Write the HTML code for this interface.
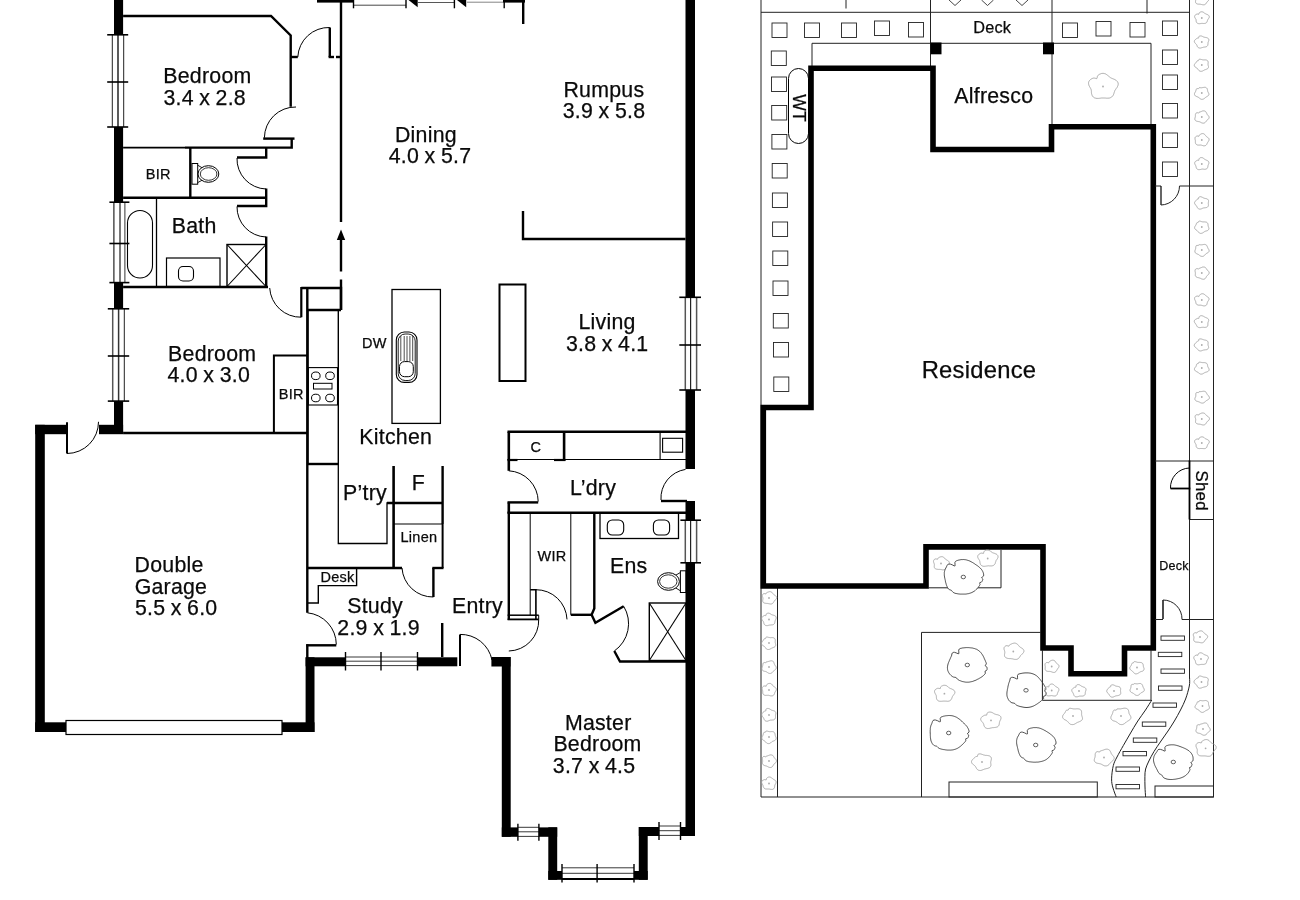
<!DOCTYPE html>
<html lang="en">
<head>
<meta charset="utf-8">
<title>Floor Plan</title>
<style>
html,body{margin:0;padding:0;background:#fff;}
body{width:1300px;height:900px;overflow:hidden;}
svg{display:block;filter:grayscale(1);}
svg text{font-family:"Liberation Sans",Arial,Helvetica,sans-serif;fill:#0a0a0a;stroke:#0a0a0a;stroke-width:0.25px;letter-spacing:0.25px;word-spacing:-0.7px;}
</style>
</head>
<body>
<svg width="1300" height="900" viewBox="0 0 1300 900">
<rect x="0" y="0" width="1300" height="900" fill="#fff"/>
<g id="floorplan">
<rect x="114.0" y="0.0" width="9.1" height="34.8" fill="#000"/>
<rect x="114.0" y="127.0" width="9.1" height="75.2" fill="#000"/>
<rect x="114.0" y="282.6" width="9.1" height="26.2" fill="#000"/>
<rect x="114.0" y="401.1" width="9.1" height="31.9" fill="#000"/>
<rect x="99.0" y="424.8" width="24.1" height="9.4" fill="#000"/>
<rect x="685.5" y="0.0" width="9.5" height="297.3" fill="#000"/>
<rect x="685.5" y="390.0" width="9.5" height="79.0" fill="#000"/>
<rect x="685.5" y="501.0" width="9.5" height="19.5" fill="#000"/>
<rect x="685.5" y="563.0" width="9.5" height="273.0" fill="#000"/>
<rect x="317.0" y="0.0" width="36.0" height="2.6" fill="#000"/>
<rect x="503.0" y="0.0" width="22.0" height="2.6" fill="#000"/>
<rect x="35.2" y="424.8" width="9.6" height="307.2" fill="#000"/>
<rect x="35.2" y="424.8" width="32.3" height="9.4" fill="#000"/>
<rect x="35.2" y="722.3" width="30.8" height="9.7" fill="#000"/>
<rect x="282.0" y="722.3" width="32.5" height="9.7" fill="#000"/>
<rect x="305.6" y="657.3" width="8.9" height="74.7" fill="#000"/>
<rect x="305.6" y="657.3" width="39.7" height="9.0" fill="#000"/>
<rect x="417.5" y="657.3" width="39.8" height="9.0" fill="#000"/>
<rect x="491.4" y="657.0" width="19.1" height="9.5" fill="#000"/>
<rect x="501.8" y="657.0" width="8.9" height="179.8" fill="#000"/>
<rect x="501.8" y="827.4" width="16.2" height="9.4" fill="#000"/>
<rect x="539.0" y="827.4" width="18.2" height="9.4" fill="#000"/>
<rect x="548.3" y="827.3" width="8.9" height="52.5" fill="#000"/>
<rect x="548.3" y="871.0" width="13.7" height="8.8" fill="#000"/>
<rect x="634.0" y="871.0" width="13.7" height="8.8" fill="#000"/>
<rect x="638.8" y="827.0" width="8.9" height="52.8" fill="#000"/>
<rect x="638.8" y="827.0" width="20.2" height="9.0" fill="#000"/>
<rect x="680.5" y="827.0" width="14.5" height="9.0" fill="#000"/>
<line x1="112.3" y1="34.8" x2="112.3" y2="127.0" stroke="#222" stroke-width="1.0"/>
<line x1="118.0" y1="34.8" x2="118.0" y2="127.0" stroke="#333" stroke-width="1.6"/>
<line x1="123.7" y1="34.8" x2="123.7" y2="127.0" stroke="#222" stroke-width="1.0"/>
<line x1="107.2" y1="34.8" x2="128.2" y2="34.8" stroke="#000" stroke-width="1.6"/>
<line x1="107.2" y1="82.0" x2="128.2" y2="82.0" stroke="#000" stroke-width="1.6"/>
<line x1="107.2" y1="127.0" x2="128.2" y2="127.0" stroke="#000" stroke-width="1.6"/>
<line x1="113.9" y1="202.2" x2="113.9" y2="282.6" stroke="#111" stroke-width="1.1"/>
<line x1="120.0" y1="202.2" x2="120.0" y2="282.6" stroke="#555" stroke-width="1.6"/>
<line x1="124.9" y1="202.2" x2="124.9" y2="282.6" stroke="#333" stroke-width="1.0"/>
<line x1="109.4" y1="202.2" x2="129.4" y2="202.2" stroke="#000" stroke-width="1.6"/>
<line x1="109.4" y1="243.5" x2="129.4" y2="243.5" stroke="#000" stroke-width="1.6"/>
<line x1="109.4" y1="282.6" x2="129.4" y2="282.6" stroke="#000" stroke-width="1.6"/>
<line x1="112.7" y1="308.8" x2="112.7" y2="401.1" stroke="#555" stroke-width="1.5"/>
<line x1="118.6" y1="308.8" x2="118.6" y2="401.1" stroke="#333" stroke-width="1.5"/>
<line x1="124.3" y1="308.8" x2="124.3" y2="401.1" stroke="#222" stroke-width="1.0"/>
<line x1="107.8" y1="308.8" x2="129.2" y2="308.8" stroke="#000" stroke-width="1.6"/>
<line x1="107.8" y1="356.0" x2="129.2" y2="356.0" stroke="#000" stroke-width="1.6"/>
<line x1="107.8" y1="401.1" x2="129.2" y2="401.1" stroke="#000" stroke-width="1.6"/>
<line x1="685.3" y1="297.3" x2="685.3" y2="390.0" stroke="#555" stroke-width="1.5"/>
<line x1="690.6" y1="297.3" x2="690.6" y2="390.0" stroke="#222" stroke-width="1.2"/>
<line x1="696.6" y1="297.3" x2="696.6" y2="390.0" stroke="#555" stroke-width="1.5"/>
<line x1="679.3" y1="297.3" x2="701.0" y2="297.3" stroke="#000" stroke-width="1.6"/>
<line x1="679.3" y1="345.0" x2="701.0" y2="345.0" stroke="#000" stroke-width="1.6"/>
<line x1="679.3" y1="390.0" x2="701.0" y2="390.0" stroke="#000" stroke-width="1.6"/>
<line x1="685.3" y1="520.5" x2="685.3" y2="563.0" stroke="#555" stroke-width="1.5"/>
<line x1="690.6" y1="520.5" x2="690.6" y2="563.0" stroke="#222" stroke-width="1.2"/>
<line x1="696.6" y1="520.5" x2="696.6" y2="563.0" stroke="#555" stroke-width="1.5"/>
<line x1="680.4" y1="520.2" x2="701.0" y2="520.2" stroke="#000" stroke-width="1.6"/>
<line x1="680.4" y1="562.8" x2="701.0" y2="562.8" stroke="#000" stroke-width="1.6"/>
<line x1="345.3" y1="657.0" x2="417.5" y2="657.0" stroke="#222" stroke-width="0.9"/>
<line x1="345.3" y1="661.2" x2="417.5" y2="661.2" stroke="#222" stroke-width="0.9"/>
<line x1="345.3" y1="665.6" x2="417.5" y2="665.6" stroke="#222" stroke-width="0.9"/>
<line x1="345.5" y1="652.0" x2="345.5" y2="670.5" stroke="#000" stroke-width="1.4"/>
<line x1="381.0" y1="652.0" x2="381.0" y2="670.5" stroke="#000" stroke-width="1.4"/>
<line x1="417.5" y1="652.0" x2="417.5" y2="670.5" stroke="#000" stroke-width="1.4"/>
<line x1="518.0" y1="827.3" x2="539.0" y2="827.3" stroke="#222" stroke-width="0.9"/>
<line x1="518.0" y1="831.8" x2="539.0" y2="831.8" stroke="#222" stroke-width="0.9"/>
<line x1="518.0" y1="836.4" x2="539.0" y2="836.4" stroke="#222" stroke-width="0.9"/>
<line x1="517.9" y1="823.7" x2="517.9" y2="840.7" stroke="#000" stroke-width="1.4"/>
<line x1="538.9" y1="823.7" x2="538.9" y2="840.7" stroke="#000" stroke-width="1.4"/>
<line x1="659.0" y1="826.0" x2="680.5" y2="826.0" stroke="#222" stroke-width="0.9"/>
<line x1="659.0" y1="830.7" x2="680.5" y2="830.7" stroke="#222" stroke-width="0.9"/>
<line x1="659.0" y1="835.4" x2="680.5" y2="835.4" stroke="#222" stroke-width="0.9"/>
<line x1="659.0" y1="822.0" x2="659.0" y2="840.0" stroke="#000" stroke-width="1.4"/>
<line x1="680.5" y1="822.0" x2="680.5" y2="840.0" stroke="#000" stroke-width="1.4"/>
<line x1="562.0" y1="867.8" x2="634.0" y2="867.8" stroke="#222" stroke-width="0.9"/>
<line x1="562.0" y1="873.3" x2="634.0" y2="873.3" stroke="#222" stroke-width="0.9"/>
<line x1="562.0" y1="864.0" x2="562.0" y2="882.4" stroke="#000" stroke-width="1.4"/>
<line x1="597.1" y1="864.0" x2="597.1" y2="882.4" stroke="#000" stroke-width="1.4"/>
<line x1="634.0" y1="864.0" x2="634.0" y2="882.4" stroke="#000" stroke-width="1.4"/>
<line x1="562.0" y1="879.0" x2="634.0" y2="879.0" stroke="#000" stroke-width="1.8"/>
<rect x="66.0" y="720.5" width="216.0" height="14.0" fill="#fff" stroke="#000" stroke-width="1.2"/>
<line x1="353.5" y1="5.2" x2="406.0" y2="5.2" stroke="#333" stroke-width="0.9"/>
<line x1="418.0" y1="2.5" x2="454.0" y2="2.5" stroke="#444" stroke-width="0.9"/>
<line x1="467.0" y1="2.2" x2="503.0" y2="2.2" stroke="#777" stroke-width="0.9"/>
<line x1="353.5" y1="0.0" x2="353.5" y2="8.3" stroke="#000" stroke-width="1.4"/>
<line x1="406.0" y1="0.0" x2="406.0" y2="8.3" stroke="#000" stroke-width="1.4"/>
<line x1="454.4" y1="0.0" x2="454.4" y2="8.3" stroke="#000" stroke-width="1.4"/>
<line x1="504.2" y1="0.0" x2="504.2" y2="8.3" stroke="#000" stroke-width="1.4"/>
<path d="M408.5,0.0 L417.7,0.0 L417.7,7.3 Z" fill="#000" stroke="#000" stroke-width="0" stroke-linejoin="miter"/>
<path d="M457.0,0.0 L466.2,0.0 L466.2,7.3 Z" fill="#000" stroke="#000" stroke-width="0" stroke-linejoin="miter"/>
<line x1="523.2" y1="0.0" x2="523.2" y2="24.0" stroke="#000" stroke-width="2.4"/>
<path d="M123.1,16.0 L271.0,16.0 L290.7,35.5 L290.7,106.7" fill="none" stroke="#000" stroke-width="2.4" stroke-linejoin="miter"/>
<line x1="290.7" y1="57.0" x2="297.8" y2="57.0" stroke="#000" stroke-width="2.4"/>
<path d="M297.8,57.0 A31,31 0 0 1 329.8,27.5" fill="none" stroke="#000" stroke-width="1.0"/>
<line x1="329.8" y1="27.5" x2="329.8" y2="57.0" stroke="#000" stroke-width="2.4"/>
<line x1="328.6" y1="57.0" x2="334.0" y2="57.0" stroke="#000" stroke-width="2.4"/>
<line x1="336.0" y1="57.0" x2="341.0" y2="57.0" stroke="#000" stroke-width="2.4"/>
<line x1="341.0" y1="0.0" x2="341.0" y2="222.0" stroke="#000" stroke-width="2.4"/>
<path d="M341.0,229.5 L336.8,240.0 L345.2,240.0 Z" fill="#000" stroke="#000" stroke-width="0" stroke-linejoin="miter"/>
<line x1="341.0" y1="239.5" x2="341.0" y2="271.5" stroke="#000" stroke-width="2.4"/>
<line x1="341.0" y1="279.5" x2="341.0" y2="310.0" stroke="#000" stroke-width="2.4"/>
<path d="M296.0,107.0 A31,31 0 0 0 264.4,137.8" fill="none" stroke="#000" stroke-width="1.0"/>
<line x1="263.2" y1="138.6" x2="294.5" y2="138.6" stroke="#000" stroke-width="2.4"/>
<path d="M291.7,138.6 L291.7,147.6 L185.0,147.6" fill="none" stroke="#000" stroke-width="2.4" stroke-linejoin="miter"/>
<line x1="123.1" y1="147.6" x2="185.0" y2="147.6" stroke="#000" stroke-width="1.6"/>
<path d="M266.2,147.6 L266.2,157.5 L237.0,157.5" fill="none" stroke="#000" stroke-width="2.4" stroke-linejoin="miter"/>
<line x1="190.3" y1="147.6" x2="190.3" y2="197.7" stroke="#000" stroke-width="2.4"/>
<line x1="123.1" y1="197.7" x2="266.2" y2="197.7" stroke="#000" stroke-width="2.4"/>
<path d="M237.0,158.0 A30,30 0 0 0 266.0,189.0" fill="none" stroke="#000" stroke-width="1.0"/>
<path d="M266.2,188.5 L266.2,206.0 L237.0,206.0" fill="none" stroke="#000" stroke-width="2.4" stroke-linejoin="miter"/>
<path d="M237.0,206.5 A30,30 0 0 0 266.0,237.0" fill="none" stroke="#000" stroke-width="1.0"/>
<line x1="266.2" y1="236.5" x2="266.2" y2="288.0" stroke="#000" stroke-width="2.4"/>
<line x1="123.1" y1="287.0" x2="268.0" y2="287.0" stroke="#000" stroke-width="2.4"/>
<line x1="156.5" y1="198.0" x2="156.5" y2="287.0" stroke="#000" stroke-width="1.3"/>
<rect x="127.5" y="210.5" width="25.0" height="67.5" rx="12.5" fill="none" stroke="#000" stroke-width="1.1"/>
<rect x="166.5" y="258.0" width="53.5" height="28.5" fill="none" stroke="#000" stroke-width="1.2"/>
<rect x="178.5" y="266.5" width="15.0" height="14.5" rx="4.5" fill="none" stroke="#000" stroke-width="1.1"/>
<rect x="227.0" y="244.5" width="39.0" height="42.0" fill="none" stroke="#000" stroke-width="1.4"/>
<line x1="227.0" y1="244.5" x2="266.0" y2="286.5" stroke="#000" stroke-width="1.1"/>
<line x1="227.0" y1="286.5" x2="266.0" y2="244.5" stroke="#000" stroke-width="1.1"/>
<rect x="192.0" y="163.5" width="5.7" height="20.7" fill="none" stroke="#000" stroke-width="1.0"/>
<path d="M197.7,165.2 L202.5,168 M197.7,182.6 L202.5,180" fill="none" stroke="#000" stroke-width="0.9"/>
<ellipse cx="208.4" cy="174" rx="10.4" ry="8.3" fill="#fff" stroke="#000" stroke-width="1"/>
<ellipse cx="208.6" cy="174" rx="8.3" ry="6.3" fill="none" stroke="#000" stroke-width="0.8"/>
<path d="M269.7,288.0 A31,31 0 0 0 301.3,317.2" fill="none" stroke="#000" stroke-width="1.0"/>
<line x1="301.3" y1="287.0" x2="301.3" y2="317.2" stroke="#000" stroke-width="2.2"/>
<line x1="123.1" y1="433.0" x2="307.0" y2="433.0" stroke="#000" stroke-width="2.4"/>
<path d="M307.0,355.4 L273.9,355.4 L273.9,433.0" fill="none" stroke="#000" stroke-width="2.0" stroke-linejoin="miter"/>
<line x1="307.3" y1="288.0" x2="307.3" y2="612.8" stroke="#000" stroke-width="2.4"/>
<line x1="307.3" y1="644.3" x2="307.3" y2="658.0" stroke="#000" stroke-width="2.4"/>
<path d="M301.3,288.0 L341.0,288.0 L341.0,310.0" fill="none" stroke="#000" stroke-width="2.4" stroke-linejoin="miter"/>
<rect x="308.0" y="310.0" width="30.3" height="154.0" fill="none" stroke="#000" stroke-width="1.4"/>
<line x1="307.0" y1="310.0" x2="341.0" y2="310.0" stroke="#000" stroke-width="2.4"/>
<line x1="307.0" y1="464.0" x2="338.3" y2="464.0" stroke="#000" stroke-width="2.4"/>
<rect x="308.3" y="367.6" width="29.2" height="37.4" fill="none" stroke="#000" stroke-width="1.1"/>
<ellipse cx="315.8" cy="375.8" rx="4.3" ry="3.8" fill="none" stroke="#000" stroke-width="1"/>
<ellipse cx="330" cy="375.8" rx="4.3" ry="3.8" fill="none" stroke="#000" stroke-width="1"/>
<ellipse cx="315.8" cy="398" rx="4.3" ry="3.8" fill="none" stroke="#000" stroke-width="1"/>
<ellipse cx="330" cy="398" rx="4.3" ry="3.8" fill="none" stroke="#000" stroke-width="1"/>
<rect x="313.5" y="383.3" width="18.5" height="5.7" fill="none" stroke="#000" stroke-width="1.0"/>
<rect x="392.0" y="289.5" width="48.4" height="133.9" fill="none" stroke="#000" stroke-width="1.3"/>
<rect x="396.3" y="332.0" width="20.7" height="50.4" rx="8" fill="none" stroke="#000" stroke-width="1.1"/>
<rect x="398.2" y="334.0" width="17.0" height="46.5" rx="7" fill="none" stroke="#000" stroke-width="0.9"/>
<line x1="400.8" y1="336.0" x2="400.8" y2="361.0" stroke="#222" stroke-width="0.8"/>
<line x1="404.2" y1="336.0" x2="404.2" y2="361.0" stroke="#222" stroke-width="0.8"/>
<line x1="407.0" y1="336.0" x2="407.0" y2="361.0" stroke="#222" stroke-width="0.8"/>
<line x1="409.9" y1="336.0" x2="409.9" y2="361.0" stroke="#222" stroke-width="0.8"/>
<line x1="412.7" y1="336.0" x2="412.7" y2="361.0" stroke="#222" stroke-width="0.8"/>
<rect x="399.5" y="361.6" width="13.8" height="15.1" rx="5" fill="none" stroke="#000" stroke-width="1.0"/>
<rect x="499.5" y="284.5" width="26.0" height="96.5" fill="none" stroke="#000" stroke-width="2.0"/>
<path d="M523.0,211.0 L523.0,239.0 L685.5,239.0" fill="none" stroke="#000" stroke-width="2.4" stroke-linejoin="miter"/>
<path d="M338.3,464.0 L338.3,543.5 L387.0,543.5 L387.0,503.0 L394.0,503.0" fill="none" stroke="#000" stroke-width="1.3" stroke-linejoin="miter"/>
<line x1="393.6" y1="466.0" x2="393.6" y2="568.0" stroke="#000" stroke-width="2.6"/>
<line x1="442.6" y1="466.0" x2="442.6" y2="524.0" stroke="#000" stroke-width="2.4"/>
<line x1="442.6" y1="524.0" x2="442.6" y2="568.0" stroke="#000" stroke-width="2.0"/>
<line x1="387.0" y1="503.0" x2="443.0" y2="503.0" stroke="#000" stroke-width="2.4"/>
<line x1="394.0" y1="524.0" x2="443.0" y2="524.0" stroke="#000" stroke-width="1.2"/>
<line x1="307.0" y1="568.0" x2="402.0" y2="568.0" stroke="#000" stroke-width="2.6"/>
<line x1="432.3" y1="568.0" x2="443.5" y2="568.0" stroke="#000" stroke-width="2.4"/>
<path d="M402.0,568.0 A31,31 0 0 0 433.4,597.0" fill="none" stroke="#000" stroke-width="1.0"/>
<line x1="433.4" y1="568.0" x2="433.4" y2="597.0" stroke="#000" stroke-width="2.4"/>
<path d="M356.6,568.0 L356.6,585.6 L318.3,585.6 L318.3,603.0 L307.4,603.0" fill="none" stroke="#000" stroke-width="1.4" stroke-linejoin="miter"/>
<path d="M307.4,612.8 A32,32 0 0 1 336.3,644.5" fill="none" stroke="#000" stroke-width="1.0"/>
<line x1="306.2" y1="645.3" x2="336.3" y2="645.3" stroke="#000" stroke-width="2.4"/>
<line x1="442.2" y1="623.0" x2="442.2" y2="657.0" stroke="#000" stroke-width="2.4"/>
<line x1="460.0" y1="634.4" x2="460.0" y2="666.0" stroke="#000" stroke-width="2.0"/>
<path d="M460.0,634.4 A32,32 0 0 1 492.0,660.0" fill="none" stroke="#000" stroke-width="1.0"/>
<line x1="67.0" y1="422.3" x2="67.0" y2="453.5" stroke="#000" stroke-width="2.0"/>
<path d="M67.0,453.5 A31.6,31.6 0 0 0 98.5,421.8" fill="none" stroke="#000" stroke-width="1.0"/>
<line x1="507.5" y1="431.7" x2="686.0" y2="431.7" stroke="#000" stroke-width="2.4"/>
<line x1="508.8" y1="431.7" x2="508.8" y2="470.8" stroke="#000" stroke-width="2.6"/>
<line x1="564.1" y1="431.7" x2="564.1" y2="461.0" stroke="#000" stroke-width="2.6"/>
<line x1="507.5" y1="459.5" x2="686.0" y2="459.5" stroke="#000" stroke-width="1.2"/>
<line x1="507.5" y1="460.0" x2="517.5" y2="460.0" stroke="#000" stroke-width="2.2"/>
<line x1="554.0" y1="460.0" x2="565.4" y2="460.0" stroke="#000" stroke-width="2.2"/>
<line x1="660.1" y1="431.7" x2="660.1" y2="459.5" stroke="#000" stroke-width="1.1"/>
<rect x="662.6" y="438.3" width="20.0" height="13.9" fill="none" stroke="#000" stroke-width="1.1"/>
<path d="M508.8,470.8 A31,31 0 0 1 538.2,501.5" fill="none" stroke="#000" stroke-width="1.0"/>
<line x1="507.5" y1="502.4" x2="538.2" y2="502.4" stroke="#000" stroke-width="2.4"/>
<path d="M685.5,469.4 A29,29 0 0 0 661.0,500.0" fill="none" stroke="#000" stroke-width="1.0"/>
<line x1="661.0" y1="501.0" x2="687.0" y2="501.0" stroke="#000" stroke-width="2.4"/>
<line x1="508.8" y1="502.4" x2="508.8" y2="512.7" stroke="#000" stroke-width="2.6"/>
<line x1="507.5" y1="512.7" x2="687.0" y2="512.7" stroke="#000" stroke-width="2.6"/>
<line x1="508.8" y1="512.0" x2="508.8" y2="620.0" stroke="#000" stroke-width="2.4"/>
<line x1="530.2" y1="512.0" x2="530.2" y2="615.2" stroke="#000" stroke-width="1.0"/>
<path d="M530.2,589.7 L535.9,589.7 L535.9,619.4" fill="none" stroke="#000" stroke-width="1.6" stroke-linejoin="miter"/>
<path d="M535.9,589.7 A31,31 0 0 1 567.0,619.4" fill="none" stroke="#000" stroke-width="1.0"/>
<line x1="507.6" y1="615.2" x2="538.7" y2="615.2" stroke="#000" stroke-width="1.5"/>
<line x1="507.6" y1="619.4" x2="538.7" y2="619.4" stroke="#000" stroke-width="1.8"/>
<line x1="538.7" y1="615.2" x2="538.7" y2="619.4" stroke="#000" stroke-width="1.0"/>
<path d="M538.7,619.4 A30.5,30.5 0 0 1 508.8,651.0" fill="none" stroke="#000" stroke-width="1.0"/>
<line x1="570.8" y1="512.0" x2="570.8" y2="614.8" stroke="#000" stroke-width="1.0"/>
<line x1="570.8" y1="614.8" x2="591.6" y2="614.8" stroke="#000" stroke-width="2.4"/>
<path d="M594.3,512.0 L594.3,608.6 L591.6,614.8 L595.4,622.8 L623.7,606.3" fill="none" stroke="#000" stroke-width="2.4" stroke-linejoin="miter"/>
<path d="M623.7,606.3 A33.3,33.3 0 0 1 614.3,651.0" fill="none" stroke="#000" stroke-width="1.0"/>
<path d="M614.3,651.0 L620.0,661.5 L686.0,661.5" fill="none" stroke="#000" stroke-width="2.4" stroke-linejoin="miter"/>
<rect x="600.0" y="513.0" width="78.5" height="25.5" fill="none" stroke="#000" stroke-width="1.3"/>
<rect x="607.3" y="520.0" width="16.4" height="15.0" rx="5" fill="none" stroke="#000" stroke-width="1.1"/>
<rect x="653.4" y="520.0" width="16.2" height="15.0" rx="5" fill="none" stroke="#000" stroke-width="1.1"/>
<rect x="680.4" y="570.8" width="5.6" height="21.7" fill="none" stroke="#000" stroke-width="1.0"/>
<path d="M680.4,572.5 L675.5,575.3 M680.4,590.8 L675.5,587.8" fill="none" stroke="#000" stroke-width="0.9"/>
<ellipse cx="668.5" cy="581.5" rx="10.9" ry="8.8" fill="#fff" stroke="#000" stroke-width="1"/>
<ellipse cx="668.3" cy="581.5" rx="8.7" ry="6.7" fill="none" stroke="#000" stroke-width="0.8"/>
<rect x="649.3" y="603.0" width="36.7" height="57.5" fill="none" stroke="#000" stroke-width="1.4"/>
<line x1="649.3" y1="603.0" x2="686.0" y2="660.5" stroke="#000" stroke-width="1.1"/>
<line x1="649.3" y1="660.5" x2="686.0" y2="603.0" stroke="#000" stroke-width="1.1"/>
<text x="207.4" y="83.1" font-size="21.3" text-anchor="middle">Bedroom</text>
<text x="204.7" y="104.7" font-size="21.3" text-anchor="middle">3.4 x 2.8</text>
<text x="158.2" y="179.4" font-size="14.5" text-anchor="middle">BIR</text>
<text x="194.2" y="233.4" font-size="21.3" text-anchor="middle">Bath</text>
<text x="425.9" y="142.3" font-size="21.3" text-anchor="middle">Dining</text>
<text x="430.0" y="163.4" font-size="21.3" text-anchor="middle">4.0 x 5.7</text>
<text x="603.9" y="96.6" font-size="21.3" text-anchor="middle">Rumpus</text>
<text x="604.0" y="117.8" font-size="21.3" text-anchor="middle">3.9 x 5.8</text>
<text x="607.1" y="329.4" font-size="21.3" text-anchor="middle">Living</text>
<text x="607.2" y="350.6" font-size="21.3" text-anchor="middle">3.8 x 4.1</text>
<text x="212.2" y="360.6" font-size="21.3" text-anchor="middle">Bedroom</text>
<text x="208.8" y="381.9" font-size="21.3" text-anchor="middle">4.0 x 3.0</text>
<text x="291.2" y="399.4" font-size="14.5" text-anchor="middle">BIR</text>
<text x="374.3" y="348.0" font-size="14.5" text-anchor="middle">DW</text>
<text x="395.7" y="443.9" font-size="21.3" text-anchor="middle">Kitchen</text>
<text x="365.0" y="499.6" font-size="21.3" text-anchor="middle">P’try</text>
<text x="418.4" y="489.6" font-size="21.3" text-anchor="middle">F</text>
<text x="418.9" y="542.3" font-size="14.5" text-anchor="middle">Linen</text>
<text x="337.6" y="581.8" font-size="14.5" text-anchor="middle">Desk</text>
<text x="375.1" y="613.4" font-size="21.3" text-anchor="middle">Study</text>
<text x="378.6" y="635.2" font-size="21.3" text-anchor="middle">2.9 x 1.9</text>
<text x="477.5" y="612.9" font-size="21.3" text-anchor="middle">Entry</text>
<text x="535.9" y="451.9" font-size="14.5" text-anchor="middle">C</text>
<text x="593.0" y="495.1" font-size="21.3" text-anchor="middle">L’dry</text>
<text x="552.0" y="561.0" font-size="14.5" text-anchor="middle">WIR</text>
<text x="628.7" y="572.7" font-size="21.3" text-anchor="middle">Ens</text>
<text x="169.1" y="572.3" font-size="21.3" text-anchor="middle">Double</text>
<text x="170.9" y="593.6" font-size="21.3" text-anchor="middle">Garage</text>
<text x="176.2" y="614.9" font-size="21.3" text-anchor="middle">5.5 x 6.0</text>
<text x="598.2" y="729.9" font-size="21.3" text-anchor="middle">Master</text>
<text x="597.5" y="751.3" font-size="21.3" text-anchor="middle">Bedroom</text>
<text x="594.1" y="772.6" font-size="21.3" text-anchor="middle">3.7 x 4.5</text>
</g>
<g id="siteplan">
<line x1="761.0" y1="0.0" x2="761.0" y2="797.0" stroke="#222" stroke-width="1.0"/>
<line x1="761.0" y1="12.3" x2="1189.5" y2="12.3" stroke="#222" stroke-width="1.0"/>
<line x1="846.0" y1="0.0" x2="846.0" y2="8.5" stroke="#222" stroke-width="1.0"/>
<line x1="930.5" y1="0.0" x2="930.5" y2="66.0" stroke="#222" stroke-width="1.0"/>
<line x1="1052.0" y1="0.0" x2="1052.0" y2="124.0" stroke="#222" stroke-width="1.0"/>
<line x1="1147.0" y1="0.0" x2="1147.0" y2="13.5" stroke="#222" stroke-width="1.0"/>
<line x1="1189.5" y1="0.0" x2="1189.5" y2="678.5" stroke="#222" stroke-width="1.0"/>
<line x1="1213.5" y1="0.0" x2="1213.5" y2="797.0" stroke="#222" stroke-width="1.0"/>
<line x1="761.0" y1="797.0" x2="1213.5" y2="797.0" stroke="#222" stroke-width="1.2"/>
<line x1="777.5" y1="588.0" x2="777.5" y2="797.0" stroke="#222" stroke-width="1.0"/>
<path d="M812.0,66.0 L812.0,43.3 L1151.0,43.3 L1151.0,125.0" fill="none" stroke="#222" stroke-width="1.0" stroke-linejoin="miter"/>
<path d="M949.0,0.0 L955.0,5.5 L961.0,0.0" fill="none" stroke="#333" stroke-width="0.9" stroke-linejoin="miter"/>
<path d="M981.5,0.0 L987.5,5.5 L993.5,0.0" fill="none" stroke="#333" stroke-width="0.9" stroke-linejoin="miter"/>
<path d="M1016.0,0.0 L1022.0,5.5 L1028.0,0.0" fill="none" stroke="#333" stroke-width="0.9" stroke-linejoin="miter"/>
<rect x="930.5" y="42.5" width="11.0" height="11.8" fill="#000"/>
<rect x="1043.0" y="42.5" width="11.0" height="11.8" fill="#000"/>
<rect x="772.0" y="23.0" width="15.0" height="14.5" fill="none" stroke="#222" stroke-width="0.9"/>
<rect x="804.5" y="23.0" width="15.0" height="14.5" fill="none" stroke="#222" stroke-width="0.9"/>
<rect x="841.5" y="23.0" width="15.0" height="14.5" fill="none" stroke="#222" stroke-width="0.9"/>
<rect x="874.5" y="21.0" width="15.0" height="14.5" fill="none" stroke="#222" stroke-width="0.9"/>
<rect x="908.5" y="22.5" width="15.0" height="14.5" fill="none" stroke="#222" stroke-width="0.9"/>
<rect x="1062.5" y="23.0" width="15.0" height="14.5" fill="none" stroke="#222" stroke-width="0.9"/>
<rect x="1096.0" y="21.5" width="15.0" height="14.5" fill="none" stroke="#222" stroke-width="0.9"/>
<rect x="1130.0" y="22.5" width="15.0" height="14.5" fill="none" stroke="#222" stroke-width="0.9"/>
<rect x="1162.5" y="21.0" width="15.0" height="14.5" fill="none" stroke="#222" stroke-width="0.9"/>
<rect x="771.3" y="51.0" width="15.0" height="14.5" fill="none" stroke="#222" stroke-width="0.9"/>
<rect x="771.5" y="77.0" width="15.0" height="14.5" fill="none" stroke="#222" stroke-width="0.9"/>
<rect x="771.7" y="105.5" width="15.0" height="14.5" fill="none" stroke="#222" stroke-width="0.9"/>
<rect x="771.9" y="134.5" width="15.0" height="14.5" fill="none" stroke="#222" stroke-width="0.9"/>
<rect x="772.2" y="163.5" width="15.0" height="14.5" fill="none" stroke="#222" stroke-width="0.9"/>
<rect x="772.4" y="193.0" width="15.0" height="14.5" fill="none" stroke="#222" stroke-width="0.9"/>
<rect x="772.6" y="222.0" width="15.0" height="14.5" fill="none" stroke="#222" stroke-width="0.9"/>
<rect x="772.8" y="251.0" width="15.0" height="14.5" fill="none" stroke="#222" stroke-width="0.9"/>
<rect x="773.0" y="281.0" width="15.0" height="14.5" fill="none" stroke="#222" stroke-width="0.9"/>
<rect x="773.3" y="313.5" width="15.0" height="14.5" fill="none" stroke="#222" stroke-width="0.9"/>
<rect x="773.5" y="342.5" width="15.0" height="14.5" fill="none" stroke="#222" stroke-width="0.9"/>
<rect x="773.8" y="377.0" width="15.0" height="14.5" fill="none" stroke="#222" stroke-width="0.9"/>
<rect x="1162.5" y="50.0" width="15.0" height="14.5" fill="none" stroke="#222" stroke-width="0.9"/>
<rect x="1162.5" y="75.0" width="15.0" height="14.5" fill="none" stroke="#222" stroke-width="0.9"/>
<rect x="1162.5" y="103.5" width="15.0" height="14.5" fill="none" stroke="#222" stroke-width="0.9"/>
<rect x="1162.5" y="133.0" width="15.0" height="14.5" fill="none" stroke="#222" stroke-width="0.9"/>
<rect x="1162.5" y="162.0" width="15.0" height="14.5" fill="none" stroke="#222" stroke-width="0.9"/>
<rect x="788.5" y="68.5" width="20.0" height="75.0" rx="10" fill="none" stroke="#000" stroke-width="1.0"/>
<text x="799" y="108" font-size="17.5" text-anchor="middle" transform="rotate(90 799 108)" dy="6">WT</text>
<path d="M811.0,68.3 L933.0,68.3 L933.0,149.5 L1051.5,149.5 L1051.5,126.7 L1153.3,126.7 L1153.3,648.0 L1124.5,648.0 L1124.5,673.7 L1071.0,673.7 L1071.0,648.0 L1043.0,648.0 L1043.0,546.9 L926.0,546.9 L926.0,586.0 L763.3,586.0 L763.3,407.5 L811.0,407.5 Z" fill="none" stroke="#000" stroke-width="5.6" stroke-linejoin="miter"/>
<line x1="1155.0" y1="186.0" x2="1161.0" y2="186.0" stroke="#222" stroke-width="1.0"/>
<line x1="1179.5" y1="186.0" x2="1213.5" y2="186.0" stroke="#222" stroke-width="1.0"/>
<line x1="1161.0" y1="186.0" x2="1161.0" y2="205.0" stroke="#000" stroke-width="1.2"/>
<path d="M1161.0,205.0 A19,19 0 0 0 1179.5,186.0" fill="none" stroke="#222" stroke-width="1.0"/>
<line x1="1155.0" y1="461.0" x2="1213.5" y2="461.0" stroke="#222" stroke-width="1.0"/>
<line x1="1189.5" y1="519.5" x2="1213.5" y2="519.5" stroke="#222" stroke-width="1.0"/>
<line x1="1189.5" y1="460.5" x2="1189.5" y2="519.5" stroke="#000" stroke-width="1.8"/>
<line x1="1170.5" y1="488.5" x2="1190.3" y2="488.5" stroke="#000" stroke-width="1.8"/>
<path d="M1170.5,488.5 A19.5,19.5 0 0 1 1189.5,468.0" fill="none" stroke="#000" stroke-width="1.0"/>
<text x="1201.5" y="490.7" font-size="16.8" text-anchor="middle" transform="rotate(90 1201.5 490.7)" dy="5.7">Shed</text>
<text x="1174.0" y="569.5" font-size="12.5" text-anchor="middle">Deck</text>
<line x1="1155.0" y1="619.5" x2="1163.0" y2="619.5" stroke="#222" stroke-width="1.0"/>
<line x1="1182.0" y1="619.5" x2="1213.5" y2="619.5" stroke="#222" stroke-width="1.0"/>
<line x1="1163.0" y1="600.0" x2="1163.0" y2="619.0" stroke="#000" stroke-width="1.4"/>
<path d="M1163.0,600.0 A19,19 0 0 1 1182.0,619.5" fill="none" stroke="#222" stroke-width="1.0"/>
<path d="M1117.5,86.5 L1117.2,87.2 L1116.8,87.8 L1116.3,88.4 L1115.9,88.9 L1115.6,89.5 L1115.2,90.0 L1114.9,90.5 L1114.7,91.1 L1114.5,91.6 L1114.3,92.2 L1114.1,92.8 L1113.9,93.5 L1113.7,94.1 L1113.4,94.8 L1113.1,95.4 L1112.7,96.0 L1112.2,96.5 L1111.7,97.0 L1111.1,97.4 L1110.4,97.7 L1109.6,98.0 L1108.9,98.1 L1108.1,98.2 L1107.3,98.2 L1106.6,98.2 L1105.8,98.1 L1105.1,98.0 L1104.4,98.0 L1103.7,98.0 L1103.0,98.0 L1102.3,98.0 L1101.6,98.0 L1100.9,98.1 L1100.2,98.2 L1099.4,98.3 L1098.6,98.4 L1097.8,98.4 L1097.0,98.4 L1096.1,98.3 L1095.4,98.1 L1094.6,97.9 L1093.9,97.5 L1093.3,97.0 L1092.8,96.5 L1092.4,95.9 L1092.0,95.2 L1091.8,94.5 L1091.6,93.8 L1091.5,93.1 L1091.4,92.4 L1091.4,91.7 L1091.4,91.1 L1091.3,90.5 L1091.2,89.9 L1091.0,89.3 L1090.8,88.8 L1090.5,88.2 L1090.2,87.7 L1089.9,87.1 L1089.5,86.5 L1089.2,85.9 L1088.9,85.2 L1088.7,84.5 L1088.6,83.8 L1088.5,83.1 L1088.6,82.4 L1088.8,81.7 L1089.1,81.1 L1089.5,80.5 L1090.1,79.9 L1090.6,79.5 L1091.3,79.0 L1092.0,78.6 L1092.7,78.3 L1093.4,78.1 L1094.4,78.1 L1095.4,78.3 L1096.4,78.6 L1097.0,78.4 L1097.2,77.6 L1097.3,76.7 L1097.6,75.8 L1098.1,75.3 L1098.7,74.8 L1099.3,74.4 L1100.0,74.1 L1100.7,73.8 L1101.4,73.5 L1102.2,73.4 L1103.0,73.4 L1103.8,73.4 L1104.5,73.6 L1105.3,73.8 L1106.0,74.2 L1106.6,74.6 L1107.2,75.0 L1107.8,75.5 L1108.3,75.9 L1108.9,76.4 L1109.4,76.8 L1109.9,77.2 L1110.4,77.6 L1110.9,77.9 L1111.5,78.2 L1112.2,78.5 L1112.8,78.7 L1113.5,79.0 L1114.3,79.3 L1115.0,79.7 L1115.7,80.1 L1116.3,80.5 L1116.9,81.1 L1117.4,81.6 L1117.8,82.3 L1118.1,83.0 L1118.2,83.7 L1118.2,84.4 L1118.1,85.1 L1117.8,85.8 Z" fill="none" stroke="#a2a2a2" stroke-width="0.9" stroke-linejoin="round"/>
<circle cx="1103.0" cy="86.5" r="0.9" fill="#aaa"/>
<path d="M928.0,587.8 L1001.0,587.8 L1001.0,550.0" fill="none" stroke="#222" stroke-width="1.0" stroke-linejoin="miter"/>
<path d="M949.3,563.5 L949.2,563.9 L949.0,564.2 L948.7,564.5 L948.5,564.8 L948.2,565.1 L947.9,565.4 L947.7,565.7 L947.4,565.9 L947.2,566.2 L947.0,566.4 L946.9,566.7 L946.7,567.0 L946.5,567.3 L946.4,567.6 L946.2,567.9 L946.0,568.2 L945.8,568.5 L945.6,568.8 L945.3,569.1 L945.0,569.3 L944.6,569.5 L944.3,569.7 L943.9,569.8 L943.4,569.8 L943.0,569.8 L942.6,569.8 L942.2,569.8 L941.8,569.7 L941.4,569.6 L941.0,569.5 L940.6,569.5 L940.3,569.4 L939.9,569.4 L939.5,569.4 L939.1,569.3 L938.7,569.4 L938.3,569.4 L937.9,569.4 L937.5,569.3 L937.0,569.3 L936.6,569.2 L936.2,569.1 L935.8,569.0 L935.4,568.8 L935.1,568.5 L934.8,568.2 L934.6,567.9 L934.4,567.5 L934.3,567.2 L934.3,566.8 L934.2,566.4 L934.2,566.0 L934.3,565.7 L934.3,565.3 L934.3,565.0 L934.4,564.7 L934.3,564.4 L934.3,564.1 L934.2,563.8 L934.1,563.5 L934.0,563.2 L933.9,562.9 L933.7,562.5 L933.6,562.2 L933.5,561.8 L933.5,561.4 L933.5,561.1 L933.6,560.7 L933.7,560.4 L933.9,560.0 L934.1,559.7 L934.4,559.5 L934.7,559.2 L935.1,559.0 L935.5,558.9 L936.1,558.9 L936.7,559.1 L937.3,559.2 L937.7,559.2 L937.8,558.9 L937.9,558.4 L938.1,558.1 L938.4,557.8 L938.7,557.7 L939.1,557.5 L939.4,557.3 L939.8,557.1 L940.2,557.0 L940.6,556.8 L941.0,556.7 L941.4,556.7 L941.9,556.7 L942.3,556.7 L942.7,556.8 L943.1,557.0 L943.4,557.2 L943.8,557.4 L944.1,557.7 L944.4,557.9 L944.6,558.2 L944.9,558.5 L945.1,558.8 L945.3,559.0 L945.6,559.2 L945.8,559.5 L946.1,559.6 L946.4,559.8 L946.7,560.0 L947.1,560.2 L947.4,560.4 L947.8,560.6 L948.1,560.8 L948.5,561.1 L948.8,561.4 L949.0,561.7 L949.2,562.0 L949.3,562.4 L949.4,562.8 L949.4,563.1 Z" fill="none" stroke="#a2a2a2" stroke-width="0.9" stroke-linejoin="round"/>
<circle cx="941.0" cy="563.5" r="0.9" fill="#aaa"/>
<path d="M997.5,558.5 L997.2,558.9 L997.0,559.3 L996.7,559.7 L996.5,560.0 L996.2,560.4 L996.0,560.7 L995.9,561.1 L995.8,561.5 L995.6,561.8 L995.5,562.2 L995.4,562.6 L995.3,563.1 L995.2,563.5 L995.0,563.9 L994.7,564.3 L994.4,564.6 L994.1,565.0 L993.7,565.3 L993.2,565.5 L992.7,565.7 L992.2,565.8 L991.7,565.9 L991.2,565.9 L990.6,565.9 L990.1,565.9 L989.6,565.9 L989.1,565.9 L988.6,565.8 L988.2,565.8 L987.7,565.9 L987.2,565.9 L986.7,566.0 L986.2,566.1 L985.7,566.2 L985.2,566.2 L984.6,566.3 L984.1,566.3 L983.5,566.3 L983.0,566.2 L982.4,566.0 L981.9,565.8 L981.5,565.5 L981.1,565.2 L980.8,564.8 L980.5,564.4 L980.3,564.0 L980.2,563.5 L980.1,563.1 L980.0,562.6 L979.9,562.2 L979.9,561.8 L979.8,561.4 L979.7,561.0 L979.6,560.7 L979.5,560.3 L979.3,560.0 L979.0,559.6 L978.8,559.3 L978.5,558.9 L978.3,558.5 L978.1,558.1 L977.9,557.6 L977.7,557.2 L977.7,556.7 L977.7,556.3 L977.8,555.8 L978.0,555.4 L978.2,555.0 L978.5,554.7 L978.9,554.3 L979.3,554.0 L979.8,553.8 L980.2,553.5 L980.7,553.3 L981.2,553.2 L981.8,553.1 L982.6,553.3 L983.2,553.4 L983.6,553.3 L983.7,552.8 L983.7,552.1 L984.0,551.6 L984.3,551.2 L984.7,550.9 L985.1,550.6 L985.6,550.4 L986.1,550.2 L986.6,550.1 L987.2,550.1 L987.7,550.1 L988.2,550.1 L988.7,550.3 L989.2,550.5 L989.7,550.7 L990.2,551.0 L990.6,551.2 L990.9,551.5 L991.3,551.8 L991.7,552.1 L992.0,552.3 L992.4,552.6 L992.8,552.8 L993.2,552.9 L993.6,553.1 L994.1,553.2 L994.6,553.4 L995.1,553.6 L995.6,553.8 L996.1,554.0 L996.6,554.3 L997.0,554.6 L997.4,555.0 L997.7,555.4 L997.9,555.8 L998.0,556.2 L998.0,556.7 L998.0,557.2 L997.9,557.6 L997.7,558.1 Z" fill="none" stroke="#a2a2a2" stroke-width="0.9" stroke-linejoin="round"/>
<circle cx="987.7" cy="558.5" r="0.9" fill="#aaa"/>
<path d="M982.2,577.0 L981.6,577.9 L982.6,578.8 L982.8,579.7 L982.4,580.6 L982.0,581.4 L981.3,582.2 L979.8,582.6 L979.7,583.5 L980.0,584.6 L979.6,585.4 L979.1,586.1 L978.6,586.8 L978.0,587.6 L977.4,588.3 L976.8,589.0 L976.1,589.6 L975.4,590.3 L974.7,590.9 L973.9,591.4 L973.0,591.9 L972.1,592.4 L971.2,592.8 L970.3,593.1 L969.3,593.4 L968.3,593.7 L967.3,593.8 L966.3,594.0 L965.3,594.1 L964.3,594.1 L963.3,594.1 L962.3,594.1 L961.3,594.1 L960.3,594.1 L959.2,594.0 L958.2,593.9 L957.2,593.7 L956.2,593.5 L955.1,593.3 L954.2,592.9 L953.2,592.4 L952.5,591.7 L951.9,590.9 L951.2,590.2 L950.2,589.9 L949.2,589.5 L948.4,588.9 L947.9,588.1 L947.4,587.3 L947.0,586.4 L946.6,585.5 L946.3,584.7 L946.1,583.8 L945.8,582.9 L945.6,582.1 L945.4,581.2 L945.3,580.4 L945.1,579.6 L944.9,578.7 L944.7,577.9 L944.6,577.0 L944.4,576.1 L944.3,575.2 L944.3,574.3 L944.3,573.4 L944.3,572.5 L944.5,571.6 L944.7,570.7 L945.0,569.8 L945.4,568.9 L945.8,568.0 L946.3,567.2 L946.7,566.3 L947.1,565.4 L947.7,564.5 L948.8,564.1 L950.3,564.1 L952.2,564.8 L954.2,565.9 L955.1,565.8 L955.0,564.2 L954.9,562.4 L955.5,561.4 L956.3,560.9 L957.3,560.5 L958.2,560.2 L959.2,560.0 L960.2,559.8 L961.2,559.6 L962.3,559.6 L963.3,559.5 L964.3,559.6 L965.3,559.7 L966.4,559.9 L967.3,560.2 L968.3,560.5 L969.2,560.8 L970.1,561.2 L971.0,561.7 L971.8,562.1 L972.7,562.6 L973.5,563.1 L974.3,563.6 L975.0,564.1 L975.8,564.7 L976.6,565.2 L977.4,565.7 L978.2,566.3 L978.9,566.9 L979.7,567.6 L980.4,568.2 L981.1,569.0 L981.7,569.7 L982.2,570.5 L982.7,571.4 L983.1,572.3 L983.4,573.2 L983.6,574.1 L983.7,575.1 L983.5,576.1 Z" fill="#fff" stroke="#3a3a3a" stroke-width="0.9" stroke-linejoin="round"/>
<ellipse cx="963.3" cy="577.0" rx="2.2" ry="1.8" fill="none" stroke="#3a3a3a" stroke-width="0.8"/>
<path d="M1041.0,632.4 L921.5,632.4 L921.5,797.0" fill="none" stroke="#222" stroke-width="1.0" stroke-linejoin="miter"/>
<rect x="949.0" y="782.0" width="148.3" height="15.0" fill="none" stroke="#222" stroke-width="1.0"/>
<rect x="1155.0" y="786.0" width="58.5" height="11.0" fill="none" stroke="#222" stroke-width="1.0"/>
<path d="M1042.4,650.0 L1042.4,700.3 L1151.0,700.3" fill="none" stroke="#222" stroke-width="1.0" stroke-linejoin="miter"/>
<line x1="1151.0" y1="650.0" x2="1151.0" y2="700.3" stroke="#222" stroke-width="1.0"/>
<path d="M1151.8,700.0 C1150.8,701.7 1147.8,706.5 1145.5,710.0 C1143.2,713.5 1140.4,717.0 1137.8,721.0 C1135.2,725.0 1132.4,729.9 1130.0,734.0 C1127.6,738.1 1125.5,741.8 1123.3,745.6 C1121.1,749.4 1118.7,753.7 1117.0,757.0 C1115.3,760.3 1114.2,762.0 1113.3,765.6 C1112.4,769.2 1111.6,775.2 1111.6,778.9 C1111.5,782.6 1112.2,785.0 1113.0,788.0 C1113.8,791.0 1115.7,795.5 1116.2,797.0" fill="none" stroke="#222" stroke-width="1.0"/>
<path d="M1189.6,678.0 C1189.5,679.3 1190.0,682.5 1189.3,686.0 C1188.6,689.5 1187.1,695.0 1185.6,699.0 C1184.1,703.0 1182.4,706.3 1180.5,710.0 C1178.6,713.7 1176.5,717.5 1174.4,721.0 C1172.3,724.5 1170.2,727.7 1168.0,731.0 C1165.8,734.3 1163.3,737.6 1161.0,741.0 C1158.7,744.4 1156.0,748.2 1154.0,751.5 C1152.0,754.8 1150.3,758.1 1148.9,761.0 C1147.5,763.9 1146.3,766.4 1145.6,769.0 C1144.9,771.6 1145.0,773.7 1144.9,776.7 C1144.8,779.7 1144.9,783.6 1145.0,787.0 C1145.1,790.4 1145.5,795.3 1145.6,797.0" fill="none" stroke="#222" stroke-width="1.0"/>
<rect x="1161.0" y="636.0" width="23.5" height="4.3" fill="none" stroke="#222" stroke-width="0.9"/>
<rect x="1158.3" y="652.3" width="23.5" height="4.3" fill="none" stroke="#222" stroke-width="0.9"/>
<rect x="1161.0" y="669.0" width="23.5" height="4.3" fill="none" stroke="#222" stroke-width="0.9"/>
<rect x="1158.5" y="686.0" width="23.5" height="4.3" fill="none" stroke="#222" stroke-width="0.9"/>
<rect x="1153.0" y="703.0" width="23.5" height="4.3" fill="none" stroke="#222" stroke-width="0.9"/>
<rect x="1142.3" y="722.0" width="23.5" height="4.3" fill="none" stroke="#222" stroke-width="0.9"/>
<rect x="1133.3" y="738.0" width="23.5" height="4.3" fill="none" stroke="#222" stroke-width="0.9"/>
<rect x="1123.0" y="751.5" width="23.5" height="4.3" fill="none" stroke="#222" stroke-width="0.9"/>
<rect x="1116.0" y="767.0" width="23.5" height="4.3" fill="none" stroke="#222" stroke-width="0.9"/>
<rect x="1116.0" y="784.5" width="23.5" height="4.3" fill="none" stroke="#222" stroke-width="0.9"/>
<path d="M985.4,665.0 L985.2,665.8 L986.6,666.8 L987.1,667.8 L987.1,668.7 L987.0,669.7 L986.5,670.5 L985.1,671.1 L985.1,672.0 L985.4,673.2 L984.9,674.0 L984.2,674.8 L983.5,675.5 L982.8,676.1 L982.0,676.7 L981.1,677.3 L980.3,677.8 L979.4,678.3 L978.6,678.8 L977.7,679.2 L976.8,679.7 L976.0,680.1 L975.1,680.5 L974.1,680.8 L973.2,681.2 L972.3,681.5 L971.3,681.7 L970.3,681.9 L969.3,682.1 L968.3,682.2 L967.3,682.2 L966.3,682.2 L965.3,682.1 L964.3,681.9 L963.3,681.7 L962.3,681.5 L961.4,681.2 L960.5,680.8 L959.5,680.5 L958.7,680.0 L957.8,679.5 L957.2,678.8 L956.6,678.0 L955.9,677.5 L954.8,677.3 L953.6,677.1 L952.7,676.7 L951.8,676.1 L951.1,675.5 L950.4,674.8 L949.7,674.0 L949.1,673.2 L948.6,672.4 L948.2,671.5 L947.8,670.6 L947.6,669.7 L947.5,668.7 L947.4,667.8 L947.5,666.8 L947.6,665.9 L947.8,665.0 L948.0,664.1 L948.3,663.2 L948.6,662.4 L949.0,661.5 L949.3,660.7 L949.7,659.9 L950.0,659.1 L950.4,658.3 L950.7,657.5 L951.1,656.7 L951.5,655.9 L951.7,655.0 L951.9,653.9 L952.3,653.0 L953.1,652.4 L954.4,652.3 L956.2,652.9 L958.1,653.7 L958.9,653.6 L958.8,651.9 L958.7,650.1 L959.3,649.0 L960.2,648.5 L961.2,648.3 L962.2,648.0 L963.2,647.9 L964.2,647.8 L965.2,647.7 L966.3,647.6 L967.3,647.6 L968.3,647.6 L969.4,647.7 L970.4,647.8 L971.4,647.9 L972.4,648.0 L973.4,648.3 L974.4,648.5 L975.4,648.9 L976.4,649.2 L977.3,649.7 L978.1,650.2 L978.9,650.8 L979.7,651.4 L980.4,652.1 L981.0,652.8 L981.6,653.6 L982.1,654.3 L982.6,655.1 L983.1,655.9 L983.5,656.7 L983.9,657.5 L984.2,658.3 L984.6,659.1 L984.9,659.9 L985.3,660.7 L985.6,661.5 L986.0,662.4 L986.3,663.2 L986.3,664.1 Z" fill="none" stroke="#3a3a3a" stroke-width="0.9" stroke-linejoin="round"/>
<ellipse cx="967.3" cy="665.0" rx="2.2" ry="1.8" fill="none" stroke="#3a3a3a" stroke-width="0.8"/>
<path d="M1044.9,690.3 L1044.6,691.2 L1045.9,692.2 L1046.2,693.1 L1046.1,694.1 L1045.8,695.0 L1045.2,695.8 L1043.6,696.3 L1043.5,697.2 L1043.7,698.3 L1043.1,699.1 L1042.4,699.8 L1041.7,700.4 L1041.0,701.1 L1040.2,701.7 L1039.5,702.3 L1038.7,702.8 L1037.9,703.4 L1037.2,703.9 L1036.4,704.4 L1035.5,704.9 L1034.7,705.4 L1033.8,705.9 L1032.9,706.2 L1032.0,706.6 L1031.0,706.9 L1030.0,707.1 L1029.0,707.3 L1028.0,707.4 L1027.0,707.5 L1026.0,707.5 L1025.0,707.4 L1024.0,707.3 L1023.0,707.1 L1022.0,706.9 L1021.0,706.7 L1020.1,706.5 L1019.1,706.2 L1018.2,705.9 L1017.2,705.5 L1016.4,705.1 L1015.6,704.4 L1015.0,703.7 L1014.2,703.2 L1013.1,703.0 L1011.9,702.8 L1011.0,702.3 L1010.2,701.7 L1009.5,701.0 L1008.8,700.2 L1008.3,699.4 L1007.9,698.5 L1007.5,697.6 L1007.2,696.7 L1007.0,695.8 L1006.9,694.8 L1006.9,693.9 L1006.9,693.0 L1007.0,692.1 L1007.1,691.2 L1007.3,690.3 L1007.4,689.4 L1007.6,688.6 L1007.8,687.7 L1007.9,686.9 L1008.1,686.0 L1008.3,685.2 L1008.5,684.3 L1008.7,683.5 L1009.0,682.6 L1009.3,681.8 L1009.7,680.9 L1009.9,679.9 L1010.1,678.9 L1010.5,677.9 L1011.5,677.4 L1012.8,677.3 L1014.7,677.9 L1016.7,678.9 L1017.6,678.8 L1017.5,677.2 L1017.5,675.4 L1018.0,674.4 L1018.9,674.0 L1019.9,673.7 L1020.9,673.5 L1021.9,673.3 L1022.9,673.1 L1024.0,673.0 L1025.0,672.9 L1026.0,672.9 L1027.0,672.9 L1028.1,672.9 L1029.1,673.0 L1030.1,673.1 L1031.1,673.3 L1032.1,673.6 L1033.1,673.9 L1034.0,674.3 L1034.9,674.7 L1035.8,675.3 L1036.6,675.8 L1037.3,676.4 L1038.1,677.1 L1038.7,677.8 L1039.3,678.5 L1039.9,679.2 L1040.5,679.9 L1041.0,680.6 L1041.6,681.3 L1042.1,682.1 L1042.6,682.8 L1043.1,683.5 L1043.6,684.3 L1044.1,685.1 L1044.6,685.9 L1045.0,686.7 L1045.5,687.6 L1045.8,688.5 L1045.8,689.4 Z" fill="none" stroke="#3a3a3a" stroke-width="0.9" stroke-linejoin="round"/>
<ellipse cx="1026.0" cy="690.3" rx="2.2" ry="1.8" fill="none" stroke="#3a3a3a" stroke-width="0.8"/>
<path d="M967.9,733.0 L967.4,733.9 L968.5,734.8 L968.7,735.8 L968.4,736.7 L968.0,737.6 L967.3,738.4 L965.7,738.8 L965.6,739.7 L965.8,740.7 L965.3,741.5 L964.7,742.2 L964.0,742.9 L963.4,743.6 L962.7,744.2 L962.1,744.9 L961.4,745.5 L960.7,746.1 L959.9,746.7 L959.1,747.3 L958.3,747.8 L957.5,748.3 L956.6,748.7 L955.7,749.1 L954.7,749.4 L953.7,749.7 L952.7,749.9 L951.7,750.0 L950.7,750.1 L949.7,750.1 L948.7,750.1 L947.7,750.1 L946.7,750.0 L945.7,749.9 L944.7,749.7 L943.7,749.6 L942.7,749.4 L941.7,749.2 L940.7,748.9 L939.7,748.6 L938.8,748.2 L938.1,747.5 L937.4,746.8 L936.6,746.2 L935.6,746.0 L934.5,745.6 L933.6,745.1 L932.9,744.4 L932.3,743.6 L931.8,742.7 L931.4,741.8 L931.1,741.0 L930.8,740.1 L930.7,739.1 L930.5,738.2 L930.4,737.3 L930.4,736.5 L930.3,735.6 L930.3,734.7 L930.3,733.9 L930.2,733.0 L930.2,732.1 L930.2,731.3 L930.2,730.4 L930.3,729.5 L930.3,728.6 L930.4,727.7 L930.6,726.8 L930.8,725.9 L931.1,725.1 L931.5,724.2 L931.9,723.3 L932.2,722.4 L932.5,721.4 L933.0,720.5 L934.1,720.0 L935.5,720.0 L937.5,720.7 L939.4,721.7 L940.4,721.6 L940.3,720.0 L940.2,718.3 L940.8,717.3 L941.7,716.8 L942.7,716.5 L943.6,716.2 L944.6,716.0 L945.6,715.8 L946.6,715.7 L947.7,715.6 L948.7,715.5 L949.7,715.5 L950.8,715.6 L951.8,715.7 L952.8,715.9 L953.8,716.2 L954.7,716.5 L955.7,716.9 L956.6,717.3 L957.4,717.8 L958.2,718.4 L959.0,718.9 L959.8,719.5 L960.5,720.1 L961.2,720.7 L961.9,721.3 L962.5,722.0 L963.2,722.6 L963.9,723.2 L964.5,723.9 L965.2,724.5 L965.8,725.2 L966.5,726.0 L967.1,726.7 L967.6,727.6 L968.1,728.4 L968.5,729.3 L968.8,730.2 L969.1,731.1 L969.0,732.1 Z" fill="none" stroke="#3a3a3a" stroke-width="0.9" stroke-linejoin="round"/>
<ellipse cx="948.7" cy="733.0" rx="2.2" ry="1.8" fill="none" stroke="#3a3a3a" stroke-width="0.8"/>
<path d="M1054.5,745.0 L1053.9,745.8 L1054.9,746.8 L1055.1,747.7 L1054.7,748.6 L1054.3,749.4 L1053.7,750.2 L1052.1,750.6 L1052.1,751.5 L1052.4,752.6 L1052.0,753.3 L1051.5,754.1 L1051.0,754.8 L1050.4,755.6 L1049.8,756.3 L1049.2,757.0 L1048.6,757.7 L1047.8,758.3 L1047.1,758.9 L1046.3,759.5 L1045.4,760.0 L1044.6,760.4 L1043.6,760.8 L1042.7,761.1 L1041.7,761.4 L1040.7,761.6 L1039.7,761.8 L1038.7,762.0 L1037.7,762.1 L1036.7,762.1 L1035.7,762.2 L1034.7,762.2 L1033.7,762.2 L1032.6,762.1 L1031.6,762.0 L1030.6,761.9 L1029.6,761.8 L1028.5,761.6 L1027.5,761.3 L1026.5,761.0 L1025.6,760.5 L1024.9,759.7 L1024.4,758.9 L1023.6,758.2 L1022.7,757.9 L1021.7,757.4 L1020.9,756.8 L1020.3,756.0 L1019.9,755.2 L1019.5,754.4 L1019.1,753.5 L1018.8,752.6 L1018.5,751.8 L1018.3,750.9 L1018.1,750.1 L1017.9,749.2 L1017.7,748.4 L1017.5,747.6 L1017.3,746.7 L1017.1,745.9 L1016.9,745.0 L1016.8,744.1 L1016.6,743.2 L1016.6,742.3 L1016.6,741.4 L1016.6,740.5 L1016.8,739.5 L1017.0,738.6 L1017.3,737.7 L1017.7,736.9 L1018.2,736.0 L1018.7,735.2 L1019.1,734.3 L1019.5,733.4 L1020.1,732.6 L1021.2,732.1 L1022.7,732.2 L1024.6,732.9 L1026.6,733.9 L1027.5,733.8 L1027.4,732.2 L1027.3,730.4 L1027.9,729.4 L1028.7,728.9 L1029.7,728.5 L1030.6,728.2 L1031.6,728.0 L1032.6,727.8 L1033.6,727.6 L1034.7,727.6 L1035.7,727.6 L1036.7,727.6 L1037.7,727.8 L1038.7,727.9 L1039.7,728.2 L1040.7,728.5 L1041.6,728.9 L1042.5,729.3 L1043.4,729.7 L1044.2,730.2 L1045.1,730.6 L1045.9,731.1 L1046.7,731.6 L1047.5,732.1 L1048.3,732.6 L1049.1,733.1 L1049.9,733.7 L1050.6,734.3 L1051.4,734.9 L1052.2,735.5 L1052.9,736.2 L1053.6,736.9 L1054.2,737.7 L1054.7,738.5 L1055.2,739.4 L1055.5,740.3 L1055.8,741.2 L1056.0,742.1 L1056.0,743.1 L1055.8,744.1 Z" fill="none" stroke="#3a3a3a" stroke-width="0.9" stroke-linejoin="round"/>
<ellipse cx="1035.7" cy="745.0" rx="2.2" ry="1.8" fill="none" stroke="#3a3a3a" stroke-width="0.8"/>
<path d="M1191.4,762.0 L1190.8,762.8 L1191.8,763.7 L1192.0,764.6 L1191.7,765.5 L1191.4,766.3 L1190.9,767.1 L1189.5,767.5 L1189.6,768.4 L1190.0,769.6 L1189.7,770.4 L1189.3,771.2 L1188.8,772.0 L1188.3,772.8 L1187.7,773.5 L1187.0,774.2 L1186.4,774.9 L1185.6,775.5 L1184.8,776.0 L1184.0,776.6 L1183.1,777.0 L1182.2,777.4 L1181.2,777.8 L1180.3,778.1 L1179.3,778.4 L1178.3,778.6 L1177.3,778.8 L1176.3,779.0 L1175.3,779.2 L1174.3,779.3 L1173.3,779.4 L1172.3,779.5 L1171.2,779.5 L1170.2,779.5 L1169.1,779.4 L1168.1,779.3 L1167.1,779.1 L1166.0,778.8 L1165.1,778.4 L1164.1,778.0 L1163.3,777.4 L1162.7,776.5 L1162.2,775.6 L1161.6,774.9 L1160.7,774.4 L1159.8,774.0 L1159.1,773.4 L1158.6,772.6 L1158.1,771.8 L1157.7,771.0 L1157.3,770.2 L1156.9,769.4 L1156.5,768.6 L1156.1,767.9 L1155.7,767.1 L1155.3,766.3 L1154.9,765.5 L1154.6,764.6 L1154.3,763.8 L1154.0,762.9 L1153.8,762.0 L1153.6,761.1 L1153.5,760.2 L1153.5,759.2 L1153.6,758.3 L1153.8,757.4 L1154.0,756.4 L1154.4,755.6 L1154.8,754.7 L1155.3,753.9 L1155.9,753.1 L1156.5,752.3 L1157.0,751.5 L1157.4,750.6 L1158.0,749.8 L1159.0,749.3 L1160.5,749.4 L1162.4,750.0 L1164.3,751.0 L1165.2,750.9 L1165.0,749.3 L1164.9,747.4 L1165.5,746.4 L1166.3,745.8 L1167.3,745.5 L1168.2,745.2 L1169.2,745.0 L1170.2,744.9 L1171.3,744.8 L1172.3,744.8 L1173.3,744.8 L1174.3,744.9 L1175.3,745.1 L1176.3,745.3 L1177.2,745.6 L1178.2,745.8 L1179.1,746.2 L1180.0,746.5 L1180.9,746.8 L1181.8,747.2 L1182.7,747.5 L1183.6,747.9 L1184.5,748.3 L1185.4,748.7 L1186.3,749.2 L1187.2,749.7 L1188.0,750.2 L1188.9,750.8 L1189.6,751.5 L1190.4,752.2 L1191.0,752.9 L1191.6,753.7 L1192.1,754.6 L1192.5,755.5 L1192.8,756.4 L1193.0,757.3 L1193.1,758.3 L1193.1,759.2 L1193.1,760.2 L1192.7,761.1 Z" fill="none" stroke="#3a3a3a" stroke-width="0.9" stroke-linejoin="round"/>
<ellipse cx="1173.3" cy="762.0" rx="2.2" ry="1.8" fill="none" stroke="#3a3a3a" stroke-width="0.8"/>
<path d="M1023.9,651.5 L1023.8,652.0 L1023.6,652.4 L1023.3,652.8 L1023.0,653.2 L1022.7,653.6 L1022.3,653.9 L1021.9,654.2 L1021.6,654.5 L1021.3,654.8 L1021.0,655.1 L1020.7,655.4 L1020.4,655.8 L1020.2,656.1 L1020.0,656.5 L1019.8,656.8 L1019.5,657.2 L1019.3,657.6 L1019.0,657.9 L1018.7,658.3 L1018.3,658.6 L1017.9,658.9 L1017.4,659.1 L1016.9,659.3 L1016.4,659.4 L1015.9,659.4 L1015.4,659.4 L1014.8,659.4 L1014.3,659.3 L1013.8,659.2 L1013.3,659.1 L1012.8,659.0 L1012.4,658.8 L1011.9,658.8 L1011.4,658.7 L1011.0,658.6 L1010.5,658.6 L1010.0,658.6 L1009.5,658.6 L1008.9,658.5 L1008.4,658.5 L1007.8,658.4 L1007.3,658.3 L1006.8,658.1 L1006.3,657.9 L1005.8,657.7 L1005.4,657.3 L1005.1,657.0 L1004.8,656.6 L1004.6,656.1 L1004.5,655.7 L1004.5,655.2 L1004.5,654.7 L1004.5,654.3 L1004.6,653.8 L1004.7,653.4 L1004.8,653.0 L1004.8,652.6 L1004.8,652.2 L1004.8,651.9 L1004.7,651.5 L1004.6,651.1 L1004.5,650.7 L1004.4,650.3 L1004.2,649.9 L1004.1,649.5 L1004.0,649.0 L1004.0,648.6 L1004.0,648.1 L1004.1,647.7 L1004.3,647.2 L1004.6,646.8 L1004.9,646.5 L1005.3,646.2 L1005.7,645.9 L1006.3,645.7 L1007.0,645.7 L1007.8,645.9 L1008.5,646.1 L1009.0,646.1 L1009.2,645.7 L1009.4,645.2 L1009.7,644.8 L1010.1,644.6 L1010.5,644.4 L1010.9,644.2 L1011.4,644.0 L1011.8,643.8 L1012.3,643.6 L1012.8,643.4 L1013.3,643.3 L1013.8,643.2 L1014.4,643.1 L1014.9,643.1 L1015.4,643.2 L1015.9,643.4 L1016.4,643.6 L1016.9,643.8 L1017.3,644.1 L1017.7,644.5 L1018.0,644.8 L1018.3,645.2 L1018.6,645.5 L1018.8,645.9 L1019.1,646.2 L1019.4,646.5 L1019.7,646.8 L1020.0,647.0 L1020.4,647.3 L1020.7,647.5 L1021.2,647.8 L1021.6,648.0 L1022.0,648.3 L1022.5,648.6 L1022.9,648.9 L1023.2,649.3 L1023.5,649.7 L1023.8,650.1 L1023.9,650.6 L1024.0,651.0 Z" fill="none" stroke="#a2a2a2" stroke-width="0.9" stroke-linejoin="round"/>
<circle cx="1013.3" cy="651.5" r="0.9" fill="#aaa"/>
<path d="M954.5,693.7 L954.2,694.1 L953.9,694.5 L953.6,694.9 L953.3,695.3 L953.1,695.6 L952.8,696.0 L952.6,696.3 L952.4,696.6 L952.3,697.0 L952.1,697.4 L952.0,697.8 L951.8,698.2 L951.7,698.6 L951.5,699.0 L951.3,699.4 L951.0,699.8 L950.7,700.1 L950.3,700.4 L949.9,700.7 L949.5,700.9 L949.0,701.1 L948.5,701.2 L947.9,701.2 L947.4,701.3 L946.9,701.2 L946.3,701.2 L945.8,701.2 L945.3,701.1 L944.9,701.1 L944.4,701.1 L943.9,701.1 L943.5,701.1 L943.0,701.1 L942.5,701.2 L941.9,701.2 L941.4,701.3 L940.9,701.3 L940.3,701.3 L939.7,701.3 L939.2,701.1 L938.7,701.0 L938.2,700.8 L937.7,700.5 L937.4,700.1 L937.1,699.7 L936.8,699.3 L936.6,698.9 L936.5,698.4 L936.4,698.0 L936.4,697.5 L936.4,697.1 L936.4,696.6 L936.3,696.3 L936.3,695.9 L936.2,695.5 L936.1,695.2 L935.9,694.8 L935.7,694.5 L935.5,694.1 L935.3,693.7 L935.0,693.3 L934.8,692.9 L934.7,692.4 L934.6,692.0 L934.5,691.5 L934.6,691.1 L934.7,690.6 L934.9,690.2 L935.1,689.8 L935.5,689.5 L935.9,689.1 L936.3,688.9 L936.8,688.6 L937.3,688.4 L937.8,688.3 L938.4,688.3 L939.2,688.4 L939.9,688.6 L940.3,688.5 L940.4,688.0 L940.5,687.4 L940.7,686.9 L941.1,686.5 L941.5,686.2 L941.9,686.0 L942.3,685.8 L942.8,685.6 L943.3,685.4 L943.9,685.3 L944.4,685.3 L944.9,685.3 L945.5,685.4 L946.0,685.5 L946.5,685.7 L946.9,686.0 L947.3,686.3 L947.7,686.6 L948.1,686.9 L948.4,687.2 L948.8,687.5 L949.1,687.7 L949.5,688.0 L949.8,688.2 L950.2,688.4 L950.6,688.6 L951.1,688.8 L951.6,688.9 L952.0,689.1 L952.5,689.4 L953.0,689.6 L953.5,689.9 L953.9,690.2 L954.2,690.6 L954.5,691.0 L954.7,691.4 L954.8,691.9 L954.9,692.3 L954.8,692.8 L954.7,693.3 Z" fill="none" stroke="#a2a2a2" stroke-width="0.9" stroke-linejoin="round"/>
<circle cx="944.4" cy="693.7" r="0.9" fill="#aaa"/>
<path d="M1000.2,720.4 L1000.0,720.8 L999.8,721.2 L999.7,721.5 L999.6,721.9 L999.5,722.3 L999.4,722.6 L999.3,723.0 L999.3,723.4 L999.3,723.9 L999.2,724.3 L999.1,724.7 L998.9,725.1 L998.7,725.6 L998.5,725.9 L998.2,726.3 L997.8,726.6 L997.4,726.9 L996.9,727.1 L996.4,727.2 L995.9,727.4 L995.4,727.4 L994.8,727.5 L994.3,727.5 L993.8,727.6 L993.3,727.6 L992.9,727.6 L992.4,727.7 L991.9,727.8 L991.5,727.9 L991.0,728.0 L990.5,728.1 L990.0,728.2 L989.5,728.4 L988.9,728.4 L988.4,728.5 L987.8,728.5 L987.2,728.5 L986.7,728.3 L986.2,728.2 L985.7,727.9 L985.3,727.6 L984.9,727.3 L984.6,726.9 L984.4,726.4 L984.2,726.0 L984.0,725.6 L983.9,725.1 L983.8,724.7 L983.7,724.3 L983.6,723.9 L983.4,723.6 L983.2,723.2 L983.0,722.9 L982.8,722.6 L982.5,722.3 L982.2,721.9 L981.9,721.6 L981.5,721.2 L981.3,720.8 L981.0,720.4 L980.9,720.0 L980.7,719.5 L980.7,719.1 L980.8,718.6 L980.9,718.2 L981.1,717.8 L981.4,717.4 L981.8,717.0 L982.1,716.7 L982.6,716.4 L983.0,716.1 L983.4,715.9 L983.8,715.6 L984.2,715.4 L984.7,715.2 L985.2,715.1 L985.9,715.2 L986.4,715.2 L986.8,715.0 L986.8,714.5 L986.9,713.8 L987.1,713.2 L987.5,712.8 L987.9,712.5 L988.4,712.3 L988.9,712.2 L989.4,712.1 L989.9,712.0 L990.5,712.1 L991.0,712.2 L991.5,712.3 L992.0,712.5 L992.5,712.7 L992.9,713.0 L993.3,713.2 L993.7,713.5 L994.1,713.7 L994.5,713.9 L994.9,714.1 L995.3,714.2 L995.8,714.4 L996.2,714.5 L996.7,714.6 L997.2,714.7 L997.8,714.8 L998.3,715.0 L998.8,715.2 L999.3,715.4 L999.8,715.7 L1000.2,716.0 L1000.5,716.4 L1000.8,716.8 L1000.9,717.3 L1001.0,717.7 L1001.0,718.2 L1000.9,718.7 L1000.8,719.1 L1000.6,719.6 L1000.4,720.0 Z" fill="none" stroke="#a2a2a2" stroke-width="0.9" stroke-linejoin="round"/>
<circle cx="991.0" cy="720.4" r="0.9" fill="#aaa"/>
<path d="M990.7,762.0 L990.7,762.4 L990.7,762.8 L990.7,763.1 L990.8,763.5 L990.8,763.9 L990.9,764.4 L990.9,764.8 L990.9,765.3 L990.8,765.7 L990.7,766.1 L990.5,766.5 L990.2,766.9 L989.9,767.3 L989.5,767.6 L989.1,767.8 L988.6,768.0 L988.1,768.2 L987.6,768.4 L987.1,768.5 L986.6,768.6 L986.1,768.7 L985.7,768.8 L985.2,768.9 L984.8,769.0 L984.3,769.2 L983.9,769.4 L983.5,769.5 L983.0,769.7 L982.5,769.9 L982.0,770.1 L981.5,770.3 L980.9,770.4 L980.4,770.5 L979.8,770.5 L979.3,770.4 L978.7,770.3 L978.2,770.1 L977.8,769.8 L977.4,769.5 L977.0,769.1 L976.7,768.7 L976.4,768.3 L976.2,767.9 L976.0,767.5 L975.8,767.1 L975.6,766.8 L975.4,766.4 L975.1,766.1 L974.9,765.8 L974.5,765.5 L974.2,765.3 L973.8,765.0 L973.5,764.7 L973.1,764.4 L972.7,764.1 L972.3,763.7 L972.0,763.3 L971.8,762.9 L971.6,762.4 L971.5,762.0 L971.5,761.5 L971.6,761.1 L971.8,760.7 L972.0,760.3 L972.3,759.9 L972.6,759.5 L973.0,759.1 L973.3,758.8 L973.7,758.5 L974.0,758.2 L974.4,757.9 L974.7,757.6 L975.0,757.3 L975.3,757.0 L975.6,756.7 L976.0,756.5 L976.6,756.5 L977.2,756.5 L977.5,756.3 L977.6,755.7 L977.7,755.0 L977.9,754.5 L978.4,754.2 L978.8,754.0 L979.4,753.9 L979.9,753.9 L980.4,753.9 L981.0,754.0 L981.5,754.2 L982.0,754.3 L982.5,754.5 L982.9,754.7 L983.4,754.9 L983.8,755.0 L984.2,755.1 L984.7,755.2 L985.1,755.3 L985.6,755.4 L986.1,755.4 L986.6,755.4 L987.2,755.5 L987.7,755.5 L988.3,755.6 L988.8,755.8 L989.4,755.9 L989.8,756.2 L990.3,756.5 L990.7,756.8 L991.0,757.2 L991.2,757.6 L991.3,758.1 L991.4,758.6 L991.4,759.0 L991.3,759.5 L991.2,760.0 L991.1,760.4 L991.0,760.8 L990.9,761.2 L990.8,761.6 Z" fill="none" stroke="#a2a2a2" stroke-width="0.9" stroke-linejoin="round"/>
<circle cx="982.0" cy="762.0" r="0.9" fill="#aaa"/>
<path d="M1081.9,716.0 L1082.0,716.4 L1082.2,716.8 L1082.3,717.2 L1082.4,717.6 L1082.5,718.1 L1082.5,718.5 L1082.4,719.0 L1082.3,719.4 L1082.1,719.8 L1081.8,720.2 L1081.5,720.5 L1081.1,720.8 L1080.6,721.1 L1080.2,721.3 L1079.7,721.5 L1079.3,721.7 L1078.8,721.9 L1078.3,722.1 L1077.9,722.2 L1077.5,722.4 L1077.1,722.6 L1076.7,722.8 L1076.3,723.1 L1075.9,723.3 L1075.5,723.6 L1075.0,723.9 L1074.6,724.1 L1074.1,724.3 L1073.5,724.5 L1073.0,724.6 L1072.4,724.6 L1071.9,724.6 L1071.4,724.5 L1070.8,724.4 L1070.3,724.2 L1069.9,723.9 L1069.5,723.6 L1069.1,723.2 L1068.8,722.9 L1068.4,722.5 L1068.2,722.1 L1067.9,721.8 L1067.6,721.5 L1067.3,721.2 L1067.0,720.9 L1066.6,720.7 L1066.3,720.5 L1065.9,720.3 L1065.4,720.0 L1065.0,719.8 L1064.5,719.6 L1064.1,719.3 L1063.7,718.9 L1063.3,718.6 L1063.0,718.2 L1062.8,717.8 L1062.6,717.4 L1062.6,716.9 L1062.6,716.4 L1062.7,716.0 L1062.8,715.6 L1063.1,715.1 L1063.3,714.7 L1063.6,714.4 L1063.9,714.0 L1064.2,713.6 L1064.5,713.3 L1064.7,713.0 L1065.0,712.6 L1065.2,712.3 L1065.4,711.9 L1065.5,711.5 L1065.7,711.2 L1065.9,710.8 L1066.2,710.4 L1066.7,710.2 L1067.3,710.2 L1067.9,710.2 L1068.3,710.0 L1068.4,709.5 L1068.6,708.9 L1069.0,708.5 L1069.4,708.4 L1070.0,708.3 L1070.5,708.3 L1071.0,708.4 L1071.6,708.5 L1072.1,708.6 L1072.5,708.7 L1073.0,708.8 L1073.5,708.9 L1073.9,708.9 L1074.4,708.9 L1074.8,708.9 L1075.3,708.9 L1075.8,708.9 L1076.4,708.8 L1076.9,708.8 L1077.5,708.8 L1078.0,708.8 L1078.6,708.9 L1079.2,709.0 L1079.7,709.2 L1080.2,709.5 L1080.6,709.8 L1080.9,710.1 L1081.2,710.5 L1081.4,711.0 L1081.5,711.4 L1081.6,711.9 L1081.6,712.4 L1081.6,712.8 L1081.6,713.3 L1081.6,713.7 L1081.6,714.1 L1081.6,714.5 L1081.6,714.9 L1081.7,715.3 L1081.8,715.6 Z" fill="none" stroke="#a2a2a2" stroke-width="0.9" stroke-linejoin="round"/>
<circle cx="1073.0" cy="716.0" r="0.9" fill="#aaa"/>
<path d="M1130.5,716.0 L1130.7,716.4 L1130.8,716.8 L1130.9,717.3 L1130.9,717.7 L1130.8,718.2 L1130.7,718.6 L1130.5,719.0 L1130.2,719.4 L1129.9,719.7 L1129.5,720.0 L1129.1,720.3 L1128.7,720.6 L1128.2,720.8 L1127.8,721.1 L1127.4,721.3 L1127.0,721.5 L1126.7,721.8 L1126.3,722.0 L1126.0,722.3 L1125.6,722.6 L1125.3,722.9 L1124.9,723.2 L1124.5,723.6 L1124.1,723.9 L1123.6,724.1 L1123.2,724.3 L1122.6,724.5 L1122.1,724.6 L1121.5,724.6 L1121.0,724.6 L1120.5,724.5 L1119.9,724.3 L1119.4,724.1 L1119.0,723.8 L1118.5,723.5 L1118.2,723.2 L1117.8,722.9 L1117.4,722.6 L1117.1,722.3 L1116.7,722.1 L1116.4,721.9 L1116.0,721.7 L1115.6,721.5 L1115.2,721.3 L1114.7,721.2 L1114.2,721.0 L1113.7,720.9 L1113.2,720.7 L1112.7,720.4 L1112.2,720.2 L1111.8,719.8 L1111.5,719.5 L1111.2,719.1 L1111.0,718.7 L1110.9,718.2 L1110.8,717.8 L1110.9,717.3 L1111.0,716.9 L1111.1,716.4 L1111.3,716.0 L1111.5,715.6 L1111.7,715.2 L1111.9,714.8 L1112.1,714.4 L1112.3,714.1 L1112.4,713.7 L1112.6,713.3 L1112.7,712.9 L1112.8,712.5 L1112.9,712.1 L1113.0,711.7 L1113.1,711.3 L1113.3,710.9 L1113.6,710.5 L1113.9,710.2 L1114.5,710.0 L1115.2,710.1 L1115.9,710.2 L1116.3,710.1 L1116.6,709.7 L1116.8,709.2 L1117.2,709.0 L1117.7,708.8 L1118.2,708.8 L1118.7,708.9 L1119.2,708.9 L1119.6,708.9 L1120.1,708.9 L1120.5,708.9 L1121.0,708.8 L1121.5,708.7 L1121.9,708.6 L1122.4,708.5 L1123.0,708.4 L1123.5,708.3 L1124.1,708.2 L1124.7,708.2 L1125.2,708.2 L1125.8,708.3 L1126.3,708.4 L1126.8,708.6 L1127.3,708.9 L1127.7,709.2 L1128.0,709.6 L1128.3,710.0 L1128.5,710.5 L1128.6,710.9 L1128.7,711.4 L1128.8,711.8 L1128.9,712.3 L1128.9,712.7 L1129.0,713.1 L1129.1,713.4 L1129.2,713.8 L1129.4,714.1 L1129.6,714.5 L1129.8,714.9 L1130.0,715.2 L1130.3,715.6 Z" fill="none" stroke="#a2a2a2" stroke-width="0.9" stroke-linejoin="round"/>
<circle cx="1121.0" cy="716.0" r="0.9" fill="#aaa"/>
<path d="M1114.1,757.5 L1114.2,757.9 L1114.2,758.4 L1114.1,758.8 L1113.9,759.2 L1113.7,759.6 L1113.4,760.0 L1113.1,760.4 L1112.8,760.7 L1112.4,761.0 L1112.0,761.3 L1111.7,761.6 L1111.3,761.9 L1111.0,762.2 L1110.7,762.5 L1110.4,762.8 L1110.2,763.1 L1109.9,763.5 L1109.6,763.8 L1109.3,764.2 L1109.0,764.6 L1108.6,764.9 L1108.2,765.2 L1107.7,765.5 L1107.2,765.7 L1106.7,765.8 L1106.2,765.9 L1105.6,765.9 L1105.1,765.9 L1104.5,765.8 L1104.0,765.6 L1103.5,765.4 L1103.0,765.1 L1102.6,764.9 L1102.2,764.7 L1101.7,764.4 L1101.3,764.2 L1100.9,764.0 L1100.5,763.9 L1100.1,763.8 L1099.7,763.7 L1099.2,763.6 L1098.7,763.5 L1098.2,763.4 L1097.6,763.3 L1097.1,763.2 L1096.6,763.0 L1096.1,762.8 L1095.6,762.5 L1095.2,762.2 L1094.9,761.8 L1094.6,761.4 L1094.4,761.0 L1094.3,760.6 L1094.3,760.1 L1094.3,759.6 L1094.4,759.2 L1094.5,758.7 L1094.6,758.3 L1094.8,757.9 L1094.9,757.5 L1095.0,757.1 L1095.1,756.7 L1095.1,756.3 L1095.1,756.0 L1095.2,755.6 L1095.2,755.1 L1095.2,754.7 L1095.2,754.3 L1095.3,753.8 L1095.4,753.4 L1095.6,753.0 L1095.8,752.6 L1096.1,752.2 L1096.5,751.9 L1096.9,751.7 L1097.6,751.6 L1098.4,751.8 L1099.1,752.0 L1099.7,752.0 L1099.9,751.7 L1100.1,751.2 L1100.4,750.9 L1100.9,750.8 L1101.3,750.7 L1101.7,750.6 L1102.2,750.5 L1102.6,750.3 L1103.1,750.2 L1103.5,750.0 L1104.0,749.8 L1104.5,749.6 L1105.0,749.4 L1105.6,749.3 L1106.1,749.2 L1106.7,749.2 L1107.3,749.2 L1107.8,749.3 L1108.4,749.5 L1108.8,749.7 L1109.3,750.0 L1109.6,750.3 L1110.0,750.7 L1110.2,751.2 L1110.5,751.6 L1110.7,752.0 L1110.8,752.4 L1111.0,752.8 L1111.1,753.2 L1111.3,753.6 L1111.5,753.9 L1111.7,754.3 L1112.0,754.6 L1112.2,754.9 L1112.5,755.2 L1112.9,755.5 L1113.2,755.9 L1113.5,756.3 L1113.7,756.7 L1113.9,757.1 Z" fill="none" stroke="#a2a2a2" stroke-width="0.9" stroke-linejoin="round"/>
<circle cx="1104.0" cy="757.5" r="0.9" fill="#aaa"/>
<path d="M1059.0,666.5 L1059.0,666.8 L1058.9,667.1 L1058.7,667.4 L1058.5,667.7 L1058.3,668.0 L1058.1,668.3 L1057.9,668.5 L1057.7,668.7 L1057.5,669.0 L1057.3,669.2 L1057.2,669.5 L1057.0,669.7 L1056.9,670.0 L1056.7,670.3 L1056.6,670.6 L1056.4,670.9 L1056.2,671.2 L1056.0,671.5 L1055.7,671.7 L1055.4,671.9 L1055.1,672.1 L1054.8,672.3 L1054.4,672.4 L1054.0,672.4 L1053.6,672.4 L1053.2,672.4 L1052.8,672.3 L1052.4,672.2 L1052.0,672.1 L1051.7,671.9 L1051.4,671.8 L1051.1,671.7 L1050.7,671.6 L1050.4,671.5 L1050.1,671.5 L1049.8,671.4 L1049.4,671.4 L1049.1,671.4 L1048.7,671.4 L1048.3,671.4 L1047.9,671.4 L1047.5,671.3 L1047.1,671.3 L1046.7,671.1 L1046.4,671.0 L1046.1,670.8 L1045.8,670.5 L1045.6,670.2 L1045.4,669.9 L1045.3,669.6 L1045.2,669.3 L1045.2,668.9 L1045.2,668.6 L1045.2,668.3 L1045.2,668.0 L1045.2,667.7 L1045.3,667.4 L1045.3,667.1 L1045.3,666.8 L1045.2,666.5 L1045.2,666.2 L1045.1,665.9 L1045.1,665.6 L1045.0,665.3 L1045.0,665.0 L1045.0,664.7 L1045.0,664.3 L1045.1,664.0 L1045.2,663.7 L1045.4,663.4 L1045.6,663.2 L1045.9,662.9 L1046.2,662.7 L1046.5,662.6 L1046.9,662.5 L1047.4,662.5 L1047.9,662.6 L1048.5,662.8 L1048.8,662.8 L1048.9,662.5 L1049.0,662.1 L1049.2,661.8 L1049.4,661.6 L1049.7,661.4 L1050.0,661.2 L1050.3,661.0 L1050.6,660.8 L1051.0,660.6 L1051.3,660.5 L1051.7,660.3 L1052.1,660.2 L1052.5,660.2 L1052.9,660.1 L1053.3,660.2 L1053.7,660.3 L1054.1,660.4 L1054.4,660.6 L1054.7,660.8 L1055.0,661.1 L1055.2,661.4 L1055.4,661.7 L1055.6,662.0 L1055.8,662.2 L1056.0,662.5 L1056.1,662.8 L1056.3,663.0 L1056.5,663.2 L1056.7,663.4 L1057.0,663.6 L1057.2,663.8 L1057.5,664.0 L1057.8,664.2 L1058.0,664.5 L1058.3,664.7 L1058.5,665.0 L1058.7,665.2 L1058.9,665.5 L1059.0,665.9 L1059.0,666.2 Z" fill="none" stroke="#a2a2a2" stroke-width="0.9" stroke-linejoin="round"/>
<circle cx="1051.7" cy="666.5" r="0.9" fill="#aaa"/>
<path d="M1058.8,690.5 L1058.6,690.8 L1058.5,691.1 L1058.3,691.4 L1058.2,691.7 L1058.0,691.9 L1057.9,692.2 L1057.8,692.5 L1057.7,692.7 L1057.6,693.0 L1057.5,693.3 L1057.4,693.6 L1057.3,693.9 L1057.2,694.3 L1057.1,694.6 L1056.9,694.9 L1056.7,695.1 L1056.4,695.4 L1056.1,695.6 L1055.8,695.8 L1055.4,695.9 L1055.0,696.0 L1054.6,696.0 L1054.2,696.0 L1053.8,696.0 L1053.4,695.9 L1053.1,695.9 L1052.7,695.8 L1052.4,695.7 L1052.0,695.7 L1051.7,695.6 L1051.4,695.6 L1051.1,695.6 L1050.7,695.7 L1050.4,695.7 L1050.0,695.8 L1049.6,695.8 L1049.2,695.9 L1048.8,695.9 L1048.4,695.9 L1048.0,695.9 L1047.6,695.8 L1047.3,695.6 L1046.9,695.5 L1046.6,695.3 L1046.4,695.0 L1046.1,694.7 L1046.0,694.4 L1045.8,694.1 L1045.8,693.7 L1045.7,693.4 L1045.7,693.1 L1045.6,692.8 L1045.6,692.5 L1045.5,692.2 L1045.5,691.9 L1045.4,691.6 L1045.3,691.4 L1045.2,691.1 L1045.1,690.8 L1045.0,690.5 L1044.9,690.2 L1044.8,689.9 L1044.7,689.6 L1044.7,689.2 L1044.7,688.9 L1044.8,688.6 L1044.9,688.3 L1045.1,688.0 L1045.3,687.8 L1045.6,687.5 L1045.8,687.3 L1046.2,687.1 L1046.5,687.0 L1046.8,686.8 L1047.2,686.7 L1047.6,686.7 L1048.1,686.8 L1048.6,686.9 L1048.8,686.8 L1048.9,686.4 L1048.9,685.9 L1049.1,685.5 L1049.3,685.2 L1049.6,685.0 L1049.9,684.7 L1050.2,684.5 L1050.5,684.3 L1050.9,684.2 L1051.3,684.1 L1051.7,684.0 L1052.1,684.1 L1052.5,684.1 L1052.9,684.2 L1053.2,684.4 L1053.6,684.6 L1053.9,684.8 L1054.2,685.1 L1054.4,685.3 L1054.7,685.6 L1054.9,685.8 L1055.1,686.0 L1055.4,686.3 L1055.6,686.5 L1055.8,686.6 L1056.1,686.8 L1056.4,686.9 L1056.7,687.1 L1057.0,687.3 L1057.3,687.4 L1057.6,687.6 L1058.0,687.8 L1058.2,688.1 L1058.5,688.3 L1058.7,688.6 L1058.8,688.9 L1058.9,689.2 L1058.9,689.5 L1058.9,689.9 L1058.9,690.2 Z" fill="none" stroke="#a2a2a2" stroke-width="0.9" stroke-linejoin="round"/>
<circle cx="1051.7" cy="690.5" r="0.9" fill="#aaa"/>
<path d="M1085.7,691.0 L1085.6,691.3 L1085.5,691.6 L1085.4,691.9 L1085.4,692.1 L1085.3,692.4 L1085.3,692.7 L1085.3,693.0 L1085.3,693.3 L1085.2,693.7 L1085.2,694.0 L1085.1,694.3 L1085.0,694.6 L1084.8,694.9 L1084.6,695.2 L1084.3,695.4 L1084.0,695.7 L1083.6,695.8 L1083.3,695.9 L1082.9,696.0 L1082.5,696.1 L1082.1,696.1 L1081.7,696.1 L1081.3,696.1 L1081.0,696.1 L1080.6,696.1 L1080.3,696.1 L1080.0,696.1 L1079.6,696.1 L1079.3,696.2 L1079.0,696.3 L1078.7,696.4 L1078.3,696.5 L1077.9,696.6 L1077.6,696.7 L1077.2,696.8 L1076.7,696.8 L1076.3,696.8 L1075.9,696.8 L1075.5,696.7 L1075.2,696.6 L1074.9,696.4 L1074.6,696.1 L1074.3,695.9 L1074.1,695.6 L1073.9,695.3 L1073.8,694.9 L1073.7,694.6 L1073.6,694.3 L1073.5,694.0 L1073.4,693.7 L1073.3,693.5 L1073.1,693.2 L1073.0,692.9 L1072.8,692.7 L1072.7,692.4 L1072.5,692.2 L1072.3,691.9 L1072.1,691.6 L1072.0,691.3 L1071.9,691.0 L1071.8,690.7 L1071.8,690.4 L1071.8,690.0 L1071.9,689.7 L1072.0,689.4 L1072.2,689.1 L1072.4,688.9 L1072.7,688.6 L1072.9,688.4 L1073.2,688.2 L1073.5,688.0 L1073.8,687.8 L1074.1,687.6 L1074.3,687.5 L1074.6,687.3 L1074.9,687.2 L1075.4,687.2 L1075.8,687.2 L1076.0,687.1 L1076.0,686.6 L1076.0,686.0 L1076.1,685.6 L1076.4,685.3 L1076.7,685.0 L1077.0,684.8 L1077.4,684.7 L1077.8,684.6 L1078.2,684.6 L1078.6,684.6 L1079.0,684.7 L1079.4,684.8 L1079.8,685.0 L1080.1,685.2 L1080.4,685.4 L1080.7,685.6 L1081.0,685.8 L1081.3,686.0 L1081.5,686.2 L1081.8,686.4 L1082.1,686.5 L1082.4,686.6 L1082.7,686.7 L1083.0,686.8 L1083.3,687.0 L1083.7,687.1 L1084.0,687.2 L1084.4,687.3 L1084.7,687.5 L1085.0,687.7 L1085.3,687.9 L1085.6,688.2 L1085.7,688.5 L1085.9,688.8 L1086.0,689.1 L1086.0,689.4 L1086.0,689.8 L1085.9,690.1 L1085.9,690.4 L1085.8,690.7 Z" fill="none" stroke="#a2a2a2" stroke-width="0.9" stroke-linejoin="round"/>
<circle cx="1079.0" cy="691.0" r="0.9" fill="#aaa"/>
<path d="M1120.5,691.0 L1120.5,691.3 L1120.6,691.6 L1120.6,691.9 L1120.6,692.2 L1120.7,692.5 L1120.7,692.8 L1120.7,693.2 L1120.7,693.5 L1120.6,693.8 L1120.4,694.1 L1120.3,694.4 L1120.0,694.7 L1119.8,694.9 L1119.4,695.1 L1119.1,695.3 L1118.7,695.4 L1118.3,695.5 L1117.9,695.6 L1117.6,695.6 L1117.2,695.7 L1116.8,695.7 L1116.5,695.8 L1116.2,695.8 L1115.9,695.9 L1115.6,696.0 L1115.3,696.1 L1115.0,696.3 L1114.7,696.4 L1114.3,696.6 L1114.0,696.8 L1113.6,696.9 L1113.2,697.0 L1112.8,697.1 L1112.4,697.2 L1112.0,697.2 L1111.6,697.1 L1111.3,697.0 L1110.9,696.8 L1110.6,696.6 L1110.3,696.4 L1110.0,696.1 L1109.8,695.8 L1109.6,695.5 L1109.5,695.2 L1109.3,695.0 L1109.1,694.7 L1109.0,694.4 L1108.8,694.2 L1108.6,693.9 L1108.4,693.7 L1108.2,693.5 L1108.0,693.2 L1107.8,693.0 L1107.5,692.8 L1107.3,692.5 L1107.1,692.2 L1106.9,691.9 L1106.8,691.6 L1106.7,691.3 L1106.7,691.0 L1106.8,690.7 L1106.8,690.4 L1107.0,690.1 L1107.1,689.8 L1107.4,689.5 L1107.6,689.2 L1107.8,689.0 L1108.1,688.8 L1108.3,688.5 L1108.5,688.3 L1108.7,688.1 L1108.9,687.9 L1109.0,687.6 L1109.2,687.4 L1109.4,687.1 L1109.7,687.0 L1110.1,686.9 L1110.4,686.9 L1110.6,686.7 L1110.7,686.2 L1110.8,685.7 L1111.0,685.3 L1111.3,685.0 L1111.6,684.9 L1112.0,684.8 L1112.4,684.8 L1112.8,684.8 L1113.2,684.9 L1113.6,685.0 L1114.0,685.2 L1114.4,685.3 L1114.7,685.5 L1115.0,685.7 L1115.3,685.8 L1115.6,686.0 L1115.9,686.1 L1116.2,686.2 L1116.5,686.2 L1116.9,686.3 L1117.2,686.3 L1117.6,686.4 L1117.9,686.4 L1118.3,686.5 L1118.7,686.6 L1119.1,686.8 L1119.4,686.9 L1119.7,687.1 L1120.0,687.3 L1120.2,687.6 L1120.4,687.9 L1120.5,688.2 L1120.6,688.5 L1120.6,688.9 L1120.6,689.2 L1120.6,689.5 L1120.6,689.8 L1120.6,690.1 L1120.5,690.4 L1120.5,690.7 Z" fill="none" stroke="#a2a2a2" stroke-width="0.9" stroke-linejoin="round"/>
<circle cx="1114.0" cy="691.0" r="0.9" fill="#aaa"/>
<path d="M1143.7,667.5 L1143.8,667.8 L1143.9,668.1 L1144.0,668.4 L1144.1,668.8 L1144.1,669.1 L1144.0,669.4 L1143.9,669.7 L1143.8,670.0 L1143.6,670.3 L1143.4,670.6 L1143.1,670.8 L1142.8,671.0 L1142.4,671.2 L1142.1,671.3 L1141.7,671.4 L1141.3,671.5 L1141.0,671.6 L1140.7,671.7 L1140.4,671.8 L1140.1,672.0 L1139.8,672.1 L1139.5,672.3 L1139.3,672.5 L1139.0,672.7 L1138.7,672.9 L1138.4,673.1 L1138.1,673.3 L1137.7,673.5 L1137.4,673.6 L1137.0,673.8 L1136.6,673.8 L1136.2,673.9 L1135.8,673.9 L1135.4,673.8 L1135.0,673.6 L1134.7,673.5 L1134.4,673.3 L1134.1,673.0 L1133.8,672.8 L1133.6,672.5 L1133.3,672.2 L1133.1,672.0 L1132.9,671.7 L1132.7,671.5 L1132.5,671.3 L1132.3,671.1 L1132.0,670.9 L1131.7,670.7 L1131.5,670.5 L1131.2,670.3 L1130.9,670.1 L1130.6,669.9 L1130.4,669.6 L1130.2,669.4 L1130.0,669.1 L1129.9,668.8 L1129.8,668.5 L1129.8,668.1 L1129.8,667.8 L1129.9,667.5 L1130.0,667.2 L1130.2,666.9 L1130.4,666.6 L1130.6,666.3 L1130.7,666.1 L1130.9,665.8 L1131.1,665.6 L1131.2,665.3 L1131.3,665.1 L1131.4,664.8 L1131.5,664.5 L1131.6,664.2 L1131.7,663.9 L1131.8,663.6 L1132.0,663.3 L1132.3,663.1 L1132.7,663.1 L1133.1,663.0 L1133.4,662.9 L1133.6,662.5 L1133.7,662.1 L1134.0,661.8 L1134.3,661.6 L1134.7,661.6 L1135.1,661.7 L1135.5,661.7 L1135.9,661.8 L1136.3,661.9 L1136.7,662.1 L1137.0,662.2 L1137.3,662.3 L1137.6,662.3 L1138.0,662.4 L1138.3,662.4 L1138.6,662.4 L1139.0,662.4 L1139.3,662.4 L1139.7,662.4 L1140.1,662.4 L1140.5,662.5 L1140.9,662.5 L1141.2,662.6 L1141.6,662.7 L1141.9,662.9 L1142.2,663.1 L1142.5,663.3 L1142.7,663.6 L1142.9,663.9 L1143.0,664.2 L1143.1,664.5 L1143.2,664.8 L1143.2,665.2 L1143.3,665.5 L1143.3,665.8 L1143.3,666.1 L1143.4,666.4 L1143.4,666.6 L1143.5,666.9 L1143.6,667.2 Z" fill="none" stroke="#a2a2a2" stroke-width="0.9" stroke-linejoin="round"/>
<circle cx="1137.0" cy="667.5" r="0.9" fill="#aaa"/>
<path d="M1144.1,689.0 L1144.2,689.3 L1144.3,689.6 L1144.3,690.0 L1144.3,690.3 L1144.2,690.6 L1144.0,690.9 L1143.8,691.2 L1143.6,691.5 L1143.3,691.7 L1143.0,691.9 L1142.6,692.1 L1142.3,692.2 L1142.0,692.4 L1141.7,692.5 L1141.4,692.7 L1141.1,692.8 L1140.9,693.0 L1140.6,693.2 L1140.4,693.4 L1140.2,693.6 L1140.0,693.9 L1139.7,694.1 L1139.5,694.4 L1139.2,694.7 L1138.9,694.9 L1138.5,695.1 L1138.2,695.2 L1137.8,695.4 L1137.4,695.4 L1137.0,695.4 L1136.6,695.4 L1136.2,695.3 L1135.8,695.2 L1135.5,695.0 L1135.2,694.8 L1134.9,694.6 L1134.6,694.3 L1134.3,694.1 L1134.0,693.9 L1133.8,693.7 L1133.5,693.5 L1133.3,693.3 L1133.0,693.2 L1132.7,693.0 L1132.4,692.9 L1132.1,692.7 L1131.7,692.6 L1131.4,692.4 L1131.1,692.2 L1130.8,692.0 L1130.6,691.7 L1130.4,691.5 L1130.2,691.2 L1130.1,690.9 L1130.0,690.6 L1130.0,690.2 L1130.0,689.9 L1130.1,689.6 L1130.2,689.3 L1130.3,689.0 L1130.5,688.7 L1130.6,688.4 L1130.7,688.2 L1130.8,687.9 L1130.8,687.6 L1130.9,687.3 L1130.9,687.0 L1131.0,686.7 L1131.0,686.4 L1131.0,686.1 L1131.1,685.8 L1131.1,685.4 L1131.3,685.1 L1131.4,684.8 L1131.7,684.5 L1132.1,684.4 L1132.6,684.4 L1133.1,684.5 L1133.5,684.4 L1133.7,684.2 L1133.9,683.8 L1134.2,683.7 L1134.5,683.6 L1134.9,683.6 L1135.3,683.7 L1135.7,683.7 L1136.0,683.8 L1136.4,683.8 L1136.7,683.8 L1137.0,683.8 L1137.3,683.8 L1137.7,683.8 L1138.0,683.7 L1138.4,683.6 L1138.7,683.6 L1139.1,683.5 L1139.5,683.5 L1139.9,683.5 L1140.3,683.5 L1140.7,683.6 L1141.0,683.8 L1141.4,683.9 L1141.7,684.2 L1141.9,684.4 L1142.1,684.7 L1142.3,685.0 L1142.5,685.3 L1142.6,685.6 L1142.7,685.9 L1142.8,686.2 L1142.9,686.5 L1143.0,686.8 L1143.1,687.0 L1143.2,687.3 L1143.4,687.6 L1143.5,687.8 L1143.7,688.1 L1143.8,688.4 L1144.0,688.7 Z" fill="none" stroke="#a2a2a2" stroke-width="0.9" stroke-linejoin="round"/>
<circle cx="1137.0" cy="689.0" r="0.9" fill="#aaa"/>
<path d="M1209.4,-1.0 L1209.3,-0.7 L1209.2,-0.3 L1209.0,-0.0 L1208.8,0.2 L1208.5,0.5 L1208.3,0.8 L1208.0,1.0 L1207.8,1.2 L1207.5,1.4 L1207.3,1.7 L1207.1,1.9 L1206.9,2.1 L1206.8,2.4 L1206.6,2.6 L1206.5,2.9 L1206.3,3.2 L1206.1,3.5 L1205.9,3.7 L1205.7,4.0 L1205.4,4.2 L1205.1,4.4 L1204.8,4.6 L1204.4,4.7 L1204.0,4.8 L1203.7,4.8 L1203.3,4.8 L1202.9,4.8 L1202.5,4.7 L1202.2,4.7 L1201.8,4.6 L1201.5,4.5 L1201.1,4.4 L1200.8,4.3 L1200.5,4.3 L1200.1,4.2 L1199.8,4.2 L1199.4,4.2 L1199.1,4.2 L1198.7,4.2 L1198.3,4.1 L1197.9,4.1 L1197.5,4.0 L1197.1,3.9 L1196.7,3.7 L1196.4,3.5 L1196.1,3.3 L1195.9,3.0 L1195.7,2.7 L1195.6,2.4 L1195.5,2.1 L1195.5,1.7 L1195.5,1.4 L1195.5,1.0 L1195.6,0.7 L1195.6,0.4 L1195.7,0.1 L1195.7,-0.2 L1195.7,-0.5 L1195.7,-0.7 L1195.6,-1.0 L1195.6,-1.3 L1195.5,-1.6 L1195.4,-1.9 L1195.3,-2.2 L1195.2,-2.5 L1195.1,-2.8 L1195.1,-3.2 L1195.1,-3.5 L1195.2,-3.8 L1195.3,-4.1 L1195.5,-4.4 L1195.8,-4.7 L1196.0,-4.9 L1196.4,-5.1 L1196.8,-5.2 L1197.2,-5.3 L1197.8,-5.1 L1198.4,-5.0 L1198.7,-5.0 L1198.9,-5.3 L1199.0,-5.6 L1199.2,-5.9 L1199.5,-6.1 L1199.8,-6.2 L1200.1,-6.4 L1200.4,-6.5 L1200.7,-6.7 L1201.1,-6.8 L1201.4,-6.9 L1201.8,-7.0 L1202.2,-7.1 L1202.6,-7.1 L1203.0,-7.1 L1203.3,-7.1 L1203.7,-7.0 L1204.1,-6.8 L1204.4,-6.6 L1204.7,-6.4 L1204.9,-6.2 L1205.2,-5.9 L1205.4,-5.6 L1205.6,-5.4 L1205.8,-5.1 L1206.0,-4.9 L1206.2,-4.7 L1206.4,-4.5 L1206.6,-4.3 L1206.9,-4.1 L1207.2,-3.9 L1207.5,-3.7 L1207.8,-3.6 L1208.1,-3.4 L1208.4,-3.1 L1208.7,-2.9 L1208.9,-2.6 L1209.2,-2.3 L1209.3,-2.0 L1209.4,-1.7 L1209.5,-1.3 Z" fill="none" stroke="#a2a2a2" stroke-width="0.9" stroke-linejoin="round"/>
<circle cx="1201.8" cy="-1.0" r="0.9" fill="#aaa"/>
<path d="M1208.9,18.0 L1208.7,18.3 L1208.5,18.6 L1208.3,18.9 L1208.1,19.1 L1208.0,19.4 L1207.8,19.6 L1207.7,19.9 L1207.6,20.2 L1207.5,20.4 L1207.4,20.7 L1207.3,21.0 L1207.2,21.3 L1207.1,21.6 L1207.0,21.9 L1206.8,22.2 L1206.6,22.5 L1206.4,22.7 L1206.1,23.0 L1205.8,23.1 L1205.4,23.3 L1205.1,23.4 L1204.7,23.4 L1204.3,23.5 L1203.9,23.5 L1203.5,23.5 L1203.2,23.4 L1202.8,23.4 L1202.5,23.4 L1202.1,23.4 L1201.8,23.4 L1201.5,23.4 L1201.1,23.5 L1200.8,23.5 L1200.4,23.6 L1200.0,23.6 L1199.6,23.7 L1199.2,23.7 L1198.8,23.7 L1198.4,23.6 L1198.0,23.5 L1197.7,23.4 L1197.3,23.2 L1197.0,22.9 L1196.8,22.7 L1196.6,22.4 L1196.4,22.1 L1196.3,21.7 L1196.2,21.4 L1196.2,21.1 L1196.2,20.7 L1196.1,20.4 L1196.1,20.1 L1196.1,19.9 L1196.0,19.6 L1195.9,19.3 L1195.8,19.1 L1195.6,18.8 L1195.4,18.6 L1195.3,18.3 L1195.1,18.0 L1194.9,17.7 L1194.8,17.4 L1194.7,17.1 L1194.6,16.7 L1194.6,16.4 L1194.7,16.1 L1194.8,15.7 L1195.0,15.4 L1195.2,15.2 L1195.5,14.9 L1195.7,14.7 L1196.1,14.5 L1196.4,14.3 L1196.7,14.2 L1197.1,14.1 L1197.6,14.0 L1198.1,14.1 L1198.6,14.3 L1198.8,14.2 L1198.9,13.8 L1199.0,13.3 L1199.1,12.9 L1199.4,12.7 L1199.7,12.5 L1200.0,12.3 L1200.3,12.1 L1200.7,12.0 L1201.0,11.9 L1201.4,11.8 L1201.8,11.8 L1202.2,11.8 L1202.6,11.9 L1202.9,12.1 L1203.3,12.2 L1203.6,12.4 L1203.9,12.6 L1204.2,12.8 L1204.4,13.1 L1204.7,13.3 L1204.9,13.5 L1205.2,13.6 L1205.4,13.8 L1205.7,13.9 L1206.0,14.1 L1206.3,14.2 L1206.7,14.3 L1207.0,14.4 L1207.4,14.6 L1207.8,14.7 L1208.1,14.9 L1208.4,15.2 L1208.7,15.4 L1208.9,15.7 L1209.1,16.0 L1209.2,16.3 L1209.3,16.7 L1209.2,17.0 L1209.2,17.3 L1209.1,17.7 Z" fill="none" stroke="#a2a2a2" stroke-width="0.9" stroke-linejoin="round"/>
<circle cx="1201.8" cy="18.0" r="0.9" fill="#aaa"/>
<path d="M1208.2,42.0 L1208.1,42.3 L1208.1,42.6 L1208.0,42.8 L1208.0,43.1 L1208.0,43.4 L1208.0,43.7 L1208.0,44.0 L1207.9,44.3 L1207.9,44.6 L1207.9,44.9 L1207.8,45.3 L1207.6,45.6 L1207.4,45.8 L1207.2,46.1 L1207.0,46.3 L1206.7,46.5 L1206.3,46.7 L1206.0,46.8 L1205.6,46.9 L1205.2,47.0 L1204.9,47.0 L1204.5,47.1 L1204.1,47.1 L1203.8,47.2 L1203.5,47.2 L1203.1,47.3 L1202.8,47.4 L1202.5,47.5 L1202.1,47.6 L1201.8,47.7 L1201.4,47.8 L1201.1,47.9 L1200.7,48.0 L1200.3,48.1 L1199.9,48.1 L1199.5,48.0 L1199.1,48.0 L1198.7,47.8 L1198.4,47.6 L1198.1,47.4 L1197.8,47.2 L1197.6,46.9 L1197.4,46.6 L1197.2,46.3 L1197.1,45.9 L1197.0,45.6 L1196.9,45.3 L1196.8,45.1 L1196.7,44.8 L1196.5,44.6 L1196.3,44.3 L1196.1,44.1 L1195.9,43.9 L1195.7,43.7 L1195.4,43.4 L1195.2,43.2 L1195.0,42.9 L1194.7,42.6 L1194.6,42.3 L1194.4,42.0 L1194.4,41.7 L1194.3,41.3 L1194.4,41.0 L1194.5,40.7 L1194.6,40.4 L1194.8,40.1 L1195.1,39.8 L1195.3,39.6 L1195.6,39.4 L1195.9,39.1 L1196.2,38.9 L1196.5,38.7 L1196.7,38.5 L1197.0,38.4 L1197.3,38.2 L1197.6,38.1 L1198.0,38.1 L1198.4,38.1 L1198.7,37.9 L1198.7,37.5 L1198.8,37.0 L1198.9,36.6 L1199.2,36.3 L1199.5,36.1 L1199.9,36.0 L1200.3,36.0 L1200.7,35.9 L1201.0,36.0 L1201.4,36.0 L1201.8,36.1 L1202.2,36.3 L1202.5,36.4 L1202.8,36.6 L1203.1,36.7 L1203.4,36.9 L1203.7,37.0 L1204.0,37.1 L1204.3,37.2 L1204.6,37.3 L1205.0,37.4 L1205.3,37.4 L1205.7,37.5 L1206.1,37.6 L1206.5,37.6 L1206.9,37.7 L1207.3,37.9 L1207.6,38.0 L1207.9,38.2 L1208.2,38.5 L1208.5,38.8 L1208.6,39.1 L1208.8,39.4 L1208.8,39.7 L1208.8,40.1 L1208.8,40.4 L1208.7,40.8 L1208.6,41.1 L1208.5,41.4 L1208.3,41.7 Z" fill="none" stroke="#a2a2a2" stroke-width="0.9" stroke-linejoin="round"/>
<circle cx="1201.8" cy="42.0" r="0.9" fill="#aaa"/>
<path d="M1208.1,65.0 L1208.2,65.3 L1208.2,65.6 L1208.3,65.9 L1208.4,66.2 L1208.5,66.5 L1208.5,66.8 L1208.5,67.1 L1208.4,67.5 L1208.3,67.8 L1208.1,68.1 L1207.9,68.3 L1207.7,68.6 L1207.4,68.8 L1207.1,69.0 L1206.7,69.1 L1206.4,69.3 L1206.0,69.4 L1205.7,69.5 L1205.4,69.6 L1205.0,69.7 L1204.7,69.8 L1204.4,70.0 L1204.1,70.1 L1203.8,70.3 L1203.5,70.5 L1203.2,70.6 L1202.9,70.8 L1202.5,71.0 L1202.2,71.1 L1201.8,71.2 L1201.4,71.3 L1201.0,71.3 L1200.6,71.3 L1200.2,71.2 L1199.9,71.1 L1199.5,70.9 L1199.2,70.7 L1198.9,70.5 L1198.7,70.2 L1198.4,69.9 L1198.2,69.6 L1198.0,69.4 L1197.8,69.1 L1197.7,68.9 L1197.5,68.6 L1197.3,68.4 L1197.0,68.2 L1196.8,68.1 L1196.5,67.9 L1196.2,67.7 L1195.9,67.5 L1195.6,67.3 L1195.3,67.1 L1195.0,66.9 L1194.8,66.6 L1194.5,66.3 L1194.4,66.0 L1194.3,65.7 L1194.3,65.3 L1194.3,65.0 L1194.4,64.7 L1194.5,64.4 L1194.7,64.1 L1194.9,63.8 L1195.1,63.5 L1195.4,63.2 L1195.6,63.0 L1195.8,62.8 L1196.0,62.5 L1196.2,62.3 L1196.3,62.0 L1196.5,61.8 L1196.7,61.5 L1196.8,61.2 L1197.0,61.0 L1197.3,60.8 L1197.8,60.8 L1198.2,60.8 L1198.4,60.6 L1198.5,60.2 L1198.6,59.8 L1198.9,59.5 L1199.2,59.3 L1199.6,59.3 L1200.0,59.2 L1200.4,59.3 L1200.7,59.3 L1201.1,59.4 L1201.5,59.5 L1201.8,59.6 L1202.1,59.7 L1202.5,59.8 L1202.8,59.8 L1203.1,59.9 L1203.4,59.9 L1203.8,59.9 L1204.1,59.9 L1204.5,59.9 L1204.9,59.9 L1205.3,59.9 L1205.7,59.9 L1206.1,60.0 L1206.5,60.1 L1206.9,60.2 L1207.2,60.4 L1207.5,60.7 L1207.8,60.9 L1207.9,61.3 L1208.1,61.6 L1208.2,61.9 L1208.2,62.3 L1208.2,62.6 L1208.2,62.9 L1208.1,63.3 L1208.1,63.6 L1208.0,63.9 L1208.0,64.2 L1208.0,64.4 L1208.1,64.7 Z" fill="none" stroke="#a2a2a2" stroke-width="0.9" stroke-linejoin="round"/>
<circle cx="1201.8" cy="65.0" r="0.9" fill="#aaa"/>
<path d="M1208.6,93.0 L1208.7,93.3 L1208.8,93.6 L1208.9,93.9 L1208.9,94.3 L1208.9,94.6 L1208.8,94.9 L1208.6,95.2 L1208.4,95.5 L1208.2,95.7 L1207.9,96.0 L1207.6,96.2 L1207.3,96.4 L1207.0,96.6 L1206.7,96.7 L1206.4,96.9 L1206.1,97.1 L1205.9,97.2 L1205.6,97.4 L1205.4,97.6 L1205.1,97.8 L1204.9,98.1 L1204.6,98.3 L1204.3,98.5 L1204.0,98.7 L1203.7,98.9 L1203.3,99.1 L1203.0,99.2 L1202.6,99.3 L1202.2,99.3 L1201.8,99.3 L1201.4,99.3 L1201.0,99.1 L1200.7,99.0 L1200.3,98.8 L1200.0,98.6 L1199.7,98.4 L1199.5,98.1 L1199.2,97.9 L1199.0,97.7 L1198.7,97.5 L1198.5,97.3 L1198.2,97.2 L1197.9,97.0 L1197.6,96.9 L1197.3,96.8 L1197.0,96.7 L1196.6,96.5 L1196.2,96.4 L1195.9,96.2 L1195.6,96.0 L1195.3,95.8 L1195.0,95.5 L1194.8,95.3 L1194.6,95.0 L1194.5,94.6 L1194.5,94.3 L1194.5,94.0 L1194.5,93.6 L1194.6,93.3 L1194.8,93.0 L1194.9,92.7 L1195.1,92.4 L1195.2,92.1 L1195.4,91.9 L1195.5,91.6 L1195.6,91.3 L1195.7,91.0 L1195.8,90.8 L1195.9,90.5 L1196.0,90.2 L1196.1,89.9 L1196.2,89.6 L1196.3,89.3 L1196.5,89.0 L1196.7,88.7 L1197.1,88.6 L1197.6,88.6 L1198.1,88.7 L1198.4,88.6 L1198.6,88.4 L1198.8,88.0 L1199.0,87.8 L1199.4,87.7 L1199.7,87.7 L1200.1,87.7 L1200.5,87.7 L1200.8,87.8 L1201.1,87.8 L1201.5,87.8 L1201.8,87.7 L1202.1,87.7 L1202.5,87.6 L1202.8,87.5 L1203.2,87.5 L1203.6,87.4 L1204.0,87.3 L1204.4,87.3 L1204.8,87.3 L1205.2,87.3 L1205.6,87.4 L1206.0,87.6 L1206.3,87.8 L1206.6,88.0 L1206.9,88.3 L1207.1,88.6 L1207.2,88.9 L1207.3,89.2 L1207.4,89.6 L1207.5,89.9 L1207.5,90.2 L1207.6,90.5 L1207.6,90.8 L1207.7,91.1 L1207.7,91.4 L1207.8,91.6 L1208.0,91.9 L1208.1,92.2 L1208.3,92.4 L1208.4,92.7 Z" fill="none" stroke="#a2a2a2" stroke-width="0.9" stroke-linejoin="round"/>
<circle cx="1201.8" cy="93.0" r="0.9" fill="#aaa"/>
<path d="M1209.1,117.0 L1209.1,117.3 L1209.1,117.6 L1209.0,118.0 L1208.9,118.3 L1208.7,118.6 L1208.5,118.8 L1208.3,119.1 L1208.1,119.3 L1207.8,119.6 L1207.5,119.8 L1207.3,120.0 L1207.1,120.2 L1206.8,120.4 L1206.6,120.7 L1206.4,120.9 L1206.3,121.2 L1206.1,121.4 L1205.9,121.7 L1205.6,122.0 L1205.4,122.2 L1205.1,122.5 L1204.8,122.7 L1204.5,122.9 L1204.1,123.0 L1203.8,123.1 L1203.4,123.2 L1203.0,123.2 L1202.6,123.1 L1202.2,123.0 L1201.8,122.9 L1201.4,122.7 L1201.1,122.6 L1200.8,122.4 L1200.5,122.2 L1200.2,122.1 L1199.9,121.9 L1199.6,121.8 L1199.3,121.7 L1199.0,121.6 L1198.7,121.6 L1198.3,121.5 L1197.9,121.5 L1197.6,121.4 L1197.2,121.3 L1196.8,121.2 L1196.4,121.1 L1196.1,120.9 L1195.7,120.7 L1195.5,120.5 L1195.2,120.2 L1195.1,119.9 L1194.9,119.6 L1194.9,119.2 L1194.9,118.9 L1194.9,118.6 L1194.9,118.2 L1195.0,117.9 L1195.1,117.6 L1195.2,117.3 L1195.3,117.0 L1195.3,116.7 L1195.4,116.4 L1195.4,116.1 L1195.4,115.9 L1195.4,115.6 L1195.4,115.3 L1195.4,114.9 L1195.4,114.6 L1195.5,114.3 L1195.6,114.0 L1195.7,113.7 L1195.9,113.4 L1196.1,113.1 L1196.4,112.9 L1196.7,112.8 L1197.2,112.7 L1197.8,112.8 L1198.3,113.0 L1198.7,113.0 L1198.9,112.8 L1199.0,112.4 L1199.3,112.2 L1199.5,112.1 L1199.9,112.0 L1200.2,111.9 L1200.5,111.8 L1200.8,111.7 L1201.1,111.6 L1201.5,111.4 L1201.8,111.3 L1202.2,111.1 L1202.5,111.0 L1202.9,110.9 L1203.4,110.9 L1203.8,110.8 L1204.2,110.9 L1204.6,111.0 L1204.9,111.1 L1205.3,111.3 L1205.6,111.5 L1205.8,111.8 L1206.1,112.1 L1206.2,112.4 L1206.4,112.7 L1206.5,113.0 L1206.7,113.3 L1206.8,113.6 L1206.9,113.9 L1207.0,114.1 L1207.2,114.4 L1207.4,114.6 L1207.5,114.8 L1207.8,115.1 L1208.0,115.3 L1208.2,115.6 L1208.4,115.8 L1208.7,116.1 L1208.8,116.4 L1209.0,116.7 Z" fill="none" stroke="#a2a2a2" stroke-width="0.9" stroke-linejoin="round"/>
<circle cx="1201.8" cy="117.0" r="0.9" fill="#aaa"/>
<path d="M1209.1,140.0 L1209.0,140.3 L1208.8,140.6 L1208.7,140.9 L1208.5,141.2 L1208.3,141.5 L1208.1,141.7 L1207.9,142.0 L1207.8,142.2 L1207.6,142.5 L1207.5,142.7 L1207.3,143.0 L1207.2,143.3 L1207.1,143.6 L1206.9,143.9 L1206.8,144.2 L1206.6,144.5 L1206.4,144.8 L1206.2,145.0 L1205.9,145.3 L1205.6,145.5 L1205.2,145.6 L1204.8,145.7 L1204.4,145.8 L1204.0,145.8 L1203.6,145.8 L1203.2,145.7 L1202.9,145.6 L1202.5,145.5 L1202.1,145.4 L1201.8,145.3 L1201.5,145.2 L1201.2,145.1 L1200.8,145.1 L1200.5,145.0 L1200.2,145.0 L1199.9,145.0 L1199.5,145.1 L1199.1,145.1 L1198.7,145.1 L1198.3,145.1 L1197.9,145.0 L1197.5,145.0 L1197.1,144.9 L1196.8,144.7 L1196.4,144.5 L1196.2,144.3 L1195.9,144.0 L1195.7,143.7 L1195.6,143.4 L1195.5,143.1 L1195.4,142.7 L1195.4,142.4 L1195.4,142.1 L1195.4,141.7 L1195.4,141.4 L1195.4,141.1 L1195.4,140.8 L1195.4,140.6 L1195.3,140.3 L1195.3,140.0 L1195.2,139.7 L1195.1,139.4 L1195.0,139.1 L1195.0,138.8 L1195.0,138.5 L1195.0,138.1 L1195.0,137.8 L1195.1,137.5 L1195.3,137.2 L1195.5,136.9 L1195.8,136.7 L1196.0,136.5 L1196.4,136.3 L1196.7,136.1 L1197.1,136.0 L1197.6,136.0 L1198.1,136.2 L1198.6,136.3 L1198.9,136.3 L1199.1,136.0 L1199.1,135.6 L1199.3,135.2 L1199.5,135.0 L1199.8,134.8 L1200.1,134.6 L1200.4,134.4 L1200.7,134.2 L1201.0,134.0 L1201.4,133.8 L1201.8,133.7 L1202.2,133.6 L1202.6,133.6 L1203.0,133.6 L1203.4,133.7 L1203.8,133.8 L1204.1,134.0 L1204.4,134.2 L1204.7,134.5 L1205.0,134.8 L1205.2,135.0 L1205.4,135.3 L1205.6,135.6 L1205.8,135.8 L1206.0,136.1 L1206.2,136.3 L1206.4,136.5 L1206.6,136.7 L1206.9,136.9 L1207.2,137.1 L1207.5,137.3 L1207.7,137.5 L1208.0,137.7 L1208.3,137.9 L1208.6,138.2 L1208.8,138.4 L1208.9,138.7 L1209.1,139.0 L1209.1,139.4 L1209.1,139.7 Z" fill="none" stroke="#a2a2a2" stroke-width="0.9" stroke-linejoin="round"/>
<circle cx="1201.8" cy="140.0" r="0.9" fill="#aaa"/>
<path d="M1208.6,164.0 L1208.5,164.3 L1208.4,164.6 L1208.3,164.9 L1208.2,165.1 L1208.1,165.4 L1208.0,165.7 L1208.0,166.0 L1207.9,166.3 L1207.9,166.6 L1207.8,166.9 L1207.7,167.2 L1207.6,167.6 L1207.5,167.9 L1207.3,168.2 L1207.1,168.4 L1206.8,168.7 L1206.5,168.9 L1206.2,169.0 L1205.8,169.2 L1205.4,169.2 L1205.0,169.3 L1204.6,169.3 L1204.2,169.3 L1203.8,169.2 L1203.5,169.2 L1203.1,169.2 L1202.8,169.1 L1202.4,169.1 L1202.1,169.1 L1201.8,169.2 L1201.5,169.2 L1201.1,169.3 L1200.8,169.4 L1200.4,169.5 L1200.0,169.6 L1199.6,169.6 L1199.2,169.7 L1198.8,169.7 L1198.4,169.6 L1198.0,169.5 L1197.7,169.4 L1197.3,169.2 L1197.0,168.9 L1196.8,168.7 L1196.6,168.4 L1196.4,168.1 L1196.3,167.8 L1196.2,167.4 L1196.1,167.1 L1196.0,166.8 L1196.0,166.5 L1195.9,166.2 L1195.8,165.9 L1195.7,165.7 L1195.6,165.4 L1195.4,165.1 L1195.3,164.9 L1195.1,164.6 L1195.0,164.3 L1194.8,164.0 L1194.7,163.7 L1194.7,163.4 L1194.6,163.0 L1194.7,162.7 L1194.8,162.4 L1194.9,162.1 L1195.1,161.8 L1195.3,161.6 L1195.6,161.3 L1195.9,161.1 L1196.2,160.9 L1196.5,160.7 L1196.8,160.6 L1197.1,160.4 L1197.4,160.3 L1197.8,160.2 L1198.2,160.3 L1198.6,160.4 L1198.9,160.2 L1198.9,159.8 L1198.9,159.2 L1199.0,158.8 L1199.3,158.5 L1199.6,158.2 L1199.9,158.0 L1200.2,157.8 L1200.6,157.7 L1201.0,157.6 L1201.4,157.6 L1201.8,157.6 L1202.2,157.6 L1202.6,157.8 L1202.9,157.9 L1203.3,158.1 L1203.6,158.4 L1203.9,158.6 L1204.2,158.8 L1204.4,159.1 L1204.7,159.3 L1204.9,159.5 L1205.2,159.6 L1205.4,159.8 L1205.7,159.9 L1206.0,160.1 L1206.3,160.2 L1206.7,160.3 L1207.0,160.5 L1207.3,160.6 L1207.7,160.8 L1208.0,161.0 L1208.3,161.2 L1208.5,161.5 L1208.7,161.8 L1208.8,162.1 L1208.9,162.4 L1208.9,162.7 L1208.9,163.1 L1208.8,163.4 L1208.8,163.7 Z" fill="none" stroke="#a2a2a2" stroke-width="0.9" stroke-linejoin="round"/>
<circle cx="1201.8" cy="164.0" r="0.9" fill="#aaa"/>
<path d="M1208.3,203.0 L1208.3,203.3 L1208.3,203.6 L1208.3,203.9 L1208.4,204.2 L1208.4,204.5 L1208.4,204.8 L1208.4,205.1 L1208.4,205.5 L1208.3,205.8 L1208.2,206.1 L1208.1,206.4 L1207.8,206.7 L1207.6,206.9 L1207.3,207.2 L1207.0,207.3 L1206.6,207.5 L1206.2,207.6 L1205.8,207.7 L1205.4,207.7 L1205.1,207.7 L1204.7,207.8 L1204.3,207.8 L1204.0,207.8 L1203.7,207.9 L1203.4,208.0 L1203.1,208.1 L1202.8,208.2 L1202.5,208.3 L1202.1,208.5 L1201.8,208.7 L1201.4,208.8 L1201.1,208.9 L1200.7,209.0 L1200.3,209.1 L1199.9,209.1 L1199.5,209.1 L1199.1,209.0 L1198.7,208.9 L1198.4,208.7 L1198.1,208.4 L1197.8,208.2 L1197.6,207.9 L1197.4,207.6 L1197.2,207.3 L1197.0,207.0 L1196.9,206.7 L1196.7,206.4 L1196.6,206.2 L1196.4,205.9 L1196.3,205.7 L1196.1,205.5 L1195.9,205.2 L1195.6,205.0 L1195.4,204.7 L1195.2,204.5 L1195.0,204.2 L1194.8,203.9 L1194.7,203.6 L1194.6,203.3 L1194.5,203.0 L1194.5,202.7 L1194.6,202.4 L1194.7,202.1 L1194.9,201.8 L1195.1,201.5 L1195.3,201.2 L1195.5,201.0 L1195.8,200.7 L1196.0,200.5 L1196.3,200.3 L1196.5,200.1 L1196.7,199.9 L1196.9,199.6 L1197.0,199.4 L1197.3,199.2 L1197.5,199.0 L1197.9,199.0 L1198.3,199.0 L1198.5,198.7 L1198.5,198.3 L1198.6,197.7 L1198.8,197.3 L1199.1,197.0 L1199.4,196.9 L1199.8,196.8 L1200.2,196.7 L1200.6,196.7 L1201.0,196.8 L1201.4,196.9 L1201.8,197.1 L1202.2,197.2 L1202.5,197.4 L1202.8,197.6 L1203.1,197.7 L1203.4,197.9 L1203.7,198.0 L1204.0,198.2 L1204.3,198.3 L1204.6,198.3 L1205.0,198.4 L1205.3,198.5 L1205.7,198.5 L1206.0,198.6 L1206.4,198.7 L1206.8,198.8 L1207.1,199.0 L1207.5,199.1 L1207.8,199.4 L1208.0,199.6 L1208.2,199.9 L1208.4,200.2 L1208.5,200.5 L1208.5,200.8 L1208.5,201.2 L1208.5,201.5 L1208.5,201.8 L1208.4,202.1 L1208.4,202.4 L1208.4,202.7 Z" fill="none" stroke="#a2a2a2" stroke-width="0.9" stroke-linejoin="round"/>
<circle cx="1201.8" cy="203.0" r="0.9" fill="#aaa"/>
<path d="M1208.5,227.0 L1208.6,227.3 L1208.7,227.6 L1208.8,227.9 L1208.9,228.3 L1208.9,228.6 L1208.8,228.9 L1208.7,229.2 L1208.6,229.5 L1208.4,229.8 L1208.2,230.1 L1207.9,230.3 L1207.6,230.5 L1207.2,230.7 L1206.9,230.8 L1206.5,230.9 L1206.1,231.0 L1205.8,231.1 L1205.5,231.2 L1205.2,231.3 L1204.9,231.5 L1204.6,231.6 L1204.3,231.8 L1204.1,232.0 L1203.8,232.2 L1203.5,232.4 L1203.2,232.6 L1202.9,232.8 L1202.5,233.0 L1202.2,233.1 L1201.8,233.3 L1201.4,233.3 L1201.0,233.4 L1200.6,233.4 L1200.2,233.3 L1199.8,233.1 L1199.5,233.0 L1199.2,232.8 L1198.9,232.5 L1198.6,232.3 L1198.4,232.0 L1198.1,231.7 L1197.9,231.5 L1197.7,231.2 L1197.5,231.0 L1197.3,230.8 L1197.1,230.6 L1196.8,230.4 L1196.5,230.2 L1196.3,230.0 L1196.0,229.8 L1195.7,229.6 L1195.4,229.4 L1195.2,229.1 L1195.0,228.9 L1194.8,228.6 L1194.7,228.3 L1194.6,228.0 L1194.6,227.6 L1194.6,227.3 L1194.7,227.0 L1194.8,226.7 L1195.0,226.4 L1195.2,226.1 L1195.4,225.8 L1195.5,225.6 L1195.7,225.3 L1195.9,225.1 L1196.0,224.8 L1196.1,224.6 L1196.2,224.3 L1196.3,224.0 L1196.4,223.7 L1196.5,223.4 L1196.6,223.1 L1196.8,222.8 L1197.1,222.6 L1197.5,222.6 L1197.9,222.5 L1198.2,222.4 L1198.4,222.0 L1198.5,221.6 L1198.8,221.3 L1199.1,221.1 L1199.5,221.1 L1199.9,221.2 L1200.3,221.2 L1200.7,221.3 L1201.1,221.4 L1201.5,221.6 L1201.8,221.7 L1202.1,221.8 L1202.4,221.8 L1202.8,221.9 L1203.1,221.9 L1203.4,221.9 L1203.8,221.9 L1204.1,221.9 L1204.5,221.9 L1204.9,221.9 L1205.3,222.0 L1205.7,222.0 L1206.0,222.1 L1206.4,222.2 L1206.7,222.4 L1207.0,222.6 L1207.3,222.8 L1207.5,223.1 L1207.7,223.4 L1207.8,223.7 L1207.9,224.0 L1208.0,224.3 L1208.0,224.7 L1208.1,225.0 L1208.1,225.3 L1208.1,225.6 L1208.2,225.9 L1208.2,226.1 L1208.3,226.4 L1208.4,226.7 Z" fill="none" stroke="#a2a2a2" stroke-width="0.9" stroke-linejoin="round"/>
<circle cx="1201.8" cy="227.0" r="0.9" fill="#aaa"/>
<path d="M1209.0,250.0 L1209.1,250.3 L1209.1,250.6 L1209.1,251.0 L1209.1,251.3 L1208.9,251.6 L1208.8,251.9 L1208.5,252.2 L1208.3,252.4 L1208.0,252.6 L1207.7,252.8 L1207.3,253.0 L1207.0,253.2 L1206.7,253.3 L1206.4,253.5 L1206.2,253.7 L1205.9,253.8 L1205.7,254.0 L1205.5,254.2 L1205.3,254.5 L1205.0,254.7 L1204.8,255.0 L1204.6,255.3 L1204.3,255.5 L1204.0,255.8 L1203.7,256.0 L1203.4,256.2 L1203.0,256.3 L1202.6,256.4 L1202.2,256.4 L1201.8,256.4 L1201.4,256.3 L1201.0,256.2 L1200.7,256.1 L1200.3,255.9 L1200.0,255.7 L1199.7,255.5 L1199.4,255.2 L1199.1,255.0 L1198.9,254.8 L1198.6,254.6 L1198.3,254.5 L1198.1,254.3 L1197.8,254.2 L1197.5,254.1 L1197.1,253.9 L1196.8,253.8 L1196.5,253.6 L1196.2,253.4 L1195.9,253.2 L1195.6,253.0 L1195.3,252.8 L1195.2,252.5 L1195.0,252.2 L1194.9,251.9 L1194.9,251.6 L1194.9,251.2 L1194.9,250.9 L1195.0,250.6 L1195.1,250.3 L1195.2,250.0 L1195.3,249.7 L1195.4,249.4 L1195.5,249.2 L1195.6,248.9 L1195.6,248.6 L1195.6,248.3 L1195.6,248.0 L1195.7,247.7 L1195.7,247.4 L1195.7,247.0 L1195.8,246.7 L1195.9,246.4 L1196.0,246.0 L1196.2,245.7 L1196.5,245.5 L1196.9,245.4 L1197.4,245.4 L1198.0,245.6 L1198.3,245.5 L1198.5,245.3 L1198.7,244.9 L1199.0,244.8 L1199.4,244.7 L1199.8,244.7 L1200.1,244.8 L1200.5,244.8 L1200.8,244.8 L1201.2,244.9 L1201.5,244.8 L1201.8,244.8 L1202.1,244.8 L1202.5,244.7 L1202.8,244.6 L1203.2,244.5 L1203.6,244.5 L1204.0,244.4 L1204.4,244.4 L1204.8,244.4 L1205.1,244.5 L1205.5,244.6 L1205.9,244.8 L1206.2,244.9 L1206.4,245.2 L1206.7,245.4 L1206.9,245.7 L1207.1,246.0 L1207.2,246.3 L1207.3,246.6 L1207.4,246.9 L1207.5,247.2 L1207.6,247.5 L1207.8,247.8 L1207.9,248.0 L1208.0,248.3 L1208.2,248.6 L1208.4,248.8 L1208.6,249.1 L1208.7,249.4 L1208.9,249.7 Z" fill="none" stroke="#a2a2a2" stroke-width="0.9" stroke-linejoin="round"/>
<circle cx="1201.8" cy="250.0" r="0.9" fill="#aaa"/>
<path d="M1209.2,273.0 L1209.1,273.3 L1209.0,273.6 L1208.9,273.9 L1208.7,274.2 L1208.4,274.5 L1208.2,274.7 L1207.9,275.0 L1207.7,275.2 L1207.4,275.4 L1207.2,275.6 L1207.0,275.8 L1206.8,276.0 L1206.6,276.3 L1206.5,276.5 L1206.3,276.8 L1206.2,277.1 L1206.0,277.4 L1205.9,277.7 L1205.7,278.0 L1205.4,278.3 L1205.2,278.6 L1204.9,278.8 L1204.5,279.0 L1204.2,279.1 L1203.8,279.2 L1203.4,279.3 L1203.0,279.3 L1202.6,279.2 L1202.2,279.1 L1201.8,279.0 L1201.4,278.8 L1201.1,278.7 L1200.8,278.5 L1200.4,278.3 L1200.1,278.2 L1199.8,278.1 L1199.5,278.0 L1199.2,277.9 L1198.9,277.8 L1198.6,277.7 L1198.2,277.7 L1197.8,277.6 L1197.5,277.5 L1197.1,277.4 L1196.8,277.2 L1196.5,277.0 L1196.2,276.8 L1195.9,276.6 L1195.7,276.3 L1195.5,276.0 L1195.4,275.7 L1195.3,275.4 L1195.3,275.1 L1195.3,274.8 L1195.3,274.5 L1195.4,274.2 L1195.4,273.9 L1195.4,273.6 L1195.4,273.3 L1195.4,273.0 L1195.4,272.7 L1195.3,272.4 L1195.2,272.1 L1195.2,271.8 L1195.1,271.5 L1195.1,271.2 L1195.0,270.8 L1195.1,270.5 L1195.1,270.1 L1195.2,269.8 L1195.4,269.5 L1195.6,269.2 L1195.9,269.0 L1196.2,268.8 L1196.6,268.7 L1197.1,268.6 L1197.8,268.8 L1198.3,269.0 L1198.7,269.0 L1198.9,268.8 L1199.1,268.5 L1199.3,268.3 L1199.6,268.2 L1199.9,268.1 L1200.2,268.0 L1200.5,267.9 L1200.8,267.8 L1201.1,267.7 L1201.5,267.5 L1201.8,267.4 L1202.2,267.2 L1202.5,267.1 L1202.9,267.0 L1203.3,267.0 L1203.7,267.0 L1204.1,267.0 L1204.5,267.1 L1204.8,267.3 L1205.2,267.5 L1205.5,267.7 L1205.7,267.9 L1206.0,268.2 L1206.2,268.5 L1206.4,268.7 L1206.5,269.0 L1206.7,269.3 L1206.9,269.5 L1207.1,269.8 L1207.3,270.0 L1207.5,270.2 L1207.7,270.5 L1208.0,270.7 L1208.2,270.9 L1208.4,271.2 L1208.7,271.5 L1208.9,271.7 L1209.0,272.0 L1209.1,272.4 L1209.2,272.7 Z" fill="none" stroke="#a2a2a2" stroke-width="0.9" stroke-linejoin="round"/>
<circle cx="1201.8" cy="273.0" r="0.9" fill="#aaa"/>
<path d="M1208.8,300.0 L1208.6,300.3 L1208.4,300.6 L1208.3,300.9 L1208.1,301.1 L1207.9,301.4 L1207.7,301.6 L1207.6,301.9 L1207.5,302.1 L1207.4,302.4 L1207.3,302.7 L1207.2,303.0 L1207.1,303.3 L1207.1,303.6 L1207.0,303.9 L1206.9,304.2 L1206.7,304.6 L1206.5,304.9 L1206.3,305.2 L1206.0,305.4 L1205.6,305.6 L1205.3,305.7 L1204.9,305.8 L1204.5,305.9 L1204.1,305.9 L1203.7,305.9 L1203.3,305.8 L1202.9,305.7 L1202.5,305.6 L1202.1,305.5 L1201.8,305.4 L1201.5,305.3 L1201.1,305.3 L1200.8,305.2 L1200.5,305.2 L1200.1,305.2 L1199.8,305.2 L1199.4,305.2 L1199.1,305.2 L1198.7,305.2 L1198.3,305.1 L1197.9,305.0 L1197.6,304.9 L1197.2,304.7 L1196.9,304.6 L1196.7,304.3 L1196.4,304.1 L1196.2,303.8 L1196.1,303.5 L1196.0,303.2 L1195.9,302.9 L1195.8,302.6 L1195.8,302.3 L1195.7,302.0 L1195.7,301.7 L1195.6,301.4 L1195.5,301.1 L1195.4,300.9 L1195.3,300.6 L1195.1,300.3 L1195.0,300.0 L1194.8,299.7 L1194.7,299.4 L1194.6,299.0 L1194.6,298.7 L1194.5,298.4 L1194.6,298.0 L1194.7,297.7 L1194.8,297.4 L1195.1,297.1 L1195.3,296.9 L1195.6,296.6 L1196.0,296.4 L1196.3,296.3 L1196.7,296.2 L1197.2,296.1 L1197.7,296.1 L1198.2,296.3 L1198.7,296.5 L1199.0,296.4 L1199.1,296.1 L1199.2,295.7 L1199.3,295.3 L1199.6,295.1 L1199.8,294.9 L1200.1,294.7 L1200.4,294.5 L1200.7,294.3 L1201.1,294.1 L1201.4,293.9 L1201.8,293.8 L1202.2,293.8 L1202.6,293.7 L1203.0,293.8 L1203.4,293.9 L1203.7,294.0 L1204.1,294.2 L1204.4,294.4 L1204.7,294.6 L1204.9,294.8 L1205.2,295.1 L1205.4,295.3 L1205.7,295.5 L1205.9,295.7 L1206.2,295.9 L1206.4,296.1 L1206.7,296.3 L1207.0,296.5 L1207.3,296.7 L1207.6,296.9 L1207.8,297.1 L1208.1,297.3 L1208.4,297.5 L1208.6,297.8 L1208.8,298.1 L1208.9,298.4 L1209.0,298.7 L1209.0,299.0 L1209.0,299.4 L1208.9,299.7 Z" fill="none" stroke="#a2a2a2" stroke-width="0.9" stroke-linejoin="round"/>
<circle cx="1201.8" cy="300.0" r="0.9" fill="#aaa"/>
<path d="M1208.2,322.0 L1208.1,322.3 L1208.0,322.5 L1207.9,322.8 L1207.9,323.1 L1207.9,323.4 L1207.9,323.7 L1207.9,324.0 L1207.9,324.3 L1207.9,324.6 L1207.9,325.0 L1207.8,325.3 L1207.8,325.6 L1207.6,326.0 L1207.5,326.3 L1207.2,326.6 L1206.9,326.8 L1206.6,327.0 L1206.3,327.2 L1205.9,327.3 L1205.5,327.3 L1205.1,327.4 L1204.7,327.4 L1204.3,327.4 L1203.9,327.3 L1203.5,327.3 L1203.1,327.3 L1202.8,327.3 L1202.5,327.3 L1202.1,327.3 L1201.8,327.3 L1201.5,327.4 L1201.1,327.4 L1200.8,327.5 L1200.4,327.6 L1200.0,327.6 L1199.6,327.6 L1199.2,327.6 L1198.9,327.5 L1198.5,327.4 L1198.2,327.3 L1197.8,327.1 L1197.5,326.9 L1197.3,326.7 L1197.1,326.4 L1196.9,326.1 L1196.7,325.8 L1196.6,325.5 L1196.5,325.3 L1196.3,325.0 L1196.2,324.7 L1196.1,324.5 L1195.9,324.2 L1195.7,324.0 L1195.5,323.7 L1195.3,323.5 L1195.1,323.2 L1194.9,322.9 L1194.7,322.6 L1194.5,322.3 L1194.4,322.0 L1194.3,321.7 L1194.3,321.3 L1194.3,321.0 L1194.4,320.7 L1194.5,320.4 L1194.7,320.1 L1195.0,319.8 L1195.3,319.6 L1195.6,319.3 L1195.9,319.2 L1196.3,319.0 L1196.6,318.8 L1196.9,318.7 L1197.2,318.5 L1197.5,318.4 L1197.9,318.4 L1198.3,318.4 L1198.7,318.5 L1198.9,318.3 L1199.0,317.9 L1199.0,317.3 L1199.1,316.9 L1199.3,316.6 L1199.6,316.3 L1199.9,316.1 L1200.3,315.9 L1200.6,315.8 L1201.0,315.7 L1201.4,315.7 L1201.8,315.7 L1202.2,315.8 L1202.6,315.9 L1202.9,316.0 L1203.3,316.2 L1203.6,316.4 L1203.9,316.6 L1204.2,316.8 L1204.5,316.9 L1204.8,317.1 L1205.1,317.3 L1205.4,317.4 L1205.7,317.5 L1206.0,317.7 L1206.3,317.8 L1206.7,317.9 L1207.0,318.1 L1207.3,318.2 L1207.6,318.4 L1207.9,318.7 L1208.2,318.9 L1208.4,319.2 L1208.5,319.5 L1208.6,319.8 L1208.7,320.1 L1208.7,320.5 L1208.6,320.8 L1208.5,321.1 L1208.4,321.4 L1208.3,321.7 Z" fill="none" stroke="#a2a2a2" stroke-width="0.9" stroke-linejoin="round"/>
<circle cx="1201.8" cy="322.0" r="0.9" fill="#aaa"/>
<path d="M1208.0,345.0 L1208.1,345.3 L1208.2,345.6 L1208.3,345.9 L1208.4,346.2 L1208.5,346.5 L1208.5,346.8 L1208.6,347.2 L1208.6,347.5 L1208.5,347.9 L1208.4,348.2 L1208.2,348.5 L1208.0,348.8 L1207.7,349.0 L1207.4,349.3 L1207.1,349.4 L1206.7,349.6 L1206.3,349.7 L1205.9,349.7 L1205.5,349.8 L1205.1,349.8 L1204.7,349.9 L1204.4,349.9 L1204.1,349.9 L1203.7,350.0 L1203.4,350.1 L1203.1,350.2 L1202.8,350.3 L1202.5,350.4 L1202.1,350.6 L1201.8,350.7 L1201.4,350.8 L1201.1,350.9 L1200.7,350.9 L1200.3,351.0 L1199.9,350.9 L1199.5,350.8 L1199.2,350.7 L1198.9,350.6 L1198.6,350.4 L1198.3,350.1 L1198.0,349.9 L1197.8,349.6 L1197.6,349.4 L1197.4,349.1 L1197.2,348.9 L1197.0,348.6 L1196.8,348.4 L1196.6,348.2 L1196.3,348.0 L1196.1,347.8 L1195.8,347.6 L1195.5,347.4 L1195.2,347.1 L1195.0,346.9 L1194.7,346.6 L1194.5,346.3 L1194.4,346.0 L1194.3,345.7 L1194.2,345.3 L1194.2,345.0 L1194.3,344.7 L1194.5,344.4 L1194.6,344.0 L1194.9,343.8 L1195.1,343.5 L1195.4,343.3 L1195.7,343.0 L1196.0,342.8 L1196.2,342.6 L1196.5,342.4 L1196.7,342.2 L1196.9,342.0 L1197.0,341.7 L1197.2,341.5 L1197.4,341.3 L1197.6,341.1 L1198.0,341.1 L1198.4,341.0 L1198.6,340.8 L1198.6,340.4 L1198.7,339.8 L1198.8,339.4 L1199.1,339.1 L1199.5,339.0 L1199.9,338.9 L1200.2,338.9 L1200.6,338.9 L1201.0,338.9 L1201.4,339.0 L1201.8,339.1 L1202.2,339.2 L1202.5,339.4 L1202.8,339.5 L1203.2,339.6 L1203.5,339.7 L1203.8,339.8 L1204.1,339.9 L1204.5,340.0 L1204.8,340.0 L1205.2,340.1 L1205.5,340.2 L1205.9,340.2 L1206.3,340.4 L1206.6,340.5 L1206.9,340.7 L1207.2,340.9 L1207.5,341.1 L1207.7,341.4 L1207.9,341.7 L1208.0,342.0 L1208.1,342.3 L1208.1,342.6 L1208.1,343.0 L1208.1,343.3 L1208.1,343.6 L1208.0,343.9 L1208.0,344.2 L1208.0,344.5 L1208.0,344.7 Z" fill="none" stroke="#a2a2a2" stroke-width="0.9" stroke-linejoin="round"/>
<circle cx="1201.8" cy="345.0" r="0.9" fill="#aaa"/>
<path d="M1208.6,368.0 L1208.7,368.3 L1208.9,368.6 L1209.0,369.0 L1209.1,369.3 L1209.1,369.6 L1209.1,370.0 L1209.0,370.3 L1208.8,370.6 L1208.6,370.9 L1208.3,371.2 L1208.0,371.4 L1207.7,371.6 L1207.3,371.7 L1206.9,371.9 L1206.6,372.0 L1206.2,372.1 L1205.9,372.2 L1205.5,372.3 L1205.2,372.4 L1204.9,372.5 L1204.6,372.7 L1204.4,372.9 L1204.1,373.0 L1203.8,373.2 L1203.5,373.4 L1203.2,373.6 L1202.9,373.8 L1202.5,373.9 L1202.2,374.0 L1201.8,374.1 L1201.4,374.1 L1201.0,374.1 L1200.7,374.1 L1200.3,374.0 L1199.9,373.8 L1199.6,373.6 L1199.3,373.4 L1199.0,373.2 L1198.8,373.0 L1198.5,372.8 L1198.2,372.6 L1198.0,372.4 L1197.7,372.2 L1197.5,372.1 L1197.2,371.9 L1196.9,371.7 L1196.5,371.6 L1196.2,371.4 L1195.9,371.2 L1195.6,371.0 L1195.3,370.8 L1195.0,370.5 L1194.8,370.3 L1194.6,370.0 L1194.5,369.6 L1194.4,369.3 L1194.4,369.0 L1194.5,368.6 L1194.6,368.3 L1194.8,368.0 L1195.0,367.7 L1195.2,367.4 L1195.4,367.1 L1195.6,366.9 L1195.8,366.6 L1196.0,366.4 L1196.1,366.2 L1196.2,365.9 L1196.3,365.6 L1196.4,365.4 L1196.4,365.1 L1196.5,364.8 L1196.6,364.5 L1196.7,364.1 L1196.9,363.9 L1197.2,363.7 L1197.6,363.6 L1198.0,363.6 L1198.3,363.5 L1198.4,363.1 L1198.6,362.6 L1198.8,362.4 L1199.2,362.2 L1199.6,362.2 L1200.0,362.2 L1200.3,362.2 L1200.7,362.3 L1201.1,362.4 L1201.5,362.4 L1201.8,362.5 L1202.1,362.5 L1202.5,362.6 L1202.8,362.6 L1203.2,362.6 L1203.5,362.6 L1203.9,362.6 L1204.3,362.6 L1204.6,362.6 L1205.0,362.7 L1205.4,362.8 L1205.8,362.9 L1206.1,363.0 L1206.4,363.2 L1206.7,363.4 L1206.9,363.7 L1207.1,364.0 L1207.3,364.3 L1207.4,364.6 L1207.5,364.9 L1207.5,365.2 L1207.6,365.5 L1207.6,365.8 L1207.7,366.1 L1207.7,366.4 L1207.8,366.6 L1207.9,366.9 L1208.1,367.2 L1208.2,367.4 L1208.4,367.7 Z" fill="none" stroke="#a2a2a2" stroke-width="0.9" stroke-linejoin="round"/>
<circle cx="1201.8" cy="368.0" r="0.9" fill="#aaa"/>
<path d="M1209.3,397.0 L1209.4,397.3 L1209.4,397.7 L1209.4,398.0 L1209.3,398.3 L1209.2,398.7 L1208.9,399.0 L1208.7,399.2 L1208.4,399.5 L1208.1,399.7 L1207.7,399.9 L1207.4,400.1 L1207.1,400.2 L1206.8,400.4 L1206.5,400.5 L1206.2,400.7 L1206.0,400.9 L1205.7,401.1 L1205.5,401.3 L1205.3,401.5 L1205.1,401.8 L1204.8,402.0 L1204.6,402.2 L1204.3,402.5 L1204.0,402.7 L1203.7,402.8 L1203.3,403.0 L1202.9,403.1 L1202.6,403.1 L1202.2,403.1 L1201.8,403.1 L1201.4,403.0 L1201.1,402.9 L1200.7,402.8 L1200.4,402.6 L1200.1,402.4 L1199.8,402.3 L1199.5,402.1 L1199.2,402.0 L1198.9,401.9 L1198.5,401.7 L1198.2,401.6 L1197.9,401.5 L1197.5,401.4 L1197.2,401.3 L1196.8,401.2 L1196.4,401.1 L1196.1,400.9 L1195.8,400.7 L1195.5,400.4 L1195.3,400.2 L1195.1,399.9 L1195.0,399.6 L1194.9,399.2 L1194.9,398.9 L1194.9,398.6 L1195.0,398.2 L1195.1,397.9 L1195.2,397.6 L1195.4,397.3 L1195.5,397.0 L1195.6,396.7 L1195.7,396.5 L1195.8,396.2 L1195.8,395.9 L1195.8,395.7 L1195.8,395.4 L1195.8,395.1 L1195.8,394.7 L1195.8,394.4 L1195.8,394.1 L1195.8,393.7 L1195.9,393.4 L1196.0,393.1 L1196.2,392.8 L1196.5,392.6 L1196.9,392.4 L1197.5,392.5 L1198.0,392.6 L1198.4,392.6 L1198.6,392.3 L1198.7,392.0 L1199.0,391.7 L1199.4,391.7 L1199.7,391.6 L1200.1,391.6 L1200.4,391.6 L1200.8,391.6 L1201.1,391.6 L1201.5,391.5 L1201.8,391.5 L1202.1,391.4 L1202.5,391.4 L1202.9,391.3 L1203.3,391.3 L1203.6,391.2 L1204.0,391.2 L1204.4,391.3 L1204.8,391.4 L1205.1,391.5 L1205.4,391.7 L1205.7,391.9 L1206.0,392.2 L1206.2,392.4 L1206.4,392.7 L1206.6,393.0 L1206.7,393.3 L1206.8,393.6 L1206.9,393.9 L1207.1,394.1 L1207.2,394.4 L1207.4,394.6 L1207.6,394.8 L1207.8,395.1 L1208.0,395.3 L1208.2,395.6 L1208.5,395.8 L1208.7,396.1 L1208.9,396.4 L1209.1,396.7 Z" fill="none" stroke="#a2a2a2" stroke-width="0.9" stroke-linejoin="round"/>
<circle cx="1201.8" cy="397.0" r="0.9" fill="#aaa"/>
<path d="M1209.5,419.0 L1209.4,419.3 L1209.2,419.7 L1209.0,420.0 L1208.8,420.3 L1208.5,420.5 L1208.3,420.8 L1208.0,421.0 L1207.7,421.2 L1207.5,421.4 L1207.2,421.6 L1207.0,421.8 L1206.8,422.1 L1206.7,422.3 L1206.5,422.6 L1206.3,422.8 L1206.2,423.1 L1206.0,423.4 L1205.8,423.7 L1205.6,423.9 L1205.4,424.2 L1205.1,424.4 L1204.8,424.6 L1204.4,424.8 L1204.1,424.9 L1203.7,424.9 L1203.3,425.0 L1202.9,424.9 L1202.5,424.9 L1202.2,424.8 L1201.8,424.7 L1201.4,424.6 L1201.1,424.5 L1200.8,424.4 L1200.4,424.3 L1200.1,424.3 L1199.8,424.2 L1199.4,424.2 L1199.1,424.1 L1198.7,424.1 L1198.3,424.1 L1197.9,424.0 L1197.6,423.9 L1197.2,423.8 L1196.8,423.6 L1196.5,423.5 L1196.2,423.2 L1196.0,423.0 L1195.8,422.7 L1195.6,422.4 L1195.5,422.0 L1195.5,421.7 L1195.5,421.4 L1195.5,421.0 L1195.6,420.7 L1195.6,420.4 L1195.7,420.1 L1195.7,419.8 L1195.7,419.5 L1195.7,419.3 L1195.7,419.0 L1195.6,418.7 L1195.5,418.4 L1195.4,418.1 L1195.3,417.8 L1195.2,417.5 L1195.1,417.2 L1195.1,416.8 L1195.1,416.5 L1195.2,416.2 L1195.3,415.8 L1195.4,415.5 L1195.7,415.2 L1195.9,415.0 L1196.3,414.8 L1196.6,414.7 L1197.1,414.7 L1197.7,414.8 L1198.3,415.0 L1198.7,415.0 L1198.9,414.7 L1199.0,414.4 L1199.2,414.1 L1199.5,414.0 L1199.8,413.8 L1200.1,413.7 L1200.4,413.6 L1200.8,413.5 L1201.1,413.4 L1201.4,413.2 L1201.8,413.1 L1202.2,413.0 L1202.6,413.0 L1202.9,413.0 L1203.3,413.0 L1203.7,413.1 L1204.0,413.2 L1204.4,413.4 L1204.7,413.5 L1205.0,413.8 L1205.2,414.0 L1205.5,414.3 L1205.7,414.5 L1205.9,414.8 L1206.1,415.0 L1206.3,415.3 L1206.5,415.5 L1206.7,415.7 L1206.9,415.9 L1207.2,416.1 L1207.5,416.2 L1207.8,416.4 L1208.1,416.6 L1208.4,416.9 L1208.7,417.1 L1208.9,417.4 L1209.2,417.7 L1209.3,418.0 L1209.4,418.3 L1209.5,418.7 Z" fill="none" stroke="#a2a2a2" stroke-width="0.9" stroke-linejoin="round"/>
<circle cx="1201.8" cy="419.0" r="0.9" fill="#aaa"/>
<path d="M1208.9,443.0 L1208.7,443.3 L1208.5,443.6 L1208.3,443.9 L1208.1,444.1 L1207.9,444.4 L1207.7,444.6 L1207.6,444.9 L1207.5,445.1 L1207.4,445.4 L1207.3,445.7 L1207.2,446.0 L1207.1,446.3 L1207.0,446.6 L1206.9,446.9 L1206.8,447.2 L1206.6,447.5 L1206.4,447.7 L1206.1,448.0 L1205.8,448.2 L1205.5,448.4 L1205.1,448.5 L1204.8,448.6 L1204.4,448.6 L1204.0,448.6 L1203.6,448.6 L1203.2,448.6 L1202.8,448.6 L1202.5,448.5 L1202.1,448.5 L1201.8,448.5 L1201.5,448.5 L1201.1,448.5 L1200.8,448.5 L1200.4,448.5 L1200.0,448.6 L1199.6,448.6 L1199.3,448.6 L1198.9,448.6 L1198.5,448.5 L1198.1,448.4 L1197.7,448.3 L1197.4,448.1 L1197.1,447.9 L1196.8,447.6 L1196.6,447.3 L1196.5,447.0 L1196.3,446.7 L1196.2,446.4 L1196.2,446.1 L1196.2,445.7 L1196.1,445.4 L1196.1,445.1 L1196.0,444.9 L1196.0,444.6 L1195.9,444.3 L1195.8,444.1 L1195.6,443.8 L1195.5,443.6 L1195.3,443.3 L1195.1,443.0 L1194.9,442.7 L1194.8,442.4 L1194.7,442.0 L1194.6,441.7 L1194.6,441.4 L1194.6,441.0 L1194.7,440.7 L1194.9,440.4 L1195.1,440.1 L1195.3,439.9 L1195.6,439.6 L1196.0,439.4 L1196.3,439.3 L1196.7,439.1 L1197.1,439.0 L1197.5,439.0 L1198.1,439.2 L1198.6,439.3 L1198.9,439.2 L1199.0,438.9 L1199.0,438.4 L1199.2,438.1 L1199.4,437.8 L1199.7,437.6 L1200.0,437.4 L1200.3,437.3 L1200.7,437.1 L1201.0,437.0 L1201.4,436.9 L1201.8,436.9 L1202.2,436.9 L1202.6,436.9 L1202.9,437.0 L1203.3,437.2 L1203.6,437.3 L1203.9,437.5 L1204.2,437.7 L1204.5,438.0 L1204.7,438.2 L1205.0,438.4 L1205.2,438.5 L1205.5,438.7 L1205.8,438.9 L1206.1,439.0 L1206.4,439.1 L1206.7,439.3 L1207.1,439.4 L1207.4,439.6 L1207.8,439.7 L1208.1,439.9 L1208.4,440.2 L1208.7,440.4 L1208.9,440.7 L1209.1,441.0 L1209.2,441.3 L1209.3,441.7 L1209.3,442.0 L1209.2,442.3 L1209.1,442.7 Z" fill="none" stroke="#a2a2a2" stroke-width="0.9" stroke-linejoin="round"/>
<circle cx="1201.8" cy="443.0" r="0.9" fill="#aaa"/>
<path d="M1207.6,637.0 L1207.5,637.3 L1207.4,637.7 L1207.2,638.0 L1207.0,638.2 L1206.7,638.5 L1206.5,638.8 L1206.2,639.0 L1206.0,639.2 L1205.7,639.4 L1205.5,639.7 L1205.3,639.9 L1205.1,640.1 L1205.0,640.4 L1204.8,640.6 L1204.7,640.9 L1204.5,641.2 L1204.3,641.5 L1204.1,641.7 L1203.9,642.0 L1203.6,642.2 L1203.3,642.4 L1203.0,642.6 L1202.6,642.7 L1202.2,642.8 L1201.9,642.8 L1201.5,642.8 L1201.1,642.8 L1200.7,642.7 L1200.4,642.7 L1200.0,642.6 L1199.7,642.5 L1199.3,642.4 L1199.0,642.3 L1198.7,642.3 L1198.3,642.2 L1198.0,642.2 L1197.6,642.2 L1197.3,642.2 L1196.9,642.2 L1196.5,642.1 L1196.1,642.1 L1195.7,642.0 L1195.3,641.9 L1194.9,641.7 L1194.6,641.5 L1194.3,641.3 L1194.1,641.0 L1193.9,640.7 L1193.8,640.4 L1193.7,640.1 L1193.7,639.7 L1193.7,639.4 L1193.7,639.0 L1193.8,638.7 L1193.8,638.4 L1193.9,638.1 L1193.9,637.8 L1193.9,637.5 L1193.9,637.3 L1193.8,637.0 L1193.8,636.7 L1193.7,636.4 L1193.6,636.1 L1193.5,635.8 L1193.4,635.5 L1193.3,635.2 L1193.3,634.8 L1193.3,634.5 L1193.4,634.2 L1193.5,633.9 L1193.7,633.6 L1194.0,633.3 L1194.2,633.1 L1194.6,632.9 L1195.0,632.8 L1195.4,632.7 L1196.0,632.9 L1196.6,633.0 L1196.9,633.0 L1197.1,632.7 L1197.2,632.4 L1197.4,632.1 L1197.7,631.9 L1198.0,631.8 L1198.3,631.6 L1198.6,631.5 L1198.9,631.3 L1199.3,631.2 L1199.6,631.1 L1200.0,631.0 L1200.4,630.9 L1200.8,630.9 L1201.2,630.9 L1201.5,630.9 L1201.9,631.0 L1202.3,631.2 L1202.6,631.4 L1202.9,631.6 L1203.1,631.8 L1203.4,632.1 L1203.6,632.4 L1203.8,632.6 L1204.0,632.9 L1204.2,633.1 L1204.4,633.3 L1204.6,633.5 L1204.8,633.7 L1205.1,633.9 L1205.4,634.1 L1205.7,634.3 L1206.0,634.4 L1206.3,634.6 L1206.6,634.9 L1206.9,635.1 L1207.1,635.4 L1207.4,635.7 L1207.5,636.0 L1207.6,636.3 L1207.7,636.7 Z" fill="none" stroke="#a2a2a2" stroke-width="0.9" stroke-linejoin="round"/>
<circle cx="1200.0" cy="637.0" r="0.9" fill="#aaa"/>
<path d="M1208.0,659.0 L1207.8,659.3 L1207.6,659.6 L1207.4,659.9 L1207.3,660.1 L1207.1,660.4 L1207.0,660.6 L1206.9,660.9 L1206.8,661.2 L1206.7,661.5 L1206.7,661.8 L1206.6,662.1 L1206.5,662.4 L1206.4,662.7 L1206.3,663.0 L1206.1,663.3 L1205.8,663.5 L1205.6,663.8 L1205.3,664.0 L1205.0,664.1 L1204.6,664.2 L1204.2,664.3 L1203.9,664.4 L1203.5,664.4 L1203.1,664.4 L1202.7,664.4 L1202.4,664.4 L1202.0,664.4 L1201.7,664.4 L1201.3,664.4 L1201.0,664.4 L1200.7,664.5 L1200.3,664.5 L1199.9,664.6 L1199.6,664.7 L1199.2,664.7 L1198.8,664.8 L1198.4,664.8 L1198.0,664.7 L1197.6,664.7 L1197.2,664.5 L1196.9,664.4 L1196.5,664.2 L1196.3,663.9 L1196.1,663.6 L1195.9,663.3 L1195.7,663.0 L1195.6,662.7 L1195.6,662.3 L1195.5,662.0 L1195.5,661.7 L1195.4,661.4 L1195.4,661.1 L1195.3,660.8 L1195.2,660.6 L1195.1,660.3 L1194.9,660.1 L1194.7,659.8 L1194.5,659.6 L1194.3,659.3 L1194.2,659.0 L1194.0,658.7 L1193.9,658.4 L1193.8,658.0 L1193.8,657.7 L1193.8,657.4 L1193.9,657.1 L1194.0,656.7 L1194.2,656.5 L1194.4,656.2 L1194.7,656.0 L1195.0,655.7 L1195.3,655.5 L1195.7,655.4 L1196.0,655.2 L1196.4,655.1 L1196.8,655.1 L1197.3,655.2 L1197.8,655.3 L1198.0,655.2 L1198.1,654.8 L1198.1,654.3 L1198.3,653.9 L1198.5,653.6 L1198.8,653.4 L1199.1,653.2 L1199.5,653.0 L1199.9,652.9 L1200.2,652.8 L1200.6,652.8 L1201.0,652.8 L1201.4,652.9 L1201.8,653.0 L1202.1,653.1 L1202.4,653.3 L1202.7,653.5 L1203.0,653.7 L1203.3,653.9 L1203.6,654.1 L1203.8,654.3 L1204.1,654.5 L1204.4,654.6 L1204.7,654.8 L1205.0,654.9 L1205.3,655.0 L1205.6,655.1 L1206.0,655.2 L1206.4,655.4 L1206.7,655.5 L1207.1,655.7 L1207.4,655.9 L1207.7,656.1 L1208.0,656.4 L1208.2,656.7 L1208.3,657.0 L1208.4,657.3 L1208.4,657.7 L1208.4,658.0 L1208.3,658.4 L1208.1,658.7 Z" fill="none" stroke="#a2a2a2" stroke-width="0.9" stroke-linejoin="round"/>
<circle cx="1201.0" cy="659.0" r="0.9" fill="#aaa"/>
<path d="M1207.8,682.0 L1207.8,682.3 L1207.7,682.6 L1207.8,682.8 L1207.8,683.1 L1207.8,683.4 L1207.8,683.7 L1207.8,684.0 L1207.8,684.4 L1207.8,684.7 L1207.7,685.0 L1207.6,685.3 L1207.4,685.6 L1207.2,685.9 L1206.9,686.1 L1206.6,686.3 L1206.3,686.5 L1205.9,686.6 L1205.6,686.7 L1205.2,686.8 L1204.8,686.9 L1204.5,686.9 L1204.1,687.0 L1203.8,687.1 L1203.5,687.2 L1203.2,687.3 L1202.9,687.4 L1202.5,687.5 L1202.2,687.6 L1201.9,687.8 L1201.5,687.9 L1201.1,688.0 L1200.7,688.1 L1200.3,688.2 L1199.9,688.2 L1199.5,688.2 L1199.2,688.1 L1198.8,687.9 L1198.5,687.7 L1198.2,687.5 L1197.9,687.3 L1197.7,687.0 L1197.5,686.7 L1197.3,686.4 L1197.1,686.1 L1197.0,685.8 L1196.9,685.5 L1196.7,685.3 L1196.6,685.0 L1196.4,684.8 L1196.2,684.6 L1195.9,684.4 L1195.7,684.2 L1195.4,684.0 L1195.1,683.7 L1194.9,683.5 L1194.6,683.2 L1194.4,682.9 L1194.2,682.6 L1194.1,682.3 L1194.0,682.0 L1194.0,681.7 L1194.0,681.3 L1194.1,681.0 L1194.3,680.7 L1194.5,680.4 L1194.7,680.1 L1195.0,679.9 L1195.2,679.7 L1195.5,679.4 L1195.8,679.2 L1196.0,679.0 L1196.2,678.8 L1196.5,678.6 L1196.7,678.3 L1196.9,678.1 L1197.2,678.0 L1197.7,678.0 L1198.1,678.0 L1198.3,677.8 L1198.3,677.4 L1198.4,676.9 L1198.6,676.5 L1198.9,676.3 L1199.2,676.1 L1199.6,676.1 L1200.0,676.0 L1200.4,676.0 L1200.8,676.1 L1201.1,676.2 L1201.5,676.3 L1201.8,676.5 L1202.2,676.6 L1202.5,676.7 L1202.8,676.8 L1203.1,677.0 L1203.4,677.0 L1203.7,677.1 L1204.1,677.2 L1204.4,677.2 L1204.8,677.2 L1205.2,677.3 L1205.6,677.3 L1206.0,677.4 L1206.4,677.5 L1206.7,677.6 L1207.1,677.8 L1207.4,678.0 L1207.7,678.2 L1207.9,678.5 L1208.1,678.8 L1208.2,679.1 L1208.3,679.5 L1208.3,679.8 L1208.3,680.1 L1208.2,680.5 L1208.1,680.8 L1208.0,681.1 L1207.9,681.4 L1207.9,681.7 Z" fill="none" stroke="#a2a2a2" stroke-width="0.9" stroke-linejoin="round"/>
<circle cx="1201.5" cy="682.0" r="0.9" fill="#aaa"/>
<path d="M1209.0,706.0 L1209.1,706.3 L1209.2,706.6 L1209.3,706.9 L1209.4,707.2 L1209.4,707.6 L1209.4,707.9 L1209.3,708.2 L1209.2,708.5 L1209.0,708.8 L1208.8,709.0 L1208.5,709.3 L1208.2,709.5 L1207.9,709.7 L1207.6,709.8 L1207.2,710.0 L1206.9,710.1 L1206.6,710.3 L1206.3,710.4 L1206.0,710.6 L1205.7,710.7 L1205.5,710.9 L1205.2,711.1 L1204.9,711.3 L1204.6,711.5 L1204.3,711.7 L1204.0,711.9 L1203.6,712.1 L1203.3,712.2 L1202.9,712.3 L1202.5,712.4 L1202.1,712.4 L1201.7,712.3 L1201.3,712.2 L1201.0,712.0 L1200.6,711.9 L1200.3,711.6 L1200.0,711.4 L1199.8,711.1 L1199.5,710.9 L1199.3,710.6 L1199.1,710.4 L1198.9,710.2 L1198.7,710.0 L1198.4,709.8 L1198.1,709.7 L1197.9,709.5 L1197.6,709.4 L1197.2,709.2 L1196.9,709.1 L1196.6,708.9 L1196.2,708.7 L1195.9,708.5 L1195.6,708.2 L1195.4,707.9 L1195.2,707.6 L1195.1,707.3 L1195.1,707.0 L1195.0,706.7 L1195.1,706.3 L1195.2,706.0 L1195.4,705.7 L1195.5,705.4 L1195.7,705.1 L1195.9,704.8 L1196.1,704.6 L1196.3,704.3 L1196.4,704.0 L1196.6,703.8 L1196.7,703.5 L1196.8,703.2 L1196.9,703.0 L1197.1,702.7 L1197.2,702.4 L1197.3,702.1 L1197.5,701.8 L1197.9,701.7 L1198.3,701.7 L1198.8,701.7 L1199.1,701.6 L1199.2,701.3 L1199.4,700.9 L1199.6,700.6 L1200.0,700.5 L1200.4,700.5 L1200.7,700.5 L1201.1,700.6 L1201.5,700.6 L1201.8,700.7 L1202.2,700.7 L1202.5,700.8 L1202.8,700.8 L1203.2,700.8 L1203.5,700.7 L1203.8,700.7 L1204.2,700.7 L1204.6,700.6 L1205.0,700.6 L1205.4,700.5 L1205.8,700.5 L1206.2,700.6 L1206.6,700.7 L1207.0,700.8 L1207.3,701.0 L1207.6,701.2 L1207.9,701.5 L1208.1,701.8 L1208.3,702.1 L1208.4,702.4 L1208.5,702.7 L1208.5,703.1 L1208.5,703.4 L1208.5,703.7 L1208.5,704.1 L1208.5,704.4 L1208.6,704.6 L1208.6,704.9 L1208.7,705.2 L1208.8,705.4 L1208.9,705.7 Z" fill="none" stroke="#a2a2a2" stroke-width="0.9" stroke-linejoin="round"/>
<circle cx="1202.5" cy="706.0" r="0.9" fill="#aaa"/>
<path d="M1210.2,729.0 L1210.2,729.3 L1210.3,729.6 L1210.2,730.0 L1210.2,730.3 L1210.0,730.6 L1209.8,730.9 L1209.6,731.1 L1209.4,731.4 L1209.1,731.6 L1208.8,731.8 L1208.6,732.0 L1208.3,732.2 L1208.1,732.4 L1207.8,732.6 L1207.6,732.9 L1207.4,733.1 L1207.2,733.3 L1207.0,733.6 L1206.7,733.9 L1206.5,734.1 L1206.3,734.4 L1206.0,734.6 L1205.7,734.8 L1205.3,735.0 L1204.9,735.1 L1204.6,735.2 L1204.2,735.2 L1203.8,735.2 L1203.4,735.2 L1203.0,735.0 L1202.6,734.9 L1202.3,734.7 L1202.0,734.5 L1201.6,734.3 L1201.4,734.2 L1201.1,734.0 L1200.8,733.8 L1200.5,733.7 L1200.2,733.6 L1199.9,733.5 L1199.6,733.4 L1199.3,733.3 L1198.9,733.3 L1198.5,733.2 L1198.1,733.1 L1197.8,733.0 L1197.4,732.8 L1197.0,732.6 L1196.7,732.4 L1196.5,732.2 L1196.2,731.9 L1196.1,731.6 L1196.0,731.3 L1195.9,730.9 L1195.9,730.6 L1196.0,730.3 L1196.1,729.9 L1196.2,729.6 L1196.3,729.3 L1196.4,729.0 L1196.5,728.7 L1196.6,728.4 L1196.6,728.2 L1196.7,727.9 L1196.7,727.6 L1196.7,727.3 L1196.7,727.0 L1196.8,726.7 L1196.8,726.4 L1196.9,726.0 L1197.0,725.7 L1197.1,725.4 L1197.3,725.1 L1197.6,724.9 L1197.9,724.7 L1198.3,724.7 L1198.9,724.7 L1199.5,724.9 L1199.8,724.9 L1200.0,724.6 L1200.2,724.3 L1200.4,724.1 L1200.7,724.0 L1201.1,724.0 L1201.4,723.9 L1201.7,723.9 L1202.0,723.8 L1202.3,723.7 L1202.7,723.6 L1203.0,723.4 L1203.4,723.3 L1203.7,723.2 L1204.1,723.1 L1204.5,723.0 L1204.9,723.0 L1205.3,723.0 L1205.7,723.0 L1206.1,723.1 L1206.5,723.2 L1206.8,723.4 L1207.1,723.7 L1207.4,724.0 L1207.6,724.3 L1207.7,724.6 L1207.9,724.9 L1208.0,725.2 L1208.1,725.5 L1208.2,725.8 L1208.3,726.1 L1208.4,726.4 L1208.5,726.6 L1208.7,726.9 L1208.9,727.1 L1209.1,727.3 L1209.3,727.6 L1209.5,727.8 L1209.7,728.1 L1209.9,728.4 L1210.0,728.7 Z" fill="none" stroke="#a2a2a2" stroke-width="0.9" stroke-linejoin="round"/>
<circle cx="1203.0" cy="729.0" r="0.9" fill="#aaa"/>
<path d="M1216.0,748.3 L1215.8,748.8 L1215.5,749.2 L1215.2,749.6 L1214.9,750.0 L1214.5,750.3 L1214.2,750.7 L1213.9,751.0 L1213.7,751.4 L1213.4,751.7 L1213.2,752.1 L1213.0,752.4 L1212.9,752.8 L1212.7,753.2 L1212.5,753.6 L1212.3,754.0 L1212.1,754.4 L1211.8,754.8 L1211.5,755.2 L1211.1,755.5 L1210.7,755.8 L1210.2,756.0 L1209.7,756.2 L1209.2,756.3 L1208.7,756.3 L1208.1,756.3 L1207.6,756.3 L1207.1,756.2 L1206.6,756.1 L1206.1,756.1 L1205.6,756.0 L1205.1,755.9 L1204.7,755.9 L1204.2,755.9 L1203.7,755.9 L1203.2,755.9 L1202.7,755.9 L1202.2,755.9 L1201.6,755.9 L1201.1,755.9 L1200.5,755.8 L1199.9,755.7 L1199.4,755.6 L1198.9,755.3 L1198.5,755.0 L1198.1,754.7 L1197.8,754.3 L1197.6,753.8 L1197.4,753.4 L1197.3,752.9 L1197.2,752.4 L1197.2,751.9 L1197.2,751.5 L1197.3,751.0 L1197.3,750.6 L1197.3,750.2 L1197.3,749.8 L1197.2,749.4 L1197.1,749.1 L1196.9,748.7 L1196.8,748.3 L1196.6,747.9 L1196.4,747.5 L1196.2,747.0 L1196.1,746.6 L1196.0,746.1 L1196.0,745.6 L1196.0,745.2 L1196.1,744.7 L1196.3,744.3 L1196.6,743.9 L1196.9,743.5 L1197.3,743.2 L1197.8,742.9 L1198.3,742.7 L1198.8,742.5 L1199.5,742.5 L1200.3,742.7 L1201.0,742.9 L1201.4,742.8 L1201.6,742.4 L1201.7,741.8 L1202.0,741.3 L1202.3,741.0 L1202.7,740.7 L1203.2,740.5 L1203.6,740.3 L1204.1,740.0 L1204.6,739.8 L1205.1,739.7 L1205.6,739.6 L1206.1,739.5 L1206.7,739.6 L1207.2,739.7 L1207.7,739.8 L1208.2,740.0 L1208.6,740.3 L1209.0,740.6 L1209.4,741.0 L1209.8,741.3 L1210.1,741.6 L1210.4,742.0 L1210.7,742.3 L1211.0,742.6 L1211.3,742.8 L1211.7,743.1 L1212.1,743.3 L1212.5,743.5 L1212.9,743.7 L1213.4,744.0 L1213.9,744.2 L1214.3,744.5 L1214.8,744.8 L1215.2,745.2 L1215.5,745.5 L1215.8,746.0 L1216.0,746.4 L1216.2,746.9 L1216.2,747.4 L1216.1,747.8 Z" fill="none" stroke="#a2a2a2" stroke-width="0.9" stroke-linejoin="round"/>
<circle cx="1205.6" cy="748.3" r="0.9" fill="#aaa"/>
<path d="M776.6,598.0 L776.5,598.3 L776.4,598.7 L776.2,599.0 L776.0,599.3 L775.7,599.6 L775.5,599.8 L775.2,600.1 L775.0,600.3 L774.7,600.5 L774.5,600.8 L774.3,601.0 L774.1,601.2 L774.0,601.5 L773.8,601.8 L773.7,602.0 L773.5,602.3 L773.3,602.6 L773.1,602.9 L772.9,603.2 L772.6,603.4 L772.3,603.6 L772.0,603.8 L771.6,603.9 L771.2,604.0 L770.9,604.0 L770.5,604.0 L770.1,604.0 L769.7,603.9 L769.4,603.8 L769.0,603.8 L768.7,603.7 L768.3,603.6 L768.0,603.5 L767.7,603.5 L767.3,603.4 L767.0,603.4 L766.6,603.4 L766.3,603.4 L765.9,603.3 L765.5,603.3 L765.1,603.3 L764.7,603.2 L764.3,603.0 L763.9,602.9 L763.6,602.7 L763.3,602.4 L763.1,602.2 L762.9,601.8 L762.8,601.5 L762.7,601.2 L762.7,600.8 L762.7,600.4 L762.7,600.1 L762.8,599.8 L762.8,599.4 L762.9,599.1 L762.9,598.8 L762.9,598.6 L762.9,598.3 L762.8,598.0 L762.8,597.7 L762.7,597.4 L762.6,597.1 L762.5,596.8 L762.4,596.5 L762.3,596.1 L762.3,595.8 L762.3,595.4 L762.4,595.1 L762.5,594.8 L762.7,594.5 L763.0,594.2 L763.2,593.9 L763.6,593.7 L764.0,593.6 L764.4,593.6 L765.0,593.7 L765.6,593.9 L765.9,593.9 L766.1,593.6 L766.2,593.2 L766.4,592.9 L766.7,592.7 L767.0,592.6 L767.3,592.4 L767.6,592.3 L767.9,592.1 L768.3,592.0 L768.6,591.9 L769.0,591.8 L769.4,591.7 L769.8,591.6 L770.2,591.7 L770.5,591.7 L770.9,591.8 L771.3,592.0 L771.6,592.2 L771.9,592.4 L772.1,592.6 L772.4,592.9 L772.6,593.2 L772.8,593.5 L773.0,593.7 L773.2,594.0 L773.4,594.2 L773.6,594.4 L773.8,594.6 L774.1,594.8 L774.4,595.0 L774.7,595.2 L775.0,595.4 L775.3,595.6 L775.6,595.8 L775.9,596.1 L776.1,596.3 L776.4,596.6 L776.5,597.0 L776.6,597.3 L776.7,597.7 Z" fill="none" stroke="#a2a2a2" stroke-width="0.9" stroke-linejoin="round"/>
<circle cx="769.0" cy="598.0" r="0.9" fill="#aaa"/>
<path d="M775.7,619.5 L775.5,619.8 L775.4,620.1 L775.3,620.4 L775.2,620.6 L775.1,620.9 L775.0,621.2 L775.0,621.5 L774.9,621.8 L774.9,622.1 L774.8,622.4 L774.8,622.8 L774.7,623.1 L774.5,623.4 L774.4,623.7 L774.1,624.0 L773.9,624.2 L773.6,624.4 L773.3,624.6 L772.9,624.7 L772.5,624.8 L772.2,624.9 L771.8,624.9 L771.4,624.9 L771.0,625.0 L770.7,625.0 L770.3,625.0 L770.0,625.0 L769.7,625.1 L769.3,625.1 L769.0,625.2 L768.6,625.3 L768.3,625.4 L767.9,625.5 L767.5,625.6 L767.1,625.6 L766.7,625.6 L766.3,625.6 L765.9,625.5 L765.5,625.4 L765.2,625.2 L764.9,625.0 L764.6,624.7 L764.4,624.4 L764.2,624.1 L764.1,623.8 L763.9,623.5 L763.9,623.1 L763.8,622.8 L763.7,622.5 L763.6,622.2 L763.5,621.9 L763.4,621.7 L763.3,621.4 L763.1,621.2 L762.9,620.9 L762.7,620.7 L762.5,620.4 L762.3,620.1 L762.1,619.8 L761.9,619.5 L761.8,619.2 L761.7,618.8 L761.6,618.5 L761.7,618.1 L761.7,617.8 L761.9,617.5 L762.1,617.2 L762.3,616.9 L762.6,616.7 L762.9,616.4 L763.2,616.2 L763.5,616.0 L763.8,615.8 L764.1,615.7 L764.4,615.5 L764.8,615.5 L765.3,615.5 L765.7,615.6 L766.0,615.4 L766.0,615.0 L766.1,614.5 L766.2,614.1 L766.5,613.8 L766.8,613.6 L767.1,613.4 L767.5,613.3 L767.8,613.2 L768.2,613.1 L768.6,613.2 L769.0,613.2 L769.4,613.3 L769.7,613.5 L770.1,613.6 L770.4,613.8 L770.7,614.0 L771.0,614.2 L771.3,614.4 L771.5,614.6 L771.8,614.7 L772.1,614.8 L772.4,614.9 L772.7,615.0 L773.1,615.1 L773.4,615.2 L773.8,615.3 L774.2,615.4 L774.6,615.6 L774.9,615.7 L775.3,616.0 L775.6,616.2 L775.8,616.5 L776.0,616.8 L776.2,617.1 L776.2,617.5 L776.2,617.8 L776.2,618.2 L776.1,618.5 L776.0,618.9 L775.9,619.2 Z" fill="none" stroke="#a2a2a2" stroke-width="0.9" stroke-linejoin="round"/>
<circle cx="769.0" cy="619.5" r="0.9" fill="#aaa"/>
<path d="M775.3,643.0 L775.4,643.3 L775.5,643.6 L775.6,643.9 L775.6,644.2 L775.7,644.6 L775.7,644.9 L775.7,645.2 L775.6,645.6 L775.5,645.9 L775.3,646.2 L775.1,646.5 L774.9,646.7 L774.6,646.9 L774.2,647.1 L773.9,647.3 L773.6,647.4 L773.2,647.5 L772.9,647.6 L772.6,647.8 L772.2,647.9 L771.9,648.0 L771.6,648.2 L771.3,648.3 L771.1,648.5 L770.8,648.7 L770.4,648.9 L770.1,649.1 L769.8,649.2 L769.4,649.4 L769.0,649.5 L768.6,649.5 L768.2,649.5 L767.8,649.5 L767.4,649.4 L767.1,649.3 L766.7,649.1 L766.4,648.9 L766.1,648.6 L765.9,648.3 L765.7,648.0 L765.5,647.7 L765.3,647.5 L765.1,647.2 L764.9,647.0 L764.7,646.8 L764.5,646.6 L764.2,646.4 L763.9,646.2 L763.7,646.0 L763.3,645.8 L763.0,645.6 L762.7,645.4 L762.4,645.2 L762.1,644.9 L761.9,644.7 L761.7,644.3 L761.6,644.0 L761.5,643.7 L761.5,643.3 L761.5,643.0 L761.6,642.7 L761.8,642.3 L761.9,642.0 L762.2,641.7 L762.4,641.5 L762.6,641.2 L762.8,640.9 L763.0,640.7 L763.2,640.4 L763.4,640.2 L763.5,639.9 L763.7,639.6 L763.8,639.4 L764.0,639.1 L764.2,638.8 L764.5,638.7 L764.9,638.6 L765.4,638.6 L765.6,638.5 L765.7,638.1 L765.8,637.6 L766.1,637.3 L766.4,637.1 L766.8,637.1 L767.2,637.1 L767.6,637.1 L767.9,637.2 L768.3,637.3 L768.7,637.4 L769.0,637.5 L769.3,637.5 L769.7,637.6 L770.0,637.7 L770.3,637.7 L770.6,637.7 L771.0,637.7 L771.4,637.6 L771.7,637.6 L772.2,637.6 L772.6,637.6 L773.0,637.7 L773.4,637.8 L773.8,637.9 L774.1,638.1 L774.4,638.3 L774.7,638.5 L774.9,638.8 L775.1,639.1 L775.2,639.5 L775.3,639.8 L775.3,640.2 L775.3,640.6 L775.3,640.9 L775.3,641.2 L775.2,641.5 L775.2,641.9 L775.2,642.1 L775.2,642.4 L775.3,642.7 Z" fill="none" stroke="#a2a2a2" stroke-width="0.9" stroke-linejoin="round"/>
<circle cx="769.0" cy="643.0" r="0.9" fill="#aaa"/>
<path d="M776.1,667.0 L776.2,667.3 L776.3,667.7 L776.2,668.0 L776.2,668.3 L776.0,668.6 L775.9,668.9 L775.7,669.2 L775.4,669.5 L775.2,669.7 L774.9,669.9 L774.6,670.2 L774.3,670.4 L774.1,670.6 L773.8,670.8 L773.6,671.0 L773.4,671.2 L773.2,671.5 L772.9,671.7 L772.7,672.0 L772.5,672.2 L772.2,672.5 L771.9,672.8 L771.6,673.0 L771.3,673.2 L770.9,673.3 L770.6,673.4 L770.2,673.5 L769.8,673.5 L769.4,673.4 L769.0,673.3 L768.6,673.2 L768.3,673.0 L767.9,672.8 L767.6,672.6 L767.3,672.4 L767.1,672.2 L766.8,672.0 L766.5,671.9 L766.2,671.7 L765.9,671.6 L765.6,671.5 L765.3,671.4 L764.9,671.4 L764.6,671.3 L764.2,671.2 L763.8,671.1 L763.4,670.9 L763.1,670.7 L762.8,670.5 L762.5,670.3 L762.3,670.0 L762.1,669.7 L762.0,669.3 L761.9,669.0 L761.9,668.7 L761.9,668.3 L762.0,668.0 L762.1,667.6 L762.2,667.3 L762.3,667.0 L762.4,666.7 L762.5,666.4 L762.6,666.1 L762.7,665.8 L762.7,665.5 L762.7,665.2 L762.8,664.9 L762.8,664.6 L762.9,664.3 L762.9,663.9 L763.0,663.6 L763.2,663.3 L763.3,663.0 L763.6,662.8 L763.9,662.6 L764.3,662.5 L764.9,662.6 L765.4,662.7 L765.8,662.7 L766.0,662.4 L766.1,662.1 L766.4,661.9 L766.7,661.8 L767.0,661.8 L767.4,661.7 L767.7,661.7 L768.0,661.6 L768.3,661.5 L768.7,661.4 L769.0,661.3 L769.4,661.2 L769.7,661.1 L770.1,660.9 L770.5,660.9 L770.9,660.8 L771.3,660.8 L771.7,660.8 L772.1,660.9 L772.5,661.0 L772.8,661.2 L773.1,661.5 L773.4,661.7 L773.6,662.0 L773.8,662.4 L773.9,662.7 L774.1,663.0 L774.2,663.4 L774.2,663.7 L774.3,664.0 L774.4,664.3 L774.6,664.5 L774.7,664.8 L774.8,665.0 L775.0,665.3 L775.2,665.5 L775.4,665.8 L775.6,666.1 L775.8,666.4 L776.0,666.7 Z" fill="none" stroke="#a2a2a2" stroke-width="0.9" stroke-linejoin="round"/>
<circle cx="769.0" cy="667.0" r="0.9" fill="#aaa"/>
<path d="M776.2,690.0 L776.1,690.3 L776.0,690.6 L775.8,690.9 L775.6,691.2 L775.4,691.5 L775.3,691.8 L775.1,692.0 L774.9,692.3 L774.8,692.6 L774.7,692.9 L774.6,693.2 L774.5,693.5 L774.4,693.8 L774.2,694.1 L774.1,694.4 L773.9,694.7 L773.6,695.0 L773.4,695.3 L773.1,695.5 L772.8,695.7 L772.4,695.8 L772.0,695.9 L771.6,695.9 L771.2,695.9 L770.8,695.9 L770.4,695.8 L770.0,695.7 L769.7,695.6 L769.3,695.5 L769.0,695.4 L768.7,695.3 L768.4,695.3 L768.0,695.3 L767.7,695.3 L767.4,695.3 L767.0,695.3 L766.6,695.3 L766.3,695.4 L765.9,695.4 L765.4,695.4 L765.0,695.3 L764.6,695.2 L764.3,695.1 L763.9,694.9 L763.6,694.7 L763.4,694.4 L763.2,694.1 L763.0,693.8 L762.9,693.5 L762.8,693.1 L762.8,692.8 L762.7,692.4 L762.7,692.1 L762.7,691.8 L762.7,691.5 L762.7,691.2 L762.6,690.9 L762.6,690.6 L762.5,690.3 L762.4,690.0 L762.3,689.7 L762.2,689.4 L762.2,689.1 L762.1,688.7 L762.1,688.4 L762.1,688.1 L762.2,687.7 L762.3,687.4 L762.5,687.1 L762.7,686.9 L763.0,686.6 L763.3,686.4 L763.6,686.2 L764.0,686.1 L764.4,686.0 L764.8,686.0 L765.4,686.1 L765.9,686.3 L766.2,686.2 L766.2,685.9 L766.3,685.4 L766.4,685.0 L766.7,684.7 L766.9,684.5 L767.2,684.3 L767.5,684.1 L767.9,683.8 L768.2,683.7 L768.6,683.5 L769.0,683.4 L769.4,683.4 L769.8,683.4 L770.2,683.4 L770.6,683.5 L770.9,683.7 L771.3,683.9 L771.6,684.1 L771.9,684.4 L772.1,684.7 L772.3,685.0 L772.6,685.2 L772.8,685.5 L773.0,685.8 L773.2,686.0 L773.4,686.2 L773.6,686.4 L773.9,686.6 L774.2,686.7 L774.4,686.9 L774.7,687.1 L775.0,687.3 L775.3,687.5 L775.6,687.8 L775.8,688.1 L776.0,688.4 L776.2,688.7 L776.3,689.0 L776.3,689.3 L776.3,689.7 Z" fill="none" stroke="#a2a2a2" stroke-width="0.9" stroke-linejoin="round"/>
<circle cx="769.0" cy="690.0" r="0.9" fill="#aaa"/>
<path d="M775.6,715.0 L775.5,715.3 L775.5,715.6 L775.5,715.9 L775.5,716.2 L775.5,716.5 L775.5,716.8 L775.5,717.2 L775.5,717.5 L775.4,717.8 L775.3,718.2 L775.2,718.5 L775.0,718.8 L774.8,719.1 L774.5,719.3 L774.2,719.6 L773.9,719.7 L773.5,719.9 L773.1,720.0 L772.7,720.0 L772.4,720.0 L772.0,720.1 L771.6,720.1 L771.2,720.1 L770.9,720.1 L770.6,720.1 L770.3,720.2 L770.0,720.3 L769.7,720.4 L769.3,720.5 L769.0,720.7 L768.6,720.8 L768.3,720.9 L767.9,721.1 L767.5,721.2 L767.1,721.2 L766.7,721.2 L766.3,721.2 L765.9,721.1 L765.5,720.9 L765.2,720.7 L764.9,720.5 L764.7,720.2 L764.4,719.9 L764.3,719.6 L764.1,719.3 L764.0,718.9 L763.8,718.6 L763.7,718.3 L763.6,718.1 L763.4,717.8 L763.3,717.5 L763.1,717.3 L762.9,717.0 L762.7,716.8 L762.5,716.5 L762.3,716.2 L762.1,715.9 L762.0,715.6 L761.8,715.3 L761.8,715.0 L761.7,714.7 L761.8,714.3 L761.8,714.0 L762.0,713.7 L762.1,713.4 L762.4,713.1 L762.6,712.9 L762.8,712.6 L763.1,712.4 L763.4,712.2 L763.6,712.0 L763.9,711.8 L764.1,711.5 L764.3,711.3 L764.5,711.1 L764.8,711.0 L765.2,711.0 L765.6,711.0 L765.8,710.7 L765.8,710.2 L765.9,709.7 L766.0,709.2 L766.3,708.9 L766.6,708.7 L767.0,708.6 L767.4,708.5 L767.8,708.4 L768.2,708.5 L768.6,708.5 L769.0,708.7 L769.4,708.8 L769.7,709.0 L770.1,709.2 L770.4,709.4 L770.7,709.6 L770.9,709.8 L771.2,710.0 L771.5,710.1 L771.8,710.2 L772.1,710.3 L772.4,710.4 L772.8,710.5 L773.1,710.6 L773.5,710.7 L773.9,710.8 L774.2,710.9 L774.6,711.1 L774.9,711.3 L775.2,711.5 L775.4,711.8 L775.6,712.1 L775.7,712.4 L775.8,712.7 L775.9,713.1 L775.9,713.4 L775.8,713.7 L775.8,714.1 L775.7,714.4 L775.6,714.7 Z" fill="none" stroke="#a2a2a2" stroke-width="0.9" stroke-linejoin="round"/>
<circle cx="769.0" cy="715.0" r="0.9" fill="#aaa"/>
<path d="M775.9,737.0 L776.0,737.3 L776.1,737.6 L776.1,738.0 L776.2,738.3 L776.1,738.7 L776.1,739.0 L775.9,739.3 L775.8,739.6 L775.5,739.9 L775.3,740.1 L774.9,740.4 L774.6,740.5 L774.3,740.7 L773.9,740.8 L773.6,741.0 L773.2,741.1 L772.9,741.2 L772.6,741.3 L772.3,741.5 L772.1,741.6 L771.8,741.8 L771.6,742.0 L771.3,742.3 L771.1,742.5 L770.8,742.7 L770.5,743.0 L770.1,743.2 L769.8,743.4 L769.4,743.5 L769.0,743.6 L768.6,743.6 L768.2,743.6 L767.8,743.5 L767.4,743.4 L767.1,743.3 L766.7,743.1 L766.4,742.8 L766.2,742.6 L765.9,742.3 L765.7,742.0 L765.4,741.8 L765.2,741.5 L765.0,741.3 L764.7,741.1 L764.5,740.9 L764.2,740.7 L763.9,740.6 L763.6,740.4 L763.4,740.2 L763.1,740.0 L762.8,739.8 L762.5,739.5 L762.3,739.2 L762.1,738.9 L762.0,738.6 L761.9,738.3 L761.9,738.0 L761.9,737.7 L761.9,737.3 L762.1,737.0 L762.2,736.7 L762.3,736.4 L762.5,736.1 L762.7,735.8 L762.8,735.6 L762.9,735.3 L763.1,735.0 L763.2,734.7 L763.2,734.4 L763.3,734.1 L763.4,733.8 L763.4,733.5 L763.5,733.2 L763.7,732.8 L763.9,732.5 L764.2,732.4 L764.6,732.3 L765.1,732.3 L765.4,732.2 L765.6,731.8 L765.7,731.4 L766.0,731.2 L766.4,731.1 L766.8,731.1 L767.2,731.1 L767.6,731.2 L768.0,731.3 L768.3,731.4 L768.7,731.5 L769.0,731.6 L769.3,731.6 L769.6,731.7 L770.0,731.7 L770.3,731.7 L770.6,731.7 L771.0,731.6 L771.4,731.6 L771.8,731.6 L772.2,731.6 L772.6,731.6 L772.9,731.7 L773.3,731.8 L773.7,732.0 L774.0,732.2 L774.2,732.4 L774.5,732.7 L774.7,733.0 L774.8,733.3 L774.9,733.7 L775.0,734.0 L775.1,734.3 L775.1,734.6 L775.2,734.9 L775.2,735.2 L775.3,735.5 L775.4,735.8 L775.5,736.1 L775.6,736.4 L775.7,736.7 Z" fill="none" stroke="#a2a2a2" stroke-width="0.9" stroke-linejoin="round"/>
<circle cx="769.0" cy="737.0" r="0.9" fill="#aaa"/>
<path d="M776.4,761.0 L776.4,761.3 L776.3,761.7 L776.2,762.0 L776.0,762.3 L775.8,762.6 L775.5,762.8 L775.2,763.1 L775.0,763.3 L774.7,763.5 L774.4,763.7 L774.2,763.9 L774.0,764.1 L773.8,764.4 L773.6,764.6 L773.5,764.9 L773.3,765.2 L773.1,765.5 L773.0,765.8 L772.8,766.1 L772.6,766.4 L772.3,766.7 L772.0,766.9 L771.7,767.1 L771.4,767.3 L771.0,767.4 L770.6,767.5 L770.2,767.5 L769.8,767.5 L769.4,767.4 L769.0,767.3 L768.6,767.1 L768.3,767.0 L767.9,766.8 L767.6,766.6 L767.3,766.4 L767.0,766.3 L766.7,766.2 L766.4,766.0 L766.1,765.9 L765.8,765.8 L765.4,765.8 L765.1,765.7 L764.7,765.6 L764.4,765.5 L764.0,765.3 L763.7,765.1 L763.4,764.9 L763.1,764.7 L762.9,764.4 L762.7,764.2 L762.6,763.8 L762.5,763.5 L762.4,763.2 L762.4,762.9 L762.4,762.5 L762.5,762.2 L762.5,761.9 L762.6,761.6 L762.6,761.3 L762.6,761.0 L762.6,760.7 L762.6,760.4 L762.5,760.1 L762.5,759.8 L762.4,759.5 L762.4,759.1 L762.4,758.8 L762.4,758.4 L762.4,758.1 L762.5,757.7 L762.6,757.4 L762.8,757.1 L763.1,756.8 L763.4,756.6 L763.8,756.4 L764.3,756.4 L764.9,756.6 L765.5,756.8 L765.9,756.8 L766.1,756.6 L766.2,756.3 L766.5,756.1 L766.8,756.0 L767.1,755.9 L767.4,755.9 L767.7,755.8 L768.0,755.7 L768.3,755.6 L768.7,755.4 L769.0,755.3 L769.4,755.2 L769.7,755.0 L770.1,754.9 L770.5,754.9 L770.9,754.9 L771.3,754.9 L771.7,755.0 L772.0,755.1 L772.4,755.2 L772.7,755.5 L773.0,755.7 L773.2,756.0 L773.4,756.2 L773.6,756.5 L773.8,756.8 L774.0,757.1 L774.1,757.4 L774.3,757.7 L774.5,757.9 L774.7,758.2 L774.9,758.4 L775.1,758.6 L775.3,758.9 L775.5,759.1 L775.8,759.4 L776.0,759.7 L776.2,760.0 L776.3,760.3 L776.4,760.7 Z" fill="none" stroke="#a2a2a2" stroke-width="0.9" stroke-linejoin="round"/>
<circle cx="769.0" cy="761.0" r="0.9" fill="#aaa"/>
<path d="M775.8,783.5 L775.6,783.8 L775.4,784.1 L775.3,784.4 L775.1,784.6 L775.0,784.9 L774.9,785.2 L774.8,785.4 L774.7,785.7 L774.7,786.0 L774.7,786.3 L774.6,786.7 L774.6,787.0 L774.5,787.4 L774.4,787.7 L774.2,788.1 L774.0,788.4 L773.8,788.7 L773.5,788.9 L773.2,789.1 L772.8,789.3 L772.4,789.4 L772.0,789.4 L771.6,789.4 L771.2,789.4 L770.8,789.4 L770.4,789.3 L770.0,789.2 L769.7,789.1 L769.3,789.1 L769.0,789.0 L768.7,789.0 L768.3,789.0 L768.0,789.0 L767.7,789.0 L767.3,789.0 L766.9,789.0 L766.6,789.0 L766.2,789.0 L765.8,789.0 L765.4,788.9 L765.1,788.8 L764.7,788.6 L764.4,788.4 L764.1,788.2 L763.9,787.9 L763.7,787.6 L763.6,787.3 L763.4,787.0 L763.3,786.7 L763.2,786.4 L763.2,786.1 L763.1,785.8 L763.0,785.5 L762.9,785.2 L762.8,785.0 L762.6,784.7 L762.5,784.4 L762.3,784.1 L762.1,783.8 L762.0,783.5 L761.8,783.2 L761.7,782.8 L761.6,782.5 L761.6,782.1 L761.7,781.8 L761.8,781.5 L761.9,781.1 L762.1,780.8 L762.4,780.6 L762.7,780.3 L763.0,780.1 L763.4,780.0 L763.8,779.8 L764.1,779.7 L764.5,779.6 L765.0,779.6 L765.5,779.8 L766.0,779.9 L766.3,779.8 L766.3,779.5 L766.3,779.0 L766.5,778.6 L766.7,778.3 L766.9,778.0 L767.2,777.8 L767.5,777.5 L767.9,777.4 L768.2,777.2 L768.6,777.1 L769.0,777.0 L769.4,777.0 L769.8,777.0 L770.2,777.1 L770.5,777.2 L770.9,777.4 L771.2,777.6 L771.5,777.8 L771.8,778.1 L772.1,778.3 L772.3,778.5 L772.6,778.7 L772.8,778.9 L773.1,779.1 L773.4,779.3 L773.7,779.4 L774.0,779.6 L774.3,779.8 L774.6,780.0 L774.9,780.2 L775.2,780.4 L775.5,780.6 L775.7,780.9 L775.9,781.2 L776.0,781.5 L776.1,781.8 L776.1,782.2 L776.1,782.5 L776.0,782.9 L775.9,783.2 Z" fill="none" stroke="#a2a2a2" stroke-width="0.9" stroke-linejoin="round"/>
<circle cx="769.0" cy="783.5" r="0.9" fill="#aaa"/>
<text x="992.2" y="32.7" font-size="16.3" text-anchor="middle">Deck</text>
<text x="993.8" y="102.7" font-size="21.3" text-anchor="middle">Alfresco</text>
<text x="979.0" y="377.5" font-size="23.8" text-anchor="middle">Residence</text>
</g>
</svg>
</body>
</html>
